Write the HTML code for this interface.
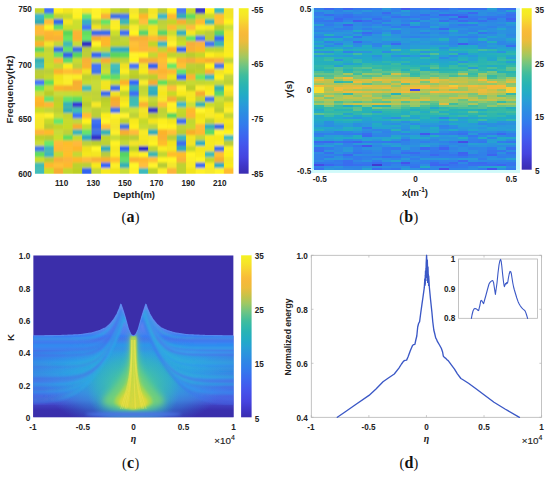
<!DOCTYPE html>
<html><head><meta charset="utf-8"><title>Figure</title>
<style>html,body{margin:0;padding:0;background:#fff;}svg{display:block;}</style>
</head><body>
<svg width="550" height="477" viewBox="0 0 550 477">
<rect width="550" height="477" fill="#ffffff"/>
<defs><linearGradient id="pg" x1="0" y1="0" x2="0" y2="1"><stop offset="0.0000" stop-color="#f4f222"/><stop offset="0.0200" stop-color="#f5ec25"/><stop offset="0.0400" stop-color="#f6e728"/><stop offset="0.0600" stop-color="#f6df2c"/><stop offset="0.0800" stop-color="#f7d630"/><stop offset="0.1000" stop-color="#f8cc34"/><stop offset="0.1200" stop-color="#f8c436"/><stop offset="0.1400" stop-color="#f8bc39"/><stop offset="0.1600" stop-color="#f6b93a"/><stop offset="0.1800" stop-color="#f1ba3b"/><stop offset="0.2000" stop-color="#ecbc3c"/><stop offset="0.2200" stop-color="#debe41"/><stop offset="0.2400" stop-color="#cfc146"/><stop offset="0.2600" stop-color="#bfc34e"/><stop offset="0.2800" stop-color="#aec659"/><stop offset="0.3000" stop-color="#9cc864"/><stop offset="0.3200" stop-color="#89c671"/><stop offset="0.3400" stop-color="#76c57e"/><stop offset="0.3600" stop-color="#64c389"/><stop offset="0.3800" stop-color="#54c092"/><stop offset="0.4000" stop-color="#44bd9b"/><stop offset="0.4200" stop-color="#39bba3"/><stop offset="0.4400" stop-color="#32b8aa"/><stop offset="0.4600" stop-color="#2bb5b1"/><stop offset="0.4800" stop-color="#27b2b7"/><stop offset="0.5000" stop-color="#25afbe"/><stop offset="0.5200" stop-color="#23acc5"/><stop offset="0.5400" stop-color="#23a7cb"/><stop offset="0.5600" stop-color="#26a2d2"/><stop offset="0.5800" stop-color="#289cd8"/><stop offset="0.6000" stop-color="#2a96dc"/><stop offset="0.6200" stop-color="#2b91e0"/><stop offset="0.6400" stop-color="#2d8be3"/><stop offset="0.6600" stop-color="#2f86e6"/><stop offset="0.6800" stop-color="#3081e9"/><stop offset="0.7000" stop-color="#327cec"/><stop offset="0.7200" stop-color="#3576ed"/><stop offset="0.7400" stop-color="#386fee"/><stop offset="0.7600" stop-color="#3b69ef"/><stop offset="0.7800" stop-color="#3d63ef"/><stop offset="0.8000" stop-color="#405dee"/><stop offset="0.8200" stop-color="#4357ed"/><stop offset="0.8400" stop-color="#4452ea"/><stop offset="0.8600" stop-color="#454de7"/><stop offset="0.8800" stop-color="#4549e3"/><stop offset="0.9000" stop-color="#4644e0"/><stop offset="0.9200" stop-color="#433fd7"/><stop offset="0.9400" stop-color="#4139cd"/><stop offset="0.9600" stop-color="#3e34c4"/><stop offset="0.9800" stop-color="#3c30ba"/><stop offset="1.0000" stop-color="#3a2cb0"/></linearGradient>
<clipPath id="clipA"><rect x="34.90" y="8.20" width="198.50" height="165.50"/></clipPath>
<filter id="vblurA" x="-5%" y="-5%" width="110%" height="110%"><feGaussianBlur stdDeviation="0.5 1.3"/></filter>
<clipPath id="clipC"><rect x="33.20" y="255.30" width="200.40" height="162.00"/></clipPath>
<clipPath id="clipLit"><path d="M30.20 335.80 L33.20 335.80 L33.70 335.79 L34.20 335.79 L34.70 335.78 L35.20 335.78 L35.70 335.77 L36.20 335.77 L36.70 335.76 L37.20 335.75 L37.70 335.75 L38.20 335.74 L38.70 335.74 L39.20 335.73 L39.70 335.73 L40.20 335.72 L40.70 335.72 L41.20 335.71 L41.70 335.70 L42.20 335.70 L42.70 335.69 L43.20 335.69 L43.70 335.68 L44.20 335.68 L44.70 335.67 L45.20 335.67 L45.70 335.66 L46.20 335.65 L46.70 335.65 L47.20 335.64 L47.70 335.64 L48.20 335.63 L48.70 335.63 L49.20 335.62 L49.70 335.61 L50.20 335.61 L50.70 335.60 L51.20 335.60 L51.70 335.59 L52.20 335.59 L52.70 335.58 L53.20 335.58 L53.70 335.57 L54.20 335.56 L54.70 335.56 L55.20 335.55 L55.70 335.55 L56.20 335.54 L56.70 335.54 L57.20 335.53 L57.70 335.53 L58.20 335.52 L58.70 335.51 L59.20 335.51 L59.70 335.50 L60.20 335.49 L60.70 335.47 L61.20 335.45 L61.70 335.42 L62.20 335.40 L62.70 335.38 L63.20 335.36 L63.70 335.33 L64.20 335.31 L64.70 335.29 L65.20 335.27 L65.70 335.24 L66.20 335.22 L66.70 335.20 L67.20 335.18 L67.70 335.15 L68.20 335.13 L68.70 335.11 L69.20 335.09 L69.70 335.06 L70.20 335.04 L70.70 335.02 L71.20 335.00 L71.70 334.97 L72.20 334.95 L72.70 334.93 L73.20 334.91 L73.70 334.88 L74.20 334.86 L74.70 334.84 L75.20 334.82 L75.70 334.79 L76.20 334.77 L76.70 334.75 L77.20 334.73 L77.70 334.70 L78.20 334.68 L78.70 334.66 L79.20 334.64 L79.70 334.61 L80.20 334.57 L80.70 334.50 L81.20 334.42 L81.70 334.35 L82.20 334.27 L82.70 334.19 L83.20 334.12 L83.70 334.05 L84.20 333.97 L84.70 333.90 L85.20 333.82 L85.70 333.75 L86.20 333.67 L86.70 333.60 L87.20 333.52 L87.70 333.44 L88.20 333.37 L88.70 333.30 L89.20 333.22 L89.70 333.15 L90.20 333.07 L90.70 333.00 L91.20 332.92 L91.70 332.85 L92.20 332.74 L92.70 332.59 L93.20 332.44 L93.70 332.29 L94.20 332.14 L94.70 331.99 L95.20 331.84 L95.70 331.69 L96.20 331.54 L96.70 331.39 L97.20 331.24 L97.70 331.09 L98.20 330.94 L98.70 330.79 L99.20 330.64 L99.70 330.49 L100.20 330.30 L100.70 330.06 L101.20 329.82 L101.70 329.58 L102.20 329.34 L102.70 329.09 L103.20 328.85 L103.70 328.61 L104.20 328.37 L104.70 328.13 L105.20 327.89 L105.70 327.64 L106.20 327.32 L106.70 326.89 L107.20 326.45 L107.70 326.01 L108.20 325.57 L108.70 325.14 L109.20 324.70 L109.70 324.26 L110.20 323.75 L110.70 323.12 L111.20 322.50 L111.70 321.88 L112.20 321.25 L112.70 320.62 L113.20 320.00 L113.70 319.38 L114.20 318.66 L114.70 317.81 L115.20 316.96 L115.70 316.11 L116.20 315.26 L116.70 314.41 L117.20 313.43 L117.70 312.25 L118.20 311.07 L118.70 309.89 L119.20 308.71 L119.70 307.39 L120.20 305.85 L120.70 304.31 L121.20 304.60 L121.70 306.10 L122.20 307.60 L122.70 309.13 L123.20 310.71 L123.70 312.29 L124.20 313.87 L124.70 315.45 L125.20 317.12 L125.70 318.92 L126.20 320.72 L126.70 322.52 L127.20 324.32 L127.70 326.12 L128.20 327.92 L128.70 329.44 L129.20 330.54 L129.70 331.64 L130.20 332.74 L130.70 333.84 L131.20 334.63 L131.70 334.95 L132.20 335.27 L132.70 335.59 L133.20 335.90 L133.70 335.84 L134.20 335.52 L134.70 335.20 L135.20 334.88 L135.70 334.56 L136.20 333.62 L136.70 332.52 L137.20 331.42 L137.70 330.32 L138.20 329.22 L138.70 327.56 L139.20 325.76 L139.70 323.96 L140.20 322.16 L140.70 320.36 L141.20 318.56 L141.70 316.76 L142.20 315.14 L142.70 313.56 L143.20 311.98 L143.70 310.40 L144.20 308.82 L144.70 307.30 L145.20 305.80 L145.70 304.30 L146.20 304.62 L146.70 306.16 L147.20 307.69 L147.70 308.94 L148.20 310.12 L148.70 311.30 L149.20 312.48 L149.70 313.66 L150.20 314.58 L150.70 315.43 L151.20 316.28 L151.70 317.13 L152.20 317.98 L152.70 318.83 L153.20 319.50 L153.70 320.12 L154.20 320.75 L154.70 321.38 L155.20 322.00 L155.70 322.62 L156.20 323.25 L156.70 323.88 L157.20 324.35 L157.70 324.79 L158.20 325.22 L158.70 325.66 L159.20 326.10 L159.70 326.54 L160.20 326.97 L160.70 327.41 L161.20 327.69 L161.70 327.94 L162.20 328.18 L162.70 328.42 L163.20 328.66 L163.70 328.90 L164.20 329.14 L164.70 329.38 L165.20 329.63 L165.70 329.87 L166.20 330.11 L166.70 330.35 L167.20 330.52 L167.70 330.67 L168.20 330.82 L168.70 330.97 L169.20 331.12 L169.70 331.27 L170.20 331.42 L170.70 331.57 L171.20 331.72 L171.70 331.87 L172.20 332.02 L172.70 332.17 L173.20 332.32 L173.70 332.47 L174.20 332.62 L174.70 332.77 L175.20 332.86 L175.70 332.94 L176.20 333.01 L176.70 333.09 L177.20 333.16 L177.70 333.24 L178.20 333.31 L178.70 333.38 L179.20 333.46 L179.70 333.54 L180.20 333.61 L180.70 333.69 L181.20 333.76 L181.70 333.84 L182.20 333.91 L182.70 333.99 L183.20 334.06 L183.70 334.13 L184.20 334.21 L184.70 334.29 L185.20 334.36 L185.70 334.44 L186.20 334.51 L186.70 334.59 L187.20 334.62 L187.70 334.64 L188.20 334.66 L188.70 334.69 L189.20 334.71 L189.70 334.73 L190.20 334.75 L190.70 334.78 L191.20 334.80 L191.70 334.82 L192.20 334.84 L192.70 334.87 L193.20 334.89 L193.70 334.91 L194.20 334.93 L194.70 334.96 L195.20 334.98 L195.70 335.00 L196.20 335.02 L196.70 335.05 L197.20 335.07 L197.70 335.09 L198.20 335.11 L198.70 335.14 L199.20 335.16 L199.70 335.18 L200.20 335.20 L200.70 335.23 L201.20 335.25 L201.70 335.27 L202.20 335.29 L202.70 335.32 L203.20 335.34 L203.70 335.36 L204.20 335.38 L204.70 335.41 L205.20 335.43 L205.70 335.45 L206.20 335.47 L206.70 335.50 L207.20 335.50 L207.70 335.51 L208.20 335.52 L208.70 335.52 L209.20 335.53 L209.70 335.53 L210.20 335.54 L210.70 335.54 L211.20 335.55 L211.70 335.55 L212.20 335.56 L212.70 335.57 L213.20 335.57 L213.70 335.58 L214.20 335.58 L214.70 335.59 L215.20 335.59 L215.70 335.60 L216.20 335.60 L216.70 335.61 L217.20 335.62 L217.70 335.62 L218.20 335.63 L218.70 335.63 L219.20 335.64 L219.70 335.64 L220.20 335.65 L220.70 335.66 L221.20 335.66 L221.70 335.67 L222.20 335.67 L222.70 335.68 L223.20 335.68 L223.70 335.69 L224.20 335.69 L224.70 335.70 L225.20 335.71 L225.70 335.71 L226.20 335.72 L226.70 335.72 L227.20 335.73 L227.70 335.73 L228.20 335.74 L228.70 335.74 L229.20 335.75 L229.70 335.76 L230.20 335.76 L230.70 335.77 L231.20 335.77 L231.70 335.78 L232.20 335.78 L232.70 335.79 L233.20 335.79 L236.60 335.79 L236.60 420.30 L30.20 420.30 Z"/></clipPath>
<linearGradient id="litg" gradientUnits="userSpaceOnUse" x1="0" y1="300" x2="0" y2="417"><stop offset="0.0000" stop-color="#8a8cec"/><stop offset="0.1538" stop-color="#6f86ee"/><stop offset="0.2906" stop-color="#4a80f0"/><stop offset="0.3077" stop-color="#3a78f8"/><stop offset="0.3333" stop-color="#4a6eea"/><stop offset="0.3590" stop-color="#3f7cf0"/><stop offset="0.3846" stop-color="#2a90f0"/><stop offset="0.4188" stop-color="#3a84f0"/><stop offset="0.4530" stop-color="#2f98ea"/><stop offset="0.5556" stop-color="#2d9fe6"/><stop offset="0.6667" stop-color="#2f9ce4"/><stop offset="0.7350" stop-color="#3a84e8"/><stop offset="0.8034" stop-color="#4670e6"/><stop offset="0.8547" stop-color="#4a5cd8"/><stop offset="0.8974" stop-color="#4040c0"/><stop offset="0.9402" stop-color="#3a30ae"/><stop offset="1.0000" stop-color="#3a2eaa"/></linearGradient>
<linearGradient id="sideg" x1="0" y1="0" x2="1" y2="0"><stop offset="0" stop-color="#4a58e0" stop-opacity="0.4"/><stop offset="0.22" stop-color="#4a58e0" stop-opacity="0"/><stop offset="0.78" stop-color="#4a58e0" stop-opacity="0"/><stop offset="1" stop-color="#4a58e0" stop-opacity="0.4"/></linearGradient>
<radialGradient id="tealg" gradientUnits="userSpaceOnUse" cx="0" cy="0" r="1"><stop offset="0" stop-color="#34b4c8" stop-opacity="0.95"/><stop offset="0.4" stop-color="#30aad2" stop-opacity="0.8"/><stop offset="0.75" stop-color="#2f9ee0" stop-opacity="0.4"/><stop offset="1" stop-color="#2f90e6" stop-opacity="0"/></radialGradient>
<radialGradient id="greeng" gradientUnits="userSpaceOnUse" cx="0" cy="0" r="1"><stop offset="0" stop-color="#62cc88" stop-opacity="1"/><stop offset="0.45" stop-color="#48c4a0" stop-opacity="0.85"/><stop offset="0.8" stop-color="#38b8b4" stop-opacity="0.4"/><stop offset="1" stop-color="#34b0c0" stop-opacity="0"/></radialGradient>
<filter id="blC3" x="-30%" y="-30%" width="160%" height="160%"><feGaussianBlur stdDeviation="3"/></filter>
<filter id="blC2" x="-30%" y="-30%" width="160%" height="160%"><feGaussianBlur stdDeviation="1.6"/></filter>
<filter id="blC05" x="-30%" y="-30%" width="160%" height="160%"><feGaussianBlur stdDeviation="0.35"/></filter>
<filter id="blC1" x="-30%" y="-30%" width="160%" height="160%"><feGaussianBlur stdDeviation="0.8"/></filter>
<linearGradient id="colg" gradientUnits="userSpaceOnUse" x1="0" y1="336" x2="0" y2="400"><stop offset="0" stop-color="#9cd658"/><stop offset="0.35" stop-color="#c4dc42"/><stop offset="1" stop-color="#dcd83a"/></linearGradient></defs>
<g clip-path="url(#clipA)"><g filter="url(#vblurA)"><rect x="30.90" y="2.20" width="206.50" height="177.50" fill="#e6d838"/><rect x="34.85" y="2.15" width="9.55" height="11.62" fill="#c2d62c"/><rect x="34.85" y="13.67" width="9.55" height="5.62" fill="#3ab6c8"/><rect x="34.85" y="19.18" width="9.55" height="5.62" fill="#2fabb6"/><rect x="34.85" y="24.70" width="9.55" height="5.62" fill="#ffbd2d"/><rect x="34.85" y="30.22" width="9.55" height="5.62" fill="#ffb73c"/><rect x="34.85" y="35.73" width="9.55" height="5.62" fill="#b9cd38"/><rect x="34.85" y="41.25" width="9.55" height="5.62" fill="#fbb22b"/><rect x="34.85" y="46.77" width="9.55" height="5.62" fill="#58d667"/><rect x="34.85" y="52.28" width="9.55" height="5.62" fill="#c5d92a"/><rect x="34.85" y="57.80" width="9.55" height="5.62" fill="#35b1b6"/><rect x="34.85" y="63.32" width="9.55" height="5.62" fill="#3fbbc1"/><rect x="34.85" y="68.83" width="9.55" height="5.62" fill="#b9cd3a"/><rect x="34.85" y="74.35" width="9.55" height="5.62" fill="#bbcf2f"/><rect x="34.85" y="79.87" width="9.55" height="5.62" fill="#4678fa"/><rect x="34.85" y="85.38" width="9.55" height="5.62" fill="#68e65b"/><rect x="34.85" y="90.90" width="9.55" height="5.62" fill="#cade3a"/><rect x="34.85" y="96.42" width="9.55" height="5.62" fill="#ffb82b"/><rect x="34.85" y="101.93" width="9.55" height="5.62" fill="#fcb32b"/><rect x="34.85" y="107.45" width="9.55" height="5.62" fill="#c9dd2c"/><rect x="34.85" y="112.97" width="9.55" height="5.62" fill="#f9eb27"/><rect x="34.85" y="118.48" width="9.55" height="5.62" fill="#f4e62b"/><rect x="34.85" y="124.00" width="9.55" height="5.62" fill="#f3e52c"/><rect x="34.85" y="129.52" width="9.55" height="5.62" fill="#feb53b"/><rect x="34.85" y="135.03" width="9.55" height="5.62" fill="#bdd12b"/><rect x="34.85" y="140.55" width="9.55" height="5.62" fill="#cade3a"/><rect x="34.85" y="146.07" width="9.55" height="5.62" fill="#4678ec"/><rect x="34.85" y="151.58" width="9.55" height="5.62" fill="#61df5d"/><rect x="34.85" y="157.10" width="9.55" height="5.62" fill="#c9dd2a"/><rect x="34.85" y="162.62" width="9.55" height="5.62" fill="#40bcb5"/><rect x="34.85" y="168.13" width="9.55" height="11.62" fill="#41bdba"/><rect x="44.30" y="2.15" width="9.55" height="11.62" fill="#4173f7"/><rect x="44.30" y="13.67" width="9.55" height="5.62" fill="#63e164"/><rect x="44.30" y="19.18" width="9.55" height="5.62" fill="#ffba3c"/><rect x="44.30" y="24.70" width="9.55" height="5.62" fill="#fef025"/><rect x="44.30" y="30.22" width="9.55" height="5.62" fill="#feb531"/><rect x="44.30" y="35.73" width="9.55" height="5.62" fill="#fab131"/><rect x="44.30" y="41.25" width="9.55" height="5.62" fill="#f2e42c"/><rect x="44.30" y="46.77" width="9.55" height="5.62" fill="#c1d538"/><rect x="44.30" y="52.28" width="9.55" height="5.62" fill="#c7db32"/><rect x="44.30" y="57.80" width="9.55" height="5.62" fill="#c6da31"/><rect x="44.30" y="63.32" width="9.55" height="5.62" fill="#cbdf2a"/><rect x="44.30" y="68.83" width="9.55" height="5.62" fill="#bbcf38"/><rect x="44.30" y="74.35" width="9.55" height="5.62" fill="#c5d92d"/><rect x="44.30" y="79.87" width="9.55" height="5.62" fill="#60de5e"/><rect x="44.30" y="85.38" width="9.55" height="5.62" fill="#c7db35"/><rect x="44.30" y="90.90" width="9.55" height="5.62" fill="#b9cd2a"/><rect x="44.30" y="96.42" width="9.55" height="5.62" fill="#67e56c"/><rect x="44.30" y="101.93" width="9.55" height="5.62" fill="#ffb634"/><rect x="44.30" y="107.45" width="9.55" height="5.62" fill="#c3d73b"/><rect x="44.30" y="112.97" width="9.55" height="5.62" fill="#fff12c"/><rect x="44.30" y="118.48" width="9.55" height="5.62" fill="#c6da2a"/><rect x="44.30" y="124.00" width="9.55" height="5.62" fill="#bace30"/><rect x="44.30" y="129.52" width="9.55" height="5.62" fill="#ffbb2c"/><rect x="44.30" y="135.03" width="9.55" height="5.62" fill="#b9cd31"/><rect x="44.30" y="140.55" width="9.55" height="5.62" fill="#6ae86c"/><rect x="44.30" y="146.07" width="9.55" height="5.62" fill="#3cb8bd"/><rect x="44.30" y="151.58" width="9.55" height="5.62" fill="#3ab6bf"/><rect x="44.30" y="157.10" width="9.55" height="5.62" fill="#b8cc36"/><rect x="44.30" y="162.62" width="9.55" height="5.62" fill="#ffb72f"/><rect x="44.30" y="168.13" width="9.55" height="11.62" fill="#cbdf2b"/><rect x="53.75" y="2.15" width="9.55" height="11.62" fill="#fff11b"/><rect x="53.75" y="13.67" width="9.55" height="5.62" fill="#bed231"/><rect x="53.75" y="19.18" width="9.55" height="5.62" fill="#3668ed"/><rect x="53.75" y="24.70" width="9.55" height="5.62" fill="#62e066"/><rect x="53.75" y="30.22" width="9.55" height="5.62" fill="#ffbb2c"/><rect x="53.75" y="35.73" width="9.55" height="5.62" fill="#fab138"/><rect x="53.75" y="41.25" width="9.55" height="5.62" fill="#c4d839"/><rect x="53.75" y="46.77" width="9.55" height="5.62" fill="#3a6cea"/><rect x="53.75" y="52.28" width="9.55" height="5.62" fill="#63e16b"/><rect x="53.75" y="57.80" width="9.55" height="5.62" fill="#fdb437"/><rect x="53.75" y="63.32" width="9.55" height="5.62" fill="#c3d734"/><rect x="53.75" y="68.83" width="9.55" height="5.62" fill="#fcb32e"/><rect x="53.75" y="74.35" width="9.55" height="5.62" fill="#f2e41f"/><rect x="53.75" y="79.87" width="9.55" height="5.62" fill="#f4e621"/><rect x="53.75" y="85.38" width="9.55" height="5.62" fill="#fcb32a"/><rect x="53.75" y="90.90" width="9.55" height="5.62" fill="#c7db3a"/><rect x="53.75" y="96.42" width="9.55" height="5.62" fill="#bdd130"/><rect x="53.75" y="101.93" width="9.55" height="5.62" fill="#c1d528"/><rect x="53.75" y="107.45" width="9.55" height="5.62" fill="#bcd035"/><rect x="53.75" y="112.97" width="9.55" height="5.62" fill="#c9dd33"/><rect x="53.75" y="118.48" width="9.55" height="5.62" fill="#69e76c"/><rect x="53.75" y="124.00" width="9.55" height="5.62" fill="#c2d62c"/><rect x="53.75" y="129.52" width="9.55" height="5.62" fill="#c8dc3b"/><rect x="53.75" y="135.03" width="9.55" height="5.62" fill="#cce029"/><rect x="53.75" y="140.55" width="9.55" height="5.62" fill="#ffba3b"/><rect x="53.75" y="146.07" width="9.55" height="5.62" fill="#ffb836"/><rect x="53.75" y="151.58" width="9.55" height="5.62" fill="#c4d834"/><rect x="53.75" y="157.10" width="9.55" height="5.62" fill="#f8af39"/><rect x="53.75" y="162.62" width="9.55" height="5.62" fill="#ffc036"/><rect x="53.75" y="168.13" width="9.55" height="11.62" fill="#f6ad30"/><rect x="63.21" y="2.15" width="9.55" height="11.62" fill="#f2e420"/><rect x="63.21" y="13.67" width="9.55" height="5.62" fill="#c6da2d"/><rect x="63.21" y="19.18" width="9.55" height="5.62" fill="#f3e524"/><rect x="63.21" y="24.70" width="9.55" height="5.62" fill="#cbdf29"/><rect x="63.21" y="30.22" width="9.55" height="5.62" fill="#59d75a"/><rect x="63.21" y="35.73" width="9.55" height="5.62" fill="#68e65e"/><rect x="63.21" y="41.25" width="9.55" height="5.62" fill="#3fbbb7"/><rect x="63.21" y="46.77" width="9.55" height="5.62" fill="#61df6d"/><rect x="63.21" y="52.28" width="9.55" height="5.62" fill="#3264e8"/><rect x="63.21" y="57.80" width="9.55" height="5.62" fill="#5cda6d"/><rect x="63.21" y="63.32" width="9.55" height="5.62" fill="#fcee1e"/><rect x="63.21" y="68.83" width="9.55" height="5.62" fill="#ffc032"/><rect x="63.21" y="74.35" width="9.55" height="5.62" fill="#fbed2d"/><rect x="63.21" y="79.87" width="9.55" height="5.62" fill="#fbed29"/><rect x="63.21" y="85.38" width="9.55" height="5.62" fill="#f8af2d"/><rect x="63.21" y="90.90" width="9.55" height="5.62" fill="#c7db36"/><rect x="63.21" y="96.42" width="9.55" height="5.62" fill="#65e369"/><rect x="63.21" y="101.93" width="9.55" height="5.62" fill="#37b3b6"/><rect x="63.21" y="107.45" width="9.55" height="5.62" fill="#32aeb7"/><rect x="63.21" y="112.97" width="9.55" height="5.62" fill="#c2d630"/><rect x="63.21" y="118.48" width="9.55" height="5.62" fill="#c7db2d"/><rect x="63.21" y="124.00" width="9.55" height="5.62" fill="#c8dc28"/><rect x="63.21" y="129.52" width="9.55" height="5.62" fill="#bed238"/><rect x="63.21" y="135.03" width="9.55" height="5.62" fill="#61df5e"/><rect x="63.21" y="140.55" width="9.55" height="5.62" fill="#ffbd2a"/><rect x="63.21" y="146.07" width="9.55" height="5.62" fill="#ffbc33"/><rect x="63.21" y="151.58" width="9.55" height="5.62" fill="#ffc02c"/><rect x="63.21" y="157.10" width="9.55" height="5.62" fill="#fdb43a"/><rect x="63.21" y="162.62" width="9.55" height="5.62" fill="#ffb72f"/><rect x="63.21" y="168.13" width="9.55" height="11.62" fill="#c3d72f"/><rect x="72.66" y="2.15" width="9.55" height="11.62" fill="#fff32b"/><rect x="72.66" y="13.67" width="9.55" height="5.62" fill="#fff224"/><rect x="72.66" y="19.18" width="9.55" height="5.62" fill="#cce02f"/><rect x="72.66" y="24.70" width="9.55" height="5.62" fill="#cbdf2e"/><rect x="72.66" y="30.22" width="9.55" height="5.62" fill="#fcb336"/><rect x="72.66" y="35.73" width="9.55" height="5.62" fill="#fcb330"/><rect x="72.66" y="41.25" width="9.55" height="5.62" fill="#c8dc37"/><rect x="72.66" y="46.77" width="9.55" height="5.62" fill="#3d6fe6"/><rect x="72.66" y="52.28" width="9.55" height="5.62" fill="#56d462"/><rect x="72.66" y="57.80" width="9.55" height="5.62" fill="#c7db30"/><rect x="72.66" y="63.32" width="9.55" height="5.62" fill="#bed23b"/><rect x="72.66" y="68.83" width="9.55" height="5.62" fill="#ffb738"/><rect x="72.66" y="74.35" width="9.55" height="5.62" fill="#fbed25"/><rect x="72.66" y="79.87" width="9.55" height="5.62" fill="#f7ae31"/><rect x="72.66" y="85.38" width="9.55" height="5.62" fill="#f8af31"/><rect x="72.66" y="90.90" width="9.55" height="5.62" fill="#c7db2e"/><rect x="72.66" y="96.42" width="9.55" height="5.62" fill="#60de60"/><rect x="72.66" y="101.93" width="9.55" height="5.62" fill="#3939d5"/><rect x="72.66" y="107.45" width="9.55" height="5.62" fill="#41bdb4"/><rect x="72.66" y="112.97" width="9.55" height="5.62" fill="#4173fa"/><rect x="72.66" y="118.48" width="9.55" height="5.62" fill="#c3d73c"/><rect x="72.66" y="124.00" width="9.55" height="5.62" fill="#f7ae2d"/><rect x="72.66" y="129.52" width="9.55" height="5.62" fill="#3ab6ba"/><rect x="72.66" y="135.03" width="9.55" height="5.62" fill="#c7db2d"/><rect x="72.66" y="140.55" width="9.55" height="5.62" fill="#ffb93e"/><rect x="72.66" y="146.07" width="9.55" height="5.62" fill="#ffb62c"/><rect x="72.66" y="151.58" width="9.55" height="5.62" fill="#c4d836"/><rect x="72.66" y="157.10" width="9.55" height="5.62" fill="#ffb82c"/><rect x="72.66" y="162.62" width="9.55" height="5.62" fill="#bdd12d"/><rect x="72.66" y="168.13" width="9.55" height="11.62" fill="#bcd028"/><rect x="82.11" y="2.15" width="9.55" height="11.62" fill="#f4e62c"/><rect x="82.11" y="13.67" width="9.55" height="5.62" fill="#64e26e"/><rect x="82.11" y="19.18" width="9.55" height="5.62" fill="#32aec7"/><rect x="82.11" y="24.70" width="9.55" height="5.62" fill="#4577f5"/><rect x="82.11" y="30.22" width="9.55" height="5.62" fill="#61df5e"/><rect x="82.11" y="35.73" width="9.55" height="5.62" fill="#67e56b"/><rect x="82.11" y="41.25" width="9.55" height="5.62" fill="#2e2ec2"/><rect x="82.11" y="46.77" width="9.55" height="5.62" fill="#b8cc3c"/><rect x="82.11" y="52.28" width="9.55" height="5.62" fill="#bbcf38"/><rect x="82.11" y="57.80" width="9.55" height="5.62" fill="#f9b037"/><rect x="82.11" y="63.32" width="9.55" height="5.62" fill="#fbb230"/><rect x="82.11" y="68.83" width="9.55" height="5.62" fill="#f0e222"/><rect x="82.11" y="74.35" width="9.55" height="5.62" fill="#bed231"/><rect x="82.11" y="79.87" width="9.55" height="5.62" fill="#c8dc2f"/><rect x="82.11" y="85.38" width="9.55" height="5.62" fill="#40bcbe"/><rect x="82.11" y="90.90" width="9.55" height="5.62" fill="#c0d439"/><rect x="82.11" y="96.42" width="9.55" height="5.62" fill="#c5d92c"/><rect x="82.11" y="101.93" width="9.55" height="5.62" fill="#b9cd33"/><rect x="82.11" y="107.45" width="9.55" height="5.62" fill="#c6da3a"/><rect x="82.11" y="112.97" width="9.55" height="5.62" fill="#ffbc37"/><rect x="82.11" y="118.48" width="9.55" height="5.62" fill="#fff21e"/><rect x="82.11" y="124.00" width="9.55" height="5.62" fill="#c9dd2c"/><rect x="82.11" y="129.52" width="9.55" height="5.62" fill="#66e46a"/><rect x="82.11" y="135.03" width="9.55" height="5.62" fill="#2eaac2"/><rect x="82.11" y="140.55" width="9.55" height="5.62" fill="#bdd13b"/><rect x="82.11" y="146.07" width="9.55" height="5.62" fill="#f0e21e"/><rect x="82.11" y="151.58" width="9.55" height="5.62" fill="#f5e71e"/><rect x="82.11" y="157.10" width="9.55" height="5.62" fill="#ffbb3d"/><rect x="82.11" y="162.62" width="9.55" height="5.62" fill="#bbcf39"/><rect x="82.11" y="168.13" width="9.55" height="11.62" fill="#3365f0"/><rect x="91.56" y="2.15" width="9.55" height="11.62" fill="#fff22a"/><rect x="91.56" y="13.67" width="9.55" height="5.62" fill="#fff329"/><rect x="91.56" y="19.18" width="9.55" height="5.62" fill="#bbcf39"/><rect x="91.56" y="24.70" width="9.55" height="5.62" fill="#f1e321"/><rect x="91.56" y="30.22" width="9.55" height="5.62" fill="#386aee"/><rect x="91.56" y="35.73" width="9.55" height="5.62" fill="#f6ad2d"/><rect x="91.56" y="41.25" width="9.55" height="5.62" fill="#fff228"/><rect x="91.56" y="46.77" width="9.55" height="5.62" fill="#c9dd28"/><rect x="91.56" y="52.28" width="9.55" height="5.62" fill="#3466f4"/><rect x="91.56" y="57.80" width="9.55" height="5.62" fill="#c2d63b"/><rect x="91.56" y="63.32" width="9.55" height="5.62" fill="#4274f9"/><rect x="91.56" y="68.83" width="9.55" height="5.62" fill="#4274ec"/><rect x="91.56" y="74.35" width="9.55" height="5.62" fill="#c0d436"/><rect x="91.56" y="79.87" width="9.55" height="5.62" fill="#c8dc39"/><rect x="91.56" y="85.38" width="9.55" height="5.62" fill="#c7db38"/><rect x="91.56" y="90.90" width="9.55" height="5.62" fill="#bfd338"/><rect x="91.56" y="96.42" width="9.55" height="5.62" fill="#c0d439"/><rect x="91.56" y="101.93" width="9.55" height="5.62" fill="#f6e828"/><rect x="91.56" y="107.45" width="9.55" height="5.62" fill="#bcd035"/><rect x="91.56" y="112.97" width="9.55" height="5.62" fill="#bbcf34"/><rect x="91.56" y="118.48" width="9.55" height="5.62" fill="#4072f0"/><rect x="91.56" y="124.00" width="9.55" height="5.62" fill="#3466ed"/><rect x="91.56" y="129.52" width="9.55" height="5.62" fill="#3f71e8"/><rect x="91.56" y="135.03" width="9.55" height="5.62" fill="#3030cb"/><rect x="91.56" y="140.55" width="9.55" height="5.62" fill="#bbcf2c"/><rect x="91.56" y="146.07" width="9.55" height="5.62" fill="#fff625"/><rect x="91.56" y="151.58" width="9.55" height="5.62" fill="#f4e622"/><rect x="91.56" y="157.10" width="9.55" height="5.62" fill="#f9b038"/><rect x="91.56" y="162.62" width="9.55" height="5.62" fill="#f7e91d"/><rect x="91.56" y="168.13" width="9.55" height="11.62" fill="#c4d837"/><rect x="101.02" y="2.15" width="9.55" height="11.62" fill="#f5e721"/><rect x="101.02" y="13.67" width="9.55" height="5.62" fill="#fab137"/><rect x="101.02" y="19.18" width="9.55" height="5.62" fill="#66e466"/><rect x="101.02" y="24.70" width="9.55" height="5.62" fill="#c2d635"/><rect x="101.02" y="30.22" width="9.55" height="5.62" fill="#386af1"/><rect x="101.02" y="35.73" width="9.55" height="5.62" fill="#ffb62c"/><rect x="101.02" y="41.25" width="9.55" height="5.62" fill="#ffb72a"/><rect x="101.02" y="46.77" width="9.55" height="5.62" fill="#c2d639"/><rect x="101.02" y="52.28" width="9.55" height="5.62" fill="#3cb8c2"/><rect x="101.02" y="57.80" width="9.55" height="5.62" fill="#f5ac36"/><rect x="101.02" y="63.32" width="9.55" height="5.62" fill="#c2d638"/><rect x="101.02" y="68.83" width="9.55" height="5.62" fill="#cbdf31"/><rect x="101.02" y="74.35" width="9.55" height="5.62" fill="#66e45c"/><rect x="101.02" y="79.87" width="9.55" height="5.62" fill="#f3e521"/><rect x="101.02" y="85.38" width="9.55" height="5.62" fill="#f3e51c"/><rect x="101.02" y="90.90" width="9.55" height="5.62" fill="#3a6cee"/><rect x="101.02" y="96.42" width="9.55" height="5.62" fill="#b9cd2d"/><rect x="101.02" y="101.93" width="9.55" height="5.62" fill="#c0d42c"/><rect x="101.02" y="107.45" width="9.55" height="5.62" fill="#c5d930"/><rect x="101.02" y="112.97" width="9.55" height="5.62" fill="#fcee1e"/><rect x="101.02" y="118.48" width="9.55" height="5.62" fill="#fff32a"/><rect x="101.02" y="124.00" width="9.55" height="5.62" fill="#ffbe39"/><rect x="101.02" y="129.52" width="9.55" height="5.62" fill="#38b4b6"/><rect x="101.02" y="135.03" width="9.55" height="5.62" fill="#c0d429"/><rect x="101.02" y="140.55" width="9.55" height="5.62" fill="#bdd135"/><rect x="101.02" y="146.07" width="9.55" height="5.62" fill="#30acbc"/><rect x="101.02" y="151.58" width="9.55" height="5.62" fill="#b8cc3c"/><rect x="101.02" y="157.10" width="9.55" height="5.62" fill="#f7ae32"/><rect x="101.02" y="162.62" width="9.55" height="5.62" fill="#3466f9"/><rect x="101.02" y="168.13" width="9.55" height="11.62" fill="#f7e91c"/><rect x="110.47" y="2.15" width="9.55" height="11.62" fill="#c0d42b"/><rect x="110.47" y="13.67" width="9.55" height="5.62" fill="#4072e6"/><rect x="110.47" y="19.18" width="9.55" height="5.62" fill="#faec2b"/><rect x="110.47" y="24.70" width="9.55" height="5.62" fill="#fdef22"/><rect x="110.47" y="30.22" width="9.55" height="5.62" fill="#cbdf2c"/><rect x="110.47" y="35.73" width="9.55" height="5.62" fill="#b9cd38"/><rect x="110.47" y="41.25" width="9.55" height="5.62" fill="#bfd32b"/><rect x="110.47" y="46.77" width="9.55" height="5.62" fill="#33afbc"/><rect x="110.47" y="52.28" width="9.55" height="5.62" fill="#57d55f"/><rect x="110.47" y="57.80" width="9.55" height="5.62" fill="#bed231"/><rect x="110.47" y="63.32" width="9.55" height="5.62" fill="#42bebd"/><rect x="110.47" y="68.83" width="9.55" height="5.62" fill="#3ebaba"/><rect x="110.47" y="74.35" width="9.55" height="5.62" fill="#5fdd68"/><rect x="110.47" y="79.87" width="9.55" height="5.62" fill="#c8dc2d"/><rect x="110.47" y="85.38" width="9.55" height="5.62" fill="#3a6cf1"/><rect x="110.47" y="90.90" width="9.55" height="5.62" fill="#f0e222"/><rect x="110.47" y="96.42" width="9.55" height="5.62" fill="#f6ad2a"/><rect x="110.47" y="101.93" width="9.55" height="5.62" fill="#f5ac3a"/><rect x="110.47" y="107.45" width="9.55" height="5.62" fill="#4375ec"/><rect x="110.47" y="112.97" width="9.55" height="5.62" fill="#fff229"/><rect x="110.47" y="118.48" width="9.55" height="5.62" fill="#f7e928"/><rect x="110.47" y="124.00" width="9.55" height="5.62" fill="#f3e52e"/><rect x="110.47" y="129.52" width="9.55" height="5.62" fill="#fdef29"/><rect x="110.47" y="135.03" width="9.55" height="5.62" fill="#c9dd34"/><rect x="110.47" y="140.55" width="9.55" height="5.62" fill="#fff223"/><rect x="110.47" y="146.07" width="9.55" height="5.62" fill="#f6e821"/><rect x="110.47" y="151.58" width="9.55" height="5.62" fill="#faec20"/><rect x="110.47" y="157.10" width="9.55" height="5.62" fill="#ffc02e"/><rect x="110.47" y="162.62" width="9.55" height="5.62" fill="#fcee25"/><rect x="110.47" y="168.13" width="9.55" height="11.62" fill="#f1e31e"/><rect x="119.92" y="2.15" width="9.55" height="11.62" fill="#b8cc2a"/><rect x="119.92" y="13.67" width="9.55" height="5.62" fill="#4678ee"/><rect x="119.92" y="19.18" width="9.55" height="5.62" fill="#3bb7b9"/><rect x="119.92" y="24.70" width="9.55" height="5.62" fill="#b9cd2a"/><rect x="119.92" y="30.22" width="9.55" height="5.62" fill="#3e70f6"/><rect x="119.92" y="35.73" width="9.55" height="5.62" fill="#c1d53b"/><rect x="119.92" y="41.25" width="9.55" height="5.62" fill="#bfd331"/><rect x="119.92" y="46.77" width="9.55" height="5.62" fill="#2fabc2"/><rect x="119.92" y="52.28" width="9.55" height="5.62" fill="#5bd95f"/><rect x="119.92" y="57.80" width="9.55" height="5.62" fill="#c0d436"/><rect x="119.92" y="63.32" width="9.55" height="5.62" fill="#f0e222"/><rect x="119.92" y="68.83" width="9.55" height="5.62" fill="#fbed24"/><rect x="119.92" y="74.35" width="9.55" height="5.62" fill="#c9dd32"/><rect x="119.92" y="79.87" width="9.55" height="5.62" fill="#fcb32b"/><rect x="119.92" y="85.38" width="9.55" height="5.62" fill="#f9eb20"/><rect x="119.92" y="90.90" width="9.55" height="5.62" fill="#c3d72d"/><rect x="119.92" y="96.42" width="9.55" height="5.62" fill="#f0e224"/><rect x="119.92" y="101.93" width="9.55" height="5.62" fill="#fcee1c"/><rect x="119.92" y="107.45" width="9.55" height="5.62" fill="#c7db30"/><rect x="119.92" y="112.97" width="9.55" height="5.62" fill="#fff22e"/><rect x="119.92" y="118.48" width="9.55" height="5.62" fill="#bed22f"/><rect x="119.92" y="124.00" width="9.55" height="5.62" fill="#4274e6"/><rect x="119.92" y="129.52" width="9.55" height="5.62" fill="#f7ae32"/><rect x="119.92" y="135.03" width="9.55" height="5.62" fill="#bace2c"/><rect x="119.92" y="140.55" width="9.55" height="5.62" fill="#c4d83a"/><rect x="119.92" y="146.07" width="9.55" height="5.62" fill="#3365f2"/><rect x="119.92" y="151.58" width="9.55" height="5.62" fill="#56d463"/><rect x="119.92" y="157.10" width="9.55" height="5.62" fill="#5fdd6e"/><rect x="119.92" y="162.62" width="9.55" height="5.62" fill="#35b1b6"/><rect x="119.92" y="168.13" width="9.55" height="11.62" fill="#cade38"/><rect x="129.37" y="2.15" width="9.55" height="11.62" fill="#f4e62d"/><rect x="129.37" y="13.67" width="9.55" height="5.62" fill="#fcee24"/><rect x="129.37" y="19.18" width="9.55" height="5.62" fill="#c7db2c"/><rect x="129.37" y="24.70" width="9.55" height="5.62" fill="#f9eb2d"/><rect x="129.37" y="30.22" width="9.55" height="5.62" fill="#fff61e"/><rect x="129.37" y="35.73" width="9.55" height="5.62" fill="#f6ad3a"/><rect x="129.37" y="41.25" width="9.55" height="5.62" fill="#ffc037"/><rect x="129.37" y="46.77" width="9.55" height="5.62" fill="#ffbc2e"/><rect x="129.37" y="52.28" width="9.55" height="5.62" fill="#fff22a"/><rect x="129.37" y="57.80" width="9.55" height="5.62" fill="#fff41a"/><rect x="129.37" y="63.32" width="9.55" height="5.62" fill="#4476fa"/><rect x="129.37" y="68.83" width="9.55" height="5.62" fill="#bfd32a"/><rect x="129.37" y="74.35" width="9.55" height="5.62" fill="#b8cc29"/><rect x="129.37" y="79.87" width="9.55" height="5.62" fill="#3668fa"/><rect x="129.37" y="85.38" width="9.55" height="5.62" fill="#39b5b7"/><rect x="129.37" y="90.90" width="9.55" height="5.62" fill="#3e70f4"/><rect x="129.37" y="96.42" width="9.55" height="5.62" fill="#3fbbb5"/><rect x="129.37" y="101.93" width="9.55" height="5.62" fill="#42beb4"/><rect x="129.37" y="107.45" width="9.55" height="5.62" fill="#cce039"/><rect x="129.37" y="112.97" width="9.55" height="5.62" fill="#bfd337"/><rect x="129.37" y="118.48" width="9.55" height="5.62" fill="#f8ea1a"/><rect x="129.37" y="124.00" width="9.55" height="5.62" fill="#fef01c"/><rect x="129.37" y="129.52" width="9.55" height="5.62" fill="#ffbc3b"/><rect x="129.37" y="135.03" width="9.55" height="5.62" fill="#bace38"/><rect x="129.37" y="140.55" width="9.55" height="5.62" fill="#f2e429"/><rect x="129.37" y="146.07" width="9.55" height="5.62" fill="#c0d42a"/><rect x="129.37" y="151.58" width="9.55" height="5.62" fill="#f8ea21"/><rect x="129.37" y="157.10" width="9.55" height="5.62" fill="#fbb231"/><rect x="129.37" y="162.62" width="9.55" height="5.62" fill="#fff628"/><rect x="129.37" y="168.13" width="9.55" height="11.62" fill="#fff126"/><rect x="138.83" y="2.15" width="9.55" height="11.62" fill="#bace37"/><rect x="138.83" y="13.67" width="9.55" height="5.62" fill="#feb52b"/><rect x="138.83" y="19.18" width="9.55" height="5.62" fill="#ffbf3e"/><rect x="138.83" y="24.70" width="9.55" height="5.62" fill="#cce02e"/><rect x="138.83" y="30.22" width="9.55" height="5.62" fill="#58d66d"/><rect x="138.83" y="35.73" width="9.55" height="5.62" fill="#f9b034"/><rect x="138.83" y="41.25" width="9.55" height="5.62" fill="#fdb43e"/><rect x="138.83" y="46.77" width="9.55" height="5.62" fill="#feb53d"/><rect x="138.83" y="52.28" width="9.55" height="5.62" fill="#fff41e"/><rect x="138.83" y="57.80" width="9.55" height="5.62" fill="#f5ac39"/><rect x="138.83" y="63.32" width="9.55" height="5.62" fill="#f1e329"/><rect x="138.83" y="68.83" width="9.55" height="5.62" fill="#f8ea1d"/><rect x="138.83" y="74.35" width="9.55" height="5.62" fill="#bed237"/><rect x="138.83" y="79.87" width="9.55" height="5.62" fill="#f9eb2a"/><rect x="138.83" y="85.38" width="9.55" height="5.62" fill="#c1d536"/><rect x="138.83" y="90.90" width="9.55" height="5.62" fill="#c6da36"/><rect x="138.83" y="96.42" width="9.55" height="5.62" fill="#f3e52b"/><rect x="138.83" y="101.93" width="9.55" height="5.62" fill="#fbb233"/><rect x="138.83" y="107.45" width="9.55" height="5.62" fill="#f2e429"/><rect x="138.83" y="112.97" width="9.55" height="5.62" fill="#f0e223"/><rect x="138.83" y="118.48" width="9.55" height="5.62" fill="#c6da2a"/><rect x="138.83" y="124.00" width="9.55" height="5.62" fill="#c8dc36"/><rect x="138.83" y="129.52" width="9.55" height="5.62" fill="#f8ea26"/><rect x="138.83" y="135.03" width="9.55" height="5.62" fill="#f6e820"/><rect x="138.83" y="140.55" width="9.55" height="5.62" fill="#f2e42c"/><rect x="138.83" y="146.07" width="9.55" height="5.62" fill="#2c2cc6"/><rect x="138.83" y="151.58" width="9.55" height="5.62" fill="#fff222"/><rect x="138.83" y="157.10" width="9.55" height="5.62" fill="#ffb72e"/><rect x="138.83" y="162.62" width="9.55" height="5.62" fill="#ffbf3e"/><rect x="138.83" y="168.13" width="9.55" height="11.62" fill="#3ebabc"/><rect x="148.28" y="2.15" width="9.55" height="11.62" fill="#f3e525"/><rect x="148.28" y="13.67" width="9.55" height="5.62" fill="#f7e929"/><rect x="148.28" y="19.18" width="9.55" height="5.62" fill="#65e366"/><rect x="148.28" y="24.70" width="9.55" height="5.62" fill="#f0e21f"/><rect x="148.28" y="30.22" width="9.55" height="5.62" fill="#f0e229"/><rect x="148.28" y="35.73" width="9.55" height="5.62" fill="#ffba36"/><rect x="148.28" y="41.25" width="9.55" height="5.62" fill="#c1d52c"/><rect x="148.28" y="46.77" width="9.55" height="5.62" fill="#ffb935"/><rect x="148.28" y="52.28" width="9.55" height="5.62" fill="#c4d832"/><rect x="148.28" y="57.80" width="9.55" height="5.62" fill="#f8af34"/><rect x="148.28" y="63.32" width="9.55" height="5.62" fill="#3264f0"/><rect x="148.28" y="68.83" width="9.55" height="5.62" fill="#ffb636"/><rect x="148.28" y="74.35" width="9.55" height="5.62" fill="#bbcf2e"/><rect x="148.28" y="79.87" width="9.55" height="5.62" fill="#f5ac33"/><rect x="148.28" y="85.38" width="9.55" height="5.62" fill="#36b2bf"/><rect x="148.28" y="90.90" width="9.55" height="5.62" fill="#30acc0"/><rect x="148.28" y="96.42" width="9.55" height="5.62" fill="#c4d83a"/><rect x="148.28" y="101.93" width="9.55" height="5.62" fill="#bace33"/><rect x="148.28" y="107.45" width="9.55" height="5.62" fill="#3737ca"/><rect x="148.28" y="112.97" width="9.55" height="5.62" fill="#b9cd30"/><rect x="148.28" y="118.48" width="9.55" height="5.62" fill="#f3e51b"/><rect x="148.28" y="124.00" width="9.55" height="5.62" fill="#c1d53c"/><rect x="148.28" y="129.52" width="9.55" height="5.62" fill="#32aebb"/><rect x="148.28" y="135.03" width="9.55" height="5.62" fill="#f8ea27"/><rect x="148.28" y="140.55" width="9.55" height="5.62" fill="#fff224"/><rect x="148.28" y="146.07" width="9.55" height="5.62" fill="#bed233"/><rect x="148.28" y="151.58" width="9.55" height="5.62" fill="#3bb7b4"/><rect x="148.28" y="157.10" width="9.55" height="5.62" fill="#ffc036"/><rect x="148.28" y="162.62" width="9.55" height="5.62" fill="#fff32b"/><rect x="148.28" y="168.13" width="9.55" height="11.62" fill="#bed22a"/><rect x="157.73" y="2.15" width="9.55" height="11.62" fill="#b9cd35"/><rect x="157.73" y="13.67" width="9.55" height="5.62" fill="#3cb8c7"/><rect x="157.73" y="19.18" width="9.55" height="5.62" fill="#bcd03c"/><rect x="157.73" y="24.70" width="9.55" height="5.62" fill="#c1d537"/><rect x="157.73" y="30.22" width="9.55" height="5.62" fill="#57d56b"/><rect x="157.73" y="35.73" width="9.55" height="5.62" fill="#f9b02f"/><rect x="157.73" y="41.25" width="9.55" height="5.62" fill="#3db9c1"/><rect x="157.73" y="46.77" width="9.55" height="5.62" fill="#c2d631"/><rect x="157.73" y="52.28" width="9.55" height="5.62" fill="#feb532"/><rect x="157.73" y="57.80" width="9.55" height="5.62" fill="#ffc032"/><rect x="157.73" y="63.32" width="9.55" height="5.62" fill="#ffb83e"/><rect x="157.73" y="68.83" width="9.55" height="5.62" fill="#fcb333"/><rect x="157.73" y="74.35" width="9.55" height="5.62" fill="#ffbb3b"/><rect x="157.73" y="79.87" width="9.55" height="5.62" fill="#62e05d"/><rect x="157.73" y="85.38" width="9.55" height="5.62" fill="#f5e72e"/><rect x="157.73" y="90.90" width="9.55" height="5.62" fill="#f5e71c"/><rect x="157.73" y="96.42" width="9.55" height="5.62" fill="#f6e82a"/><rect x="157.73" y="101.93" width="9.55" height="5.62" fill="#ffbb3b"/><rect x="157.73" y="107.45" width="9.55" height="5.62" fill="#bfd336"/><rect x="157.73" y="112.97" width="9.55" height="5.62" fill="#c2d636"/><rect x="157.73" y="118.48" width="9.55" height="5.62" fill="#fdef1e"/><rect x="157.73" y="124.00" width="9.55" height="5.62" fill="#fff320"/><rect x="157.73" y="129.52" width="9.55" height="5.62" fill="#fcb32c"/><rect x="157.73" y="135.03" width="9.55" height="5.62" fill="#fab134"/><rect x="157.73" y="140.55" width="9.55" height="5.62" fill="#ffbd2c"/><rect x="157.73" y="146.07" width="9.55" height="5.62" fill="#faec21"/><rect x="157.73" y="151.58" width="9.55" height="5.62" fill="#c3d730"/><rect x="157.73" y="157.10" width="9.55" height="5.62" fill="#fff420"/><rect x="157.73" y="162.62" width="9.55" height="5.62" fill="#b8cc35"/><rect x="157.73" y="168.13" width="9.55" height="11.62" fill="#fcee27"/><rect x="167.18" y="2.15" width="9.55" height="11.62" fill="#fff220"/><rect x="167.18" y="13.67" width="9.55" height="5.62" fill="#ffb832"/><rect x="167.18" y="19.18" width="9.55" height="5.62" fill="#c2d629"/><rect x="167.18" y="24.70" width="9.55" height="5.62" fill="#ffbb32"/><rect x="167.18" y="30.22" width="9.55" height="5.62" fill="#cade33"/><rect x="167.18" y="35.73" width="9.55" height="5.62" fill="#f4e62a"/><rect x="167.18" y="41.25" width="9.55" height="5.62" fill="#fff22e"/><rect x="167.18" y="46.77" width="9.55" height="5.62" fill="#fbb22c"/><rect x="167.18" y="52.28" width="9.55" height="5.62" fill="#c0d42f"/><rect x="167.18" y="57.80" width="9.55" height="5.62" fill="#fcee26"/><rect x="167.18" y="63.32" width="9.55" height="5.62" fill="#6ae868"/><rect x="167.18" y="68.83" width="9.55" height="5.62" fill="#ffb933"/><rect x="167.18" y="74.35" width="9.55" height="5.62" fill="#f0e21e"/><rect x="167.18" y="79.87" width="9.55" height="5.62" fill="#b9cd35"/><rect x="167.18" y="85.38" width="9.55" height="5.62" fill="#ffbb3c"/><rect x="167.18" y="90.90" width="9.55" height="5.62" fill="#c7db28"/><rect x="167.18" y="96.42" width="9.55" height="5.62" fill="#f7ae36"/><rect x="167.18" y="101.93" width="9.55" height="5.62" fill="#fff228"/><rect x="167.18" y="107.45" width="9.55" height="5.62" fill="#fef021"/><rect x="167.18" y="112.97" width="9.55" height="5.62" fill="#59d761"/><rect x="167.18" y="118.48" width="9.55" height="5.62" fill="#f4e61e"/><rect x="167.18" y="124.00" width="9.55" height="5.62" fill="#fff21d"/><rect x="167.18" y="129.52" width="9.55" height="5.62" fill="#ffc038"/><rect x="167.18" y="135.03" width="9.55" height="5.62" fill="#bace39"/><rect x="167.18" y="140.55" width="9.55" height="5.62" fill="#f1e31a"/><rect x="167.18" y="146.07" width="9.55" height="5.62" fill="#f4e621"/><rect x="167.18" y="151.58" width="9.55" height="5.62" fill="#ffbe2b"/><rect x="167.18" y="157.10" width="9.55" height="5.62" fill="#fff623"/><rect x="167.18" y="162.62" width="9.55" height="5.62" fill="#f4e62e"/><rect x="167.18" y="168.13" width="9.55" height="11.62" fill="#fdb43a"/><rect x="176.64" y="2.15" width="9.55" height="11.62" fill="#4678f3"/><rect x="176.64" y="13.67" width="9.55" height="5.62" fill="#31adb7"/><rect x="176.64" y="19.18" width="9.55" height="5.62" fill="#f7ae33"/><rect x="176.64" y="24.70" width="9.55" height="5.62" fill="#c8dc3a"/><rect x="176.64" y="30.22" width="9.55" height="5.62" fill="#34b0c0"/><rect x="176.64" y="35.73" width="9.55" height="5.62" fill="#c0d42f"/><rect x="176.64" y="41.25" width="9.55" height="5.62" fill="#cbdf28"/><rect x="176.64" y="46.77" width="9.55" height="5.62" fill="#3264f7"/><rect x="176.64" y="52.28" width="9.55" height="5.62" fill="#c1d536"/><rect x="176.64" y="57.80" width="9.55" height="5.62" fill="#fdb434"/><rect x="176.64" y="63.32" width="9.55" height="5.62" fill="#ffc031"/><rect x="176.64" y="68.83" width="9.55" height="5.62" fill="#65e36a"/><rect x="176.64" y="74.35" width="9.55" height="5.62" fill="#396bf7"/><rect x="176.64" y="79.87" width="9.55" height="5.62" fill="#bfd328"/><rect x="176.64" y="85.38" width="9.55" height="5.62" fill="#fdef2e"/><rect x="176.64" y="90.90" width="9.55" height="5.62" fill="#f9eb1b"/><rect x="176.64" y="96.42" width="9.55" height="5.62" fill="#b8cc2e"/><rect x="176.64" y="101.93" width="9.55" height="5.62" fill="#3db9c8"/><rect x="176.64" y="107.45" width="9.55" height="5.62" fill="#c5d92a"/><rect x="176.64" y="112.97" width="9.55" height="5.62" fill="#c0d42f"/><rect x="176.64" y="118.48" width="9.55" height="5.62" fill="#3f71f1"/><rect x="176.64" y="124.00" width="9.55" height="5.62" fill="#bfd337"/><rect x="176.64" y="129.52" width="9.55" height="5.62" fill="#b9cd32"/><rect x="176.64" y="135.03" width="9.55" height="5.62" fill="#3bb7bf"/><rect x="176.64" y="140.55" width="9.55" height="5.62" fill="#3e70ec"/><rect x="176.64" y="146.07" width="9.55" height="5.62" fill="#2eaabd"/><rect x="176.64" y="151.58" width="9.55" height="5.62" fill="#ffbc2c"/><rect x="176.64" y="157.10" width="9.55" height="5.62" fill="#fbb239"/><rect x="176.64" y="162.62" width="9.55" height="5.62" fill="#bed231"/><rect x="176.64" y="168.13" width="9.55" height="11.62" fill="#bed22f"/><rect x="186.09" y="2.15" width="9.55" height="11.62" fill="#c6da2f"/><rect x="186.09" y="13.67" width="9.55" height="5.62" fill="#5edc63"/><rect x="186.09" y="19.18" width="9.55" height="5.62" fill="#bbcf3b"/><rect x="186.09" y="24.70" width="9.55" height="5.62" fill="#ffbb3d"/><rect x="186.09" y="30.22" width="9.55" height="5.62" fill="#f5e721"/><rect x="186.09" y="35.73" width="9.55" height="5.62" fill="#65e367"/><rect x="186.09" y="41.25" width="9.55" height="5.62" fill="#f6ad3d"/><rect x="186.09" y="46.77" width="9.55" height="5.62" fill="#f9b036"/><rect x="186.09" y="52.28" width="9.55" height="5.62" fill="#b9cd2e"/><rect x="186.09" y="57.80" width="9.55" height="5.62" fill="#f5ac3d"/><rect x="186.09" y="63.32" width="9.55" height="5.62" fill="#bcd035"/><rect x="186.09" y="68.83" width="9.55" height="5.62" fill="#b9cd29"/><rect x="186.09" y="74.35" width="9.55" height="5.62" fill="#fab136"/><rect x="186.09" y="79.87" width="9.55" height="5.62" fill="#c6da32"/><rect x="186.09" y="85.38" width="9.55" height="5.62" fill="#bbcf2a"/><rect x="186.09" y="90.90" width="9.55" height="5.62" fill="#f5e724"/><rect x="186.09" y="96.42" width="9.55" height="5.62" fill="#f6e81f"/><rect x="186.09" y="101.93" width="9.55" height="5.62" fill="#cce038"/><rect x="186.09" y="107.45" width="9.55" height="5.62" fill="#ffba2b"/><rect x="186.09" y="112.97" width="9.55" height="5.62" fill="#feb536"/><rect x="186.09" y="118.48" width="9.55" height="5.62" fill="#c3d732"/><rect x="186.09" y="124.00" width="9.55" height="5.62" fill="#c6da2d"/><rect x="186.09" y="129.52" width="9.55" height="5.62" fill="#f8af2a"/><rect x="186.09" y="135.03" width="9.55" height="5.62" fill="#f2e422"/><rect x="186.09" y="140.55" width="9.55" height="5.62" fill="#f2e425"/><rect x="186.09" y="146.07" width="9.55" height="5.62" fill="#c5d92b"/><rect x="186.09" y="151.58" width="9.55" height="5.62" fill="#fff320"/><rect x="186.09" y="157.10" width="9.55" height="5.62" fill="#fcee25"/><rect x="186.09" y="162.62" width="9.55" height="5.62" fill="#f9eb27"/><rect x="186.09" y="168.13" width="9.55" height="11.62" fill="#f2e41b"/><rect x="195.54" y="2.15" width="9.55" height="11.62" fill="#3939c8"/><rect x="195.54" y="13.67" width="9.55" height="5.62" fill="#c3d739"/><rect x="195.54" y="19.18" width="9.55" height="5.62" fill="#ffba30"/><rect x="195.54" y="24.70" width="9.55" height="5.62" fill="#faec25"/><rect x="195.54" y="30.22" width="9.55" height="5.62" fill="#c7db28"/><rect x="195.54" y="35.73" width="9.55" height="5.62" fill="#4678f3"/><rect x="195.54" y="41.25" width="9.55" height="5.62" fill="#fcb33e"/><rect x="195.54" y="46.77" width="9.55" height="5.62" fill="#ffb82b"/><rect x="195.54" y="52.28" width="9.55" height="5.62" fill="#c4d829"/><rect x="195.54" y="57.80" width="9.55" height="5.62" fill="#ffba2c"/><rect x="195.54" y="63.32" width="9.55" height="5.62" fill="#b9cd30"/><rect x="195.54" y="68.83" width="9.55" height="5.62" fill="#bed22a"/><rect x="195.54" y="74.35" width="9.55" height="5.62" fill="#69e764"/><rect x="195.54" y="79.87" width="9.55" height="5.62" fill="#c3d730"/><rect x="195.54" y="85.38" width="9.55" height="5.62" fill="#faec2d"/><rect x="195.54" y="90.90" width="9.55" height="5.62" fill="#f6ad32"/><rect x="195.54" y="96.42" width="9.55" height="5.62" fill="#c2d630"/><rect x="195.54" y="101.93" width="9.55" height="5.62" fill="#37b3b4"/><rect x="195.54" y="107.45" width="9.55" height="5.62" fill="#fff52e"/><rect x="195.54" y="112.97" width="9.55" height="5.62" fill="#f2e41a"/><rect x="195.54" y="118.48" width="9.55" height="5.62" fill="#f7e91d"/><rect x="195.54" y="124.00" width="9.55" height="5.62" fill="#ffbb38"/><rect x="195.54" y="129.52" width="9.55" height="5.62" fill="#ffb832"/><rect x="195.54" y="135.03" width="9.55" height="5.62" fill="#c5d937"/><rect x="195.54" y="140.55" width="9.55" height="5.62" fill="#32aec3"/><rect x="195.54" y="146.07" width="9.55" height="5.62" fill="#f5e71a"/><rect x="195.54" y="151.58" width="9.55" height="5.62" fill="#f9eb1e"/><rect x="195.54" y="157.10" width="9.55" height="5.62" fill="#fff521"/><rect x="195.54" y="162.62" width="9.55" height="5.62" fill="#3c6ef0"/><rect x="195.54" y="168.13" width="9.55" height="11.62" fill="#fef025"/><rect x="204.99" y="2.15" width="9.55" height="11.62" fill="#fff51c"/><rect x="204.99" y="13.67" width="9.55" height="5.62" fill="#c8dc2e"/><rect x="204.99" y="19.18" width="9.55" height="5.62" fill="#3ab6b9"/><rect x="204.99" y="24.70" width="9.55" height="5.62" fill="#f7e927"/><rect x="204.99" y="30.22" width="9.55" height="5.62" fill="#bace3c"/><rect x="204.99" y="35.73" width="9.55" height="5.62" fill="#b9cd37"/><rect x="204.99" y="41.25" width="9.55" height="5.62" fill="#4375f7"/><rect x="204.99" y="46.77" width="9.55" height="5.62" fill="#c2d62d"/><rect x="204.99" y="52.28" width="9.55" height="5.62" fill="#fdef1d"/><rect x="204.99" y="57.80" width="9.55" height="5.62" fill="#f7ae32"/><rect x="204.99" y="63.32" width="9.55" height="5.62" fill="#fff51c"/><rect x="204.99" y="68.83" width="9.55" height="5.62" fill="#fbb22d"/><rect x="204.99" y="74.35" width="9.55" height="5.62" fill="#3bb7c3"/><rect x="204.99" y="79.87" width="9.55" height="5.62" fill="#c6da2d"/><rect x="204.99" y="85.38" width="9.55" height="5.62" fill="#f7e91e"/><rect x="204.99" y="90.90" width="9.55" height="5.62" fill="#fdef28"/><rect x="204.99" y="96.42" width="9.55" height="5.62" fill="#4577ed"/><rect x="204.99" y="101.93" width="9.55" height="5.62" fill="#c9dd2b"/><rect x="204.99" y="107.45" width="9.55" height="5.62" fill="#f9eb23"/><rect x="204.99" y="112.97" width="9.55" height="5.62" fill="#f8ea2c"/><rect x="204.99" y="118.48" width="9.55" height="5.62" fill="#c0d433"/><rect x="204.99" y="124.00" width="9.55" height="5.62" fill="#36b2bc"/><rect x="204.99" y="129.52" width="9.55" height="5.62" fill="#5cda68"/><rect x="204.99" y="135.03" width="9.55" height="5.62" fill="#f7e91f"/><rect x="204.99" y="140.55" width="9.55" height="5.62" fill="#f7e921"/><rect x="204.99" y="146.07" width="9.55" height="5.62" fill="#f4e623"/><rect x="204.99" y="151.58" width="9.55" height="5.62" fill="#40bcba"/><rect x="204.99" y="157.10" width="9.55" height="5.62" fill="#c2d62a"/><rect x="204.99" y="162.62" width="9.55" height="5.62" fill="#fcee22"/><rect x="204.99" y="168.13" width="9.55" height="11.62" fill="#f7e92a"/><rect x="214.45" y="2.15" width="9.55" height="11.62" fill="#3ebabb"/><rect x="214.45" y="13.67" width="9.55" height="5.62" fill="#ffc02d"/><rect x="214.45" y="19.18" width="9.55" height="5.62" fill="#ffc038"/><rect x="214.45" y="24.70" width="9.55" height="5.62" fill="#b9cd2b"/><rect x="214.45" y="30.22" width="9.55" height="5.62" fill="#56d469"/><rect x="214.45" y="35.73" width="9.55" height="5.62" fill="#396bf4"/><rect x="214.45" y="41.25" width="9.55" height="5.62" fill="#39b5b5"/><rect x="214.45" y="46.77" width="9.55" height="5.62" fill="#c1d52f"/><rect x="214.45" y="52.28" width="9.55" height="5.62" fill="#f3e51b"/><rect x="214.45" y="57.80" width="9.55" height="5.62" fill="#fbb23d"/><rect x="214.45" y="63.32" width="9.55" height="5.62" fill="#4476ec"/><rect x="214.45" y="68.83" width="9.55" height="5.62" fill="#f2e425"/><rect x="214.45" y="74.35" width="9.55" height="5.62" fill="#fff21f"/><rect x="214.45" y="79.87" width="9.55" height="5.62" fill="#c6da3b"/><rect x="214.45" y="85.38" width="9.55" height="5.62" fill="#36b2b4"/><rect x="214.45" y="90.90" width="9.55" height="5.62" fill="#59d76e"/><rect x="214.45" y="96.42" width="9.55" height="5.62" fill="#cbdf3b"/><rect x="214.45" y="101.93" width="9.55" height="5.62" fill="#c3d72e"/><rect x="214.45" y="107.45" width="9.55" height="5.62" fill="#b9cd33"/><rect x="214.45" y="112.97" width="9.55" height="5.62" fill="#faec1e"/><rect x="214.45" y="118.48" width="9.55" height="5.62" fill="#f1e320"/><rect x="214.45" y="124.00" width="9.55" height="5.62" fill="#3a6ce7"/><rect x="214.45" y="129.52" width="9.55" height="5.62" fill="#fff52e"/><rect x="214.45" y="135.03" width="9.55" height="5.62" fill="#f6e81a"/><rect x="214.45" y="140.55" width="9.55" height="5.62" fill="#faec27"/><rect x="214.45" y="146.07" width="9.55" height="5.62" fill="#3d6feb"/><rect x="214.45" y="151.58" width="9.55" height="5.62" fill="#ffbf33"/><rect x="214.45" y="157.10" width="9.55" height="5.62" fill="#f7ae30"/><rect x="214.45" y="162.62" width="9.55" height="5.62" fill="#2fabc3"/><rect x="214.45" y="168.13" width="9.55" height="11.62" fill="#fff329"/><rect x="223.90" y="2.15" width="9.55" height="11.62" fill="#f2e427"/><rect x="223.90" y="13.67" width="9.55" height="5.62" fill="#f3e526"/><rect x="223.90" y="19.18" width="9.55" height="5.62" fill="#fff31e"/><rect x="223.90" y="24.70" width="9.55" height="5.62" fill="#cce039"/><rect x="223.90" y="30.22" width="9.55" height="5.62" fill="#f2e42e"/><rect x="223.90" y="35.73" width="9.55" height="5.62" fill="#f5e726"/><rect x="223.90" y="41.25" width="9.55" height="5.62" fill="#f8ea27"/><rect x="223.90" y="46.77" width="9.55" height="5.62" fill="#f9eb23"/><rect x="223.90" y="52.28" width="9.55" height="5.62" fill="#fdef1b"/><rect x="223.90" y="57.80" width="9.55" height="5.62" fill="#c1d53a"/><rect x="223.90" y="63.32" width="9.55" height="5.62" fill="#fbed27"/><rect x="223.90" y="68.83" width="9.55" height="5.62" fill="#fdef1a"/><rect x="223.90" y="74.35" width="9.55" height="5.62" fill="#c3d73c"/><rect x="223.90" y="79.87" width="9.55" height="5.62" fill="#bed234"/><rect x="223.90" y="85.38" width="9.55" height="5.62" fill="#fcee20"/><rect x="223.90" y="90.90" width="9.55" height="5.62" fill="#f0e227"/><rect x="223.90" y="96.42" width="9.55" height="5.62" fill="#bdd135"/><rect x="223.90" y="101.93" width="9.55" height="5.62" fill="#f3e51c"/><rect x="223.90" y="107.45" width="9.55" height="5.62" fill="#fcee2c"/><rect x="223.90" y="112.97" width="9.55" height="5.62" fill="#c3d736"/><rect x="223.90" y="118.48" width="9.55" height="5.62" fill="#f5e71e"/><rect x="223.90" y="124.00" width="9.55" height="5.62" fill="#f0e21b"/><rect x="223.90" y="129.52" width="9.55" height="5.62" fill="#fff31e"/><rect x="223.90" y="135.03" width="9.55" height="5.62" fill="#42bec0"/><rect x="223.90" y="140.55" width="9.55" height="5.62" fill="#bace3a"/><rect x="223.90" y="146.07" width="9.55" height="5.62" fill="#fff525"/><rect x="223.90" y="151.58" width="9.55" height="5.62" fill="#fff21f"/><rect x="223.90" y="157.10" width="9.55" height="5.62" fill="#f4e625"/><rect x="223.90" y="162.62" width="9.55" height="5.62" fill="#f9eb1f"/><rect x="223.90" y="168.13" width="9.55" height="11.62" fill="#ffbc2f"/></g></g>
<rect x="238.80" y="8.20" width="9.80" height="165.50" fill="url(#pg)"/>
<text transform="translate(251.40 12.57) scale(0.930 1)" font-family="Liberation Sans, sans-serif" font-size="8.8" font-weight="bold" text-anchor="start" fill="#222">-55</text>
<text transform="translate(251.40 67.37) scale(0.930 1)" font-family="Liberation Sans, sans-serif" font-size="8.8" font-weight="bold" text-anchor="start" fill="#222">-65</text>
<text transform="translate(251.40 122.07) scale(0.930 1)" font-family="Liberation Sans, sans-serif" font-size="8.8" font-weight="bold" text-anchor="start" fill="#222">-75</text>
<text transform="translate(251.40 177.17) scale(0.930 1)" font-family="Liberation Sans, sans-serif" font-size="8.8" font-weight="bold" text-anchor="start" fill="#222">-85</text>
<text transform="translate(31.80 12.27) scale(0.930 1)" font-family="Liberation Sans, sans-serif" font-size="8.8" font-weight="bold" text-anchor="end" fill="#222">750</text>
<text transform="translate(31.80 67.57) scale(0.930 1)" font-family="Liberation Sans, sans-serif" font-size="8.8" font-weight="bold" text-anchor="end" fill="#222">700</text>
<text transform="translate(31.80 122.37) scale(0.930 1)" font-family="Liberation Sans, sans-serif" font-size="8.8" font-weight="bold" text-anchor="end" fill="#222">650</text>
<text transform="translate(31.80 177.07) scale(0.930 1)" font-family="Liberation Sans, sans-serif" font-size="8.8" font-weight="bold" text-anchor="end" fill="#222">600</text>
<text transform="translate(61.60 186.07) scale(0.930 1)" font-family="Liberation Sans, sans-serif" font-size="8.8" font-weight="bold" text-anchor="middle" fill="#222">110</text>
<text transform="translate(93.20 186.07) scale(0.930 1)" font-family="Liberation Sans, sans-serif" font-size="8.8" font-weight="bold" text-anchor="middle" fill="#222">130</text>
<text transform="translate(124.90 186.07) scale(0.930 1)" font-family="Liberation Sans, sans-serif" font-size="8.8" font-weight="bold" text-anchor="middle" fill="#222">150</text>
<text transform="translate(156.60 186.07) scale(0.930 1)" font-family="Liberation Sans, sans-serif" font-size="8.8" font-weight="bold" text-anchor="middle" fill="#222">170</text>
<text transform="translate(188.30 186.07) scale(0.930 1)" font-family="Liberation Sans, sans-serif" font-size="8.8" font-weight="bold" text-anchor="middle" fill="#222">190</text>
<text transform="translate(219.80 186.07) scale(0.930 1)" font-family="Liberation Sans, sans-serif" font-size="8.8" font-weight="bold" text-anchor="middle" fill="#222">210</text>
<text x="134.20" y="198.42" font-family="Liberation Sans, sans-serif" font-size="9.5" font-weight="bold" text-anchor="middle" fill="#222">Depth(m)</text>
<text transform="translate(12.60 89.50) rotate(-90)" font-family="Liberation Sans, sans-serif" font-size="9.8" font-weight="bold" text-anchor="middle" fill="#222">Frequency(Hz)</text>
<text x="130.60" y="222.30" font-family="Liberation Serif, serif" font-size="14.3" letter-spacing="0.25" text-anchor="middle" fill="#111">(<tspan font-weight="bold" font-size="16">a</tspan>)</text>
<rect x="312.30" y="8.20" width="2.50" height="164.70" fill="#9cf2fa"/>
<rect x="515.50" y="8.20" width="4.40" height="164.70" fill="#c6f8fa"/>
<rect x="312.30" y="169.20" width="207.60" height="3.70" fill="#d0fafa"/>
<g shape-rendering="crispEdges"><rect x="314.40" y="8.20" width="9.65" height="2.07" fill="#327dec"/><rect x="324.00" y="8.20" width="9.65" height="2.07" fill="#3b68f0"/><rect x="333.60" y="8.20" width="9.65" height="2.07" fill="#327bec"/><rect x="343.20" y="8.20" width="9.65" height="2.07" fill="#3c65f0"/><rect x="352.80" y="8.20" width="9.65" height="2.07" fill="#3576ed"/><rect x="362.40" y="8.20" width="9.65" height="2.07" fill="#3576ed"/><rect x="372.00" y="8.20" width="9.65" height="2.07" fill="#327dec"/><rect x="381.60" y="8.20" width="9.65" height="2.07" fill="#2a97dc"/><rect x="391.20" y="8.20" width="9.65" height="2.07" fill="#3180ea"/><rect x="400.80" y="8.20" width="9.65" height="2.07" fill="#4259ed"/><rect x="410.40" y="8.20" width="9.65" height="2.07" fill="#3673ee"/><rect x="420.00" y="8.20" width="9.65" height="2.07" fill="#317fea"/><rect x="429.60" y="8.20" width="9.65" height="2.07" fill="#3e62ef"/><rect x="439.20" y="8.20" width="9.65" height="2.07" fill="#3a6aef"/><rect x="448.80" y="8.20" width="9.65" height="2.07" fill="#337bec"/><rect x="458.40" y="8.20" width="9.65" height="2.07" fill="#386eef"/><rect x="468.00" y="8.20" width="9.65" height="2.07" fill="#396cef"/><rect x="477.60" y="8.20" width="9.65" height="2.07" fill="#3870ee"/><rect x="487.20" y="8.20" width="9.65" height="2.07" fill="#279fd5"/><rect x="496.80" y="8.20" width="9.65" height="2.07" fill="#3575ed"/><rect x="506.40" y="8.20" width="9.65" height="2.07" fill="#396def"/><rect x="314.40" y="10.22" width="9.65" height="2.07" fill="#2a93de"/><rect x="324.00" y="10.22" width="9.65" height="2.07" fill="#2b91e0"/><rect x="333.60" y="10.22" width="9.65" height="2.07" fill="#3082e9"/><rect x="343.20" y="10.22" width="9.65" height="2.07" fill="#2b93df"/><rect x="352.80" y="10.22" width="9.65" height="2.07" fill="#2d8be4"/><rect x="362.40" y="10.22" width="9.65" height="2.07" fill="#2a97dc"/><rect x="372.00" y="10.22" width="9.65" height="2.07" fill="#2d8ae4"/><rect x="381.60" y="10.22" width="9.65" height="2.07" fill="#2c8de3"/><rect x="391.20" y="10.22" width="9.65" height="2.07" fill="#3083e8"/><rect x="400.80" y="10.22" width="9.65" height="2.07" fill="#279ed6"/><rect x="410.40" y="10.22" width="9.65" height="2.07" fill="#2e87e6"/><rect x="420.00" y="10.22" width="9.65" height="2.07" fill="#2c8ee2"/><rect x="429.60" y="10.22" width="9.65" height="2.07" fill="#2c8de2"/><rect x="439.20" y="10.22" width="9.65" height="2.07" fill="#3180ea"/><rect x="448.80" y="10.22" width="9.65" height="2.07" fill="#2e87e6"/><rect x="458.40" y="10.22" width="9.65" height="2.07" fill="#2a96dc"/><rect x="468.00" y="10.22" width="9.65" height="2.07" fill="#2997db"/><rect x="477.60" y="10.22" width="9.65" height="2.07" fill="#2c8de3"/><rect x="487.20" y="10.22" width="9.65" height="2.07" fill="#2a94de"/><rect x="496.80" y="10.22" width="9.65" height="2.07" fill="#2f84e8"/><rect x="506.40" y="10.22" width="9.65" height="2.07" fill="#25a2d1"/><rect x="314.40" y="12.24" width="9.65" height="2.07" fill="#327bec"/><rect x="324.00" y="12.24" width="9.65" height="2.07" fill="#2c8fe1"/><rect x="333.60" y="12.24" width="9.65" height="2.07" fill="#2e87e6"/><rect x="343.20" y="12.24" width="9.65" height="2.07" fill="#3083e8"/><rect x="352.80" y="12.24" width="9.65" height="2.07" fill="#2c90e1"/><rect x="362.40" y="12.24" width="9.65" height="2.07" fill="#3081e9"/><rect x="372.00" y="12.24" width="9.65" height="2.07" fill="#2f84e8"/><rect x="381.60" y="12.24" width="9.65" height="2.07" fill="#3a6aef"/><rect x="391.20" y="12.24" width="9.65" height="2.07" fill="#2c90e1"/><rect x="400.80" y="12.24" width="9.65" height="2.07" fill="#2d8ce3"/><rect x="410.40" y="12.24" width="9.65" height="2.07" fill="#3082e8"/><rect x="420.00" y="12.24" width="9.65" height="2.07" fill="#2d8be4"/><rect x="429.60" y="12.24" width="9.65" height="2.07" fill="#3180ea"/><rect x="439.20" y="12.24" width="9.65" height="2.07" fill="#2c8ee2"/><rect x="448.80" y="12.24" width="9.65" height="2.07" fill="#2f85e7"/><rect x="458.40" y="12.24" width="9.65" height="2.07" fill="#317feb"/><rect x="468.00" y="12.24" width="9.65" height="2.07" fill="#3b69f0"/><rect x="477.60" y="12.24" width="9.65" height="2.07" fill="#2c8fe1"/><rect x="487.20" y="12.24" width="9.65" height="2.07" fill="#2f86e7"/><rect x="496.80" y="12.24" width="9.65" height="2.07" fill="#2c8ee2"/><rect x="506.40" y="12.24" width="9.65" height="2.07" fill="#337aec"/><rect x="314.40" y="14.26" width="9.65" height="2.07" fill="#317eeb"/><rect x="324.00" y="14.26" width="9.65" height="2.07" fill="#396cef"/><rect x="333.60" y="14.26" width="9.65" height="2.07" fill="#337aec"/><rect x="343.20" y="14.26" width="9.65" height="2.07" fill="#3672ee"/><rect x="352.80" y="14.26" width="9.65" height="2.07" fill="#317fea"/><rect x="362.40" y="14.26" width="9.65" height="2.07" fill="#317fea"/><rect x="372.00" y="14.26" width="9.65" height="2.07" fill="#2f84e8"/><rect x="381.60" y="14.26" width="9.65" height="2.07" fill="#327deb"/><rect x="391.20" y="14.26" width="9.65" height="2.07" fill="#3180ea"/><rect x="400.80" y="14.26" width="9.65" height="2.07" fill="#2b92df"/><rect x="410.40" y="14.26" width="9.65" height="2.07" fill="#3180ea"/><rect x="420.00" y="14.26" width="9.65" height="2.07" fill="#396def"/><rect x="429.60" y="14.26" width="9.65" height="2.07" fill="#2f85e7"/><rect x="439.20" y="14.26" width="9.65" height="2.07" fill="#3e61ef"/><rect x="448.80" y="14.26" width="9.65" height="2.07" fill="#3d64ef"/><rect x="458.40" y="14.26" width="9.65" height="2.07" fill="#386fee"/><rect x="468.00" y="14.26" width="9.65" height="2.07" fill="#2f84e7"/><rect x="477.60" y="14.26" width="9.65" height="2.07" fill="#2c8ee2"/><rect x="487.20" y="14.26" width="9.65" height="2.07" fill="#2e89e5"/><rect x="496.80" y="14.26" width="9.65" height="2.07" fill="#3081e9"/><rect x="506.40" y="14.26" width="9.65" height="2.07" fill="#386fee"/><rect x="314.40" y="16.27" width="9.65" height="2.07" fill="#2d8be4"/><rect x="324.00" y="16.27" width="9.65" height="2.07" fill="#2f86e7"/><rect x="333.60" y="16.27" width="9.65" height="2.07" fill="#3674ed"/><rect x="343.20" y="16.27" width="9.65" height="2.07" fill="#396eef"/><rect x="352.80" y="16.27" width="9.65" height="2.07" fill="#3576ed"/><rect x="362.40" y="16.27" width="9.65" height="2.07" fill="#337aec"/><rect x="372.00" y="16.27" width="9.65" height="2.07" fill="#337bec"/><rect x="381.60" y="16.27" width="9.65" height="2.07" fill="#2d8ae4"/><rect x="391.20" y="16.27" width="9.65" height="2.07" fill="#3870ee"/><rect x="400.80" y="16.27" width="9.65" height="2.07" fill="#3772ee"/><rect x="410.40" y="16.27" width="9.65" height="2.07" fill="#3477ed"/><rect x="420.00" y="16.27" width="9.65" height="2.07" fill="#317eeb"/><rect x="429.60" y="16.27" width="9.65" height="2.07" fill="#327bec"/><rect x="439.20" y="16.27" width="9.65" height="2.07" fill="#3180ea"/><rect x="448.80" y="16.27" width="9.65" height="2.07" fill="#2c8ee2"/><rect x="458.40" y="16.27" width="9.65" height="2.07" fill="#4453eb"/><rect x="468.00" y="16.27" width="9.65" height="2.07" fill="#3379ec"/><rect x="477.60" y="16.27" width="9.65" height="2.07" fill="#337aec"/><rect x="487.20" y="16.27" width="9.65" height="2.07" fill="#3576ed"/><rect x="496.80" y="16.27" width="9.65" height="2.07" fill="#3477ed"/><rect x="506.40" y="16.27" width="9.65" height="2.07" fill="#3672ee"/><rect x="314.40" y="18.29" width="9.65" height="2.07" fill="#327cec"/><rect x="324.00" y="18.29" width="9.65" height="2.07" fill="#2d8be4"/><rect x="333.60" y="18.29" width="9.65" height="2.07" fill="#3b68f0"/><rect x="343.20" y="18.29" width="9.65" height="2.07" fill="#337aec"/><rect x="352.80" y="18.29" width="9.65" height="2.07" fill="#317eeb"/><rect x="362.40" y="18.29" width="9.65" height="2.07" fill="#2c8de2"/><rect x="372.00" y="18.29" width="9.65" height="2.07" fill="#386eef"/><rect x="381.60" y="18.29" width="9.65" height="2.07" fill="#3081e9"/><rect x="391.20" y="18.29" width="9.65" height="2.07" fill="#2e89e5"/><rect x="400.80" y="18.29" width="9.65" height="2.07" fill="#2f85e7"/><rect x="410.40" y="18.29" width="9.65" height="2.07" fill="#2c8de2"/><rect x="420.00" y="18.29" width="9.65" height="2.07" fill="#337aec"/><rect x="429.60" y="18.29" width="9.65" height="2.07" fill="#2a96dc"/><rect x="439.20" y="18.29" width="9.65" height="2.07" fill="#2f85e7"/><rect x="448.80" y="18.29" width="9.65" height="2.07" fill="#396cef"/><rect x="458.40" y="18.29" width="9.65" height="2.07" fill="#317feb"/><rect x="468.00" y="18.29" width="9.65" height="2.07" fill="#3673ee"/><rect x="477.60" y="18.29" width="9.65" height="2.07" fill="#2e88e5"/><rect x="487.20" y="18.29" width="9.65" height="2.07" fill="#3a6bef"/><rect x="496.80" y="18.29" width="9.65" height="2.07" fill="#2f86e6"/><rect x="506.40" y="18.29" width="9.65" height="2.07" fill="#3e62ef"/><rect x="314.40" y="20.31" width="9.65" height="2.07" fill="#3477ed"/><rect x="324.00" y="20.31" width="9.65" height="2.07" fill="#3674ed"/><rect x="333.60" y="20.31" width="9.65" height="2.07" fill="#396eef"/><rect x="343.20" y="20.31" width="9.65" height="2.07" fill="#2f84e7"/><rect x="352.80" y="20.31" width="9.65" height="2.07" fill="#415bee"/><rect x="362.40" y="20.31" width="9.65" height="2.07" fill="#396def"/><rect x="372.00" y="20.31" width="9.65" height="2.07" fill="#3083e8"/><rect x="381.60" y="20.31" width="9.65" height="2.07" fill="#3576ed"/><rect x="391.20" y="20.31" width="9.65" height="2.07" fill="#2c8ee2"/><rect x="400.80" y="20.31" width="9.65" height="2.07" fill="#3081e9"/><rect x="410.40" y="20.31" width="9.65" height="2.07" fill="#3674ed"/><rect x="420.00" y="20.31" width="9.65" height="2.07" fill="#2a97dc"/><rect x="429.60" y="20.31" width="9.65" height="2.07" fill="#2c8ee2"/><rect x="439.20" y="20.31" width="9.65" height="2.07" fill="#3870ee"/><rect x="448.80" y="20.31" width="9.65" height="2.07" fill="#2f85e7"/><rect x="458.40" y="20.31" width="9.65" height="2.07" fill="#3b69ef"/><rect x="468.00" y="20.31" width="9.65" height="2.07" fill="#3576ed"/><rect x="477.60" y="20.31" width="9.65" height="2.07" fill="#386fee"/><rect x="487.20" y="20.31" width="9.65" height="2.07" fill="#2f84e8"/><rect x="496.80" y="20.31" width="9.65" height="2.07" fill="#2e87e6"/><rect x="506.40" y="20.31" width="9.65" height="2.07" fill="#3770ee"/><rect x="314.40" y="22.33" width="9.65" height="2.07" fill="#3083e8"/><rect x="324.00" y="22.33" width="9.65" height="2.07" fill="#3082e9"/><rect x="333.60" y="22.33" width="9.65" height="2.07" fill="#2b91e0"/><rect x="343.20" y="22.33" width="9.65" height="2.07" fill="#289cd8"/><rect x="352.80" y="22.33" width="9.65" height="2.07" fill="#2c8de3"/><rect x="362.40" y="22.33" width="9.65" height="2.07" fill="#3083e8"/><rect x="372.00" y="22.33" width="9.65" height="2.07" fill="#337aec"/><rect x="381.60" y="22.33" width="9.65" height="2.07" fill="#2997dc"/><rect x="391.20" y="22.33" width="9.65" height="2.07" fill="#2b91e0"/><rect x="400.80" y="22.33" width="9.65" height="2.07" fill="#2d8be4"/><rect x="410.40" y="22.33" width="9.65" height="2.07" fill="#23a7cb"/><rect x="420.00" y="22.33" width="9.65" height="2.07" fill="#3083e8"/><rect x="429.60" y="22.33" width="9.65" height="2.07" fill="#2a93de"/><rect x="439.20" y="22.33" width="9.65" height="2.07" fill="#25a2d1"/><rect x="448.80" y="22.33" width="9.65" height="2.07" fill="#2b91e0"/><rect x="458.40" y="22.33" width="9.65" height="2.07" fill="#2998db"/><rect x="468.00" y="22.33" width="9.65" height="2.07" fill="#25a3cf"/><rect x="477.60" y="22.33" width="9.65" height="2.07" fill="#2d8ce3"/><rect x="487.20" y="22.33" width="9.65" height="2.07" fill="#2d8be4"/><rect x="496.80" y="22.33" width="9.65" height="2.07" fill="#2b91e0"/><rect x="506.40" y="22.33" width="9.65" height="2.07" fill="#26a0d3"/><rect x="314.40" y="24.35" width="9.65" height="2.07" fill="#26a0d3"/><rect x="324.00" y="24.35" width="9.65" height="2.07" fill="#327cec"/><rect x="333.60" y="24.35" width="9.65" height="2.07" fill="#2e88e5"/><rect x="343.20" y="24.35" width="9.65" height="2.07" fill="#3e62ef"/><rect x="352.80" y="24.35" width="9.65" height="2.07" fill="#2d8ae4"/><rect x="362.40" y="24.35" width="9.65" height="2.07" fill="#317fea"/><rect x="372.00" y="24.35" width="9.65" height="2.07" fill="#2e89e5"/><rect x="381.60" y="24.35" width="9.65" height="2.07" fill="#3379ed"/><rect x="391.20" y="24.35" width="9.65" height="2.07" fill="#2d8be4"/><rect x="400.80" y="24.35" width="9.65" height="2.07" fill="#3771ee"/><rect x="410.40" y="24.35" width="9.65" height="2.07" fill="#2999da"/><rect x="420.00" y="24.35" width="9.65" height="2.07" fill="#2f85e7"/><rect x="429.60" y="24.35" width="9.65" height="2.07" fill="#2d8be4"/><rect x="439.20" y="24.35" width="9.65" height="2.07" fill="#2a95dd"/><rect x="448.80" y="24.35" width="9.65" height="2.07" fill="#3083e8"/><rect x="458.40" y="24.35" width="9.65" height="2.07" fill="#3477ed"/><rect x="468.00" y="24.35" width="9.65" height="2.07" fill="#3379ed"/><rect x="477.60" y="24.35" width="9.65" height="2.07" fill="#2b92df"/><rect x="487.20" y="24.35" width="9.65" height="2.07" fill="#2d8be4"/><rect x="496.80" y="24.35" width="9.65" height="2.07" fill="#2f86e7"/><rect x="506.40" y="24.35" width="9.65" height="2.07" fill="#2a94de"/><rect x="314.40" y="26.37" width="9.65" height="2.07" fill="#3082e9"/><rect x="324.00" y="26.37" width="9.65" height="2.07" fill="#2e87e6"/><rect x="333.60" y="26.37" width="9.65" height="2.07" fill="#2c8fe2"/><rect x="343.20" y="26.37" width="9.65" height="2.07" fill="#317fea"/><rect x="352.80" y="26.37" width="9.65" height="2.07" fill="#2c8fe1"/><rect x="362.40" y="26.37" width="9.65" height="2.07" fill="#2d8ce3"/><rect x="372.00" y="26.37" width="9.65" height="2.07" fill="#2a97dc"/><rect x="381.60" y="26.37" width="9.65" height="2.07" fill="#2b90e0"/><rect x="391.20" y="26.37" width="9.65" height="2.07" fill="#327bec"/><rect x="400.80" y="26.37" width="9.65" height="2.07" fill="#2f86e6"/><rect x="410.40" y="26.37" width="9.65" height="2.07" fill="#3772ee"/><rect x="420.00" y="26.37" width="9.65" height="2.07" fill="#317eeb"/><rect x="429.60" y="26.37" width="9.65" height="2.07" fill="#279fd4"/><rect x="439.20" y="26.37" width="9.65" height="2.07" fill="#2d8ce3"/><rect x="448.80" y="26.37" width="9.65" height="2.07" fill="#2f84e8"/><rect x="458.40" y="26.37" width="9.65" height="2.07" fill="#2e87e6"/><rect x="468.00" y="26.37" width="9.65" height="2.07" fill="#2d8ce3"/><rect x="477.60" y="26.37" width="9.65" height="2.07" fill="#2e89e5"/><rect x="487.20" y="26.37" width="9.65" height="2.07" fill="#3082e9"/><rect x="496.80" y="26.37" width="9.65" height="2.07" fill="#2c8fe2"/><rect x="506.40" y="26.37" width="9.65" height="2.07" fill="#2e88e5"/><rect x="314.40" y="28.39" width="9.65" height="2.07" fill="#2d8be4"/><rect x="324.00" y="28.39" width="9.65" height="2.07" fill="#2d8ce3"/><rect x="333.60" y="28.39" width="9.65" height="2.07" fill="#317fea"/><rect x="343.20" y="28.39" width="9.65" height="2.07" fill="#327cec"/><rect x="352.80" y="28.39" width="9.65" height="2.07" fill="#2c8ee2"/><rect x="362.40" y="28.39" width="9.65" height="2.07" fill="#317eeb"/><rect x="372.00" y="28.39" width="9.65" height="2.07" fill="#2d8ae4"/><rect x="381.60" y="28.39" width="9.65" height="2.07" fill="#2b92df"/><rect x="391.20" y="28.39" width="9.65" height="2.07" fill="#26a1d2"/><rect x="400.80" y="28.39" width="9.65" height="2.07" fill="#2c8fe1"/><rect x="410.40" y="28.39" width="9.65" height="2.07" fill="#2c8ee2"/><rect x="420.00" y="28.39" width="9.65" height="2.07" fill="#2c8de3"/><rect x="429.60" y="28.39" width="9.65" height="2.07" fill="#3082e9"/><rect x="439.20" y="28.39" width="9.65" height="2.07" fill="#3c66f0"/><rect x="448.80" y="28.39" width="9.65" height="2.07" fill="#2b92df"/><rect x="458.40" y="28.39" width="9.65" height="2.07" fill="#2c90e1"/><rect x="468.00" y="28.39" width="9.65" height="2.07" fill="#2f86e6"/><rect x="477.60" y="28.39" width="9.65" height="2.07" fill="#2f86e7"/><rect x="487.20" y="28.39" width="9.65" height="2.07" fill="#2b90e1"/><rect x="496.80" y="28.39" width="9.65" height="2.07" fill="#24a4cf"/><rect x="506.40" y="28.39" width="9.65" height="2.07" fill="#2c8ee2"/><rect x="314.40" y="30.41" width="9.65" height="2.07" fill="#2f84e7"/><rect x="324.00" y="30.41" width="9.65" height="2.07" fill="#2f86e7"/><rect x="333.60" y="30.41" width="9.65" height="2.07" fill="#2e89e5"/><rect x="343.20" y="30.41" width="9.65" height="2.07" fill="#2c8fe1"/><rect x="352.80" y="30.41" width="9.65" height="2.07" fill="#22aac8"/><rect x="362.40" y="30.41" width="9.65" height="2.07" fill="#2a95dd"/><rect x="372.00" y="30.41" width="9.65" height="2.07" fill="#2f86e6"/><rect x="381.60" y="30.41" width="9.65" height="2.07" fill="#2d8ae4"/><rect x="391.20" y="30.41" width="9.65" height="2.07" fill="#317fea"/><rect x="400.80" y="30.41" width="9.65" height="2.07" fill="#2c90e1"/><rect x="410.40" y="30.41" width="9.65" height="2.07" fill="#2d8ce3"/><rect x="420.00" y="30.41" width="9.65" height="2.07" fill="#289bd8"/><rect x="429.60" y="30.41" width="9.65" height="2.07" fill="#2b91e0"/><rect x="439.20" y="30.41" width="9.65" height="2.07" fill="#2a93de"/><rect x="448.80" y="30.41" width="9.65" height="2.07" fill="#23abc5"/><rect x="458.40" y="30.41" width="9.65" height="2.07" fill="#2e89e5"/><rect x="468.00" y="30.41" width="9.65" height="2.07" fill="#2f84e7"/><rect x="477.60" y="30.41" width="9.65" height="2.07" fill="#26a1d2"/><rect x="487.20" y="30.41" width="9.65" height="2.07" fill="#2b90e0"/><rect x="496.80" y="30.41" width="9.65" height="2.07" fill="#2b93df"/><rect x="506.40" y="30.41" width="9.65" height="2.07" fill="#2b90e1"/><rect x="314.40" y="32.42" width="9.65" height="2.07" fill="#2998db"/><rect x="324.00" y="32.42" width="9.65" height="2.07" fill="#2b90e1"/><rect x="333.60" y="32.42" width="9.65" height="2.07" fill="#2a97dc"/><rect x="343.20" y="32.42" width="9.65" height="2.07" fill="#2998db"/><rect x="352.80" y="32.42" width="9.65" height="2.07" fill="#2f84e7"/><rect x="362.40" y="32.42" width="9.65" height="2.07" fill="#3b69f0"/><rect x="372.00" y="32.42" width="9.65" height="2.07" fill="#317eeb"/><rect x="381.60" y="32.42" width="9.65" height="2.07" fill="#299ad9"/><rect x="391.20" y="32.42" width="9.65" height="2.07" fill="#317eeb"/><rect x="400.80" y="32.42" width="9.65" height="2.07" fill="#2b92df"/><rect x="410.40" y="32.42" width="9.65" height="2.07" fill="#2e89e5"/><rect x="420.00" y="32.42" width="9.65" height="2.07" fill="#327deb"/><rect x="429.60" y="32.42" width="9.65" height="2.07" fill="#2c8de3"/><rect x="439.20" y="32.42" width="9.65" height="2.07" fill="#3081e9"/><rect x="448.80" y="32.42" width="9.65" height="2.07" fill="#2b93df"/><rect x="458.40" y="32.42" width="9.65" height="2.07" fill="#2e89e5"/><rect x="468.00" y="32.42" width="9.65" height="2.07" fill="#289dd7"/><rect x="477.60" y="32.42" width="9.65" height="2.07" fill="#3674ed"/><rect x="487.20" y="32.42" width="9.65" height="2.07" fill="#3083e8"/><rect x="496.80" y="32.42" width="9.65" height="2.07" fill="#2b93df"/><rect x="506.40" y="32.42" width="9.65" height="2.07" fill="#2c8ee2"/><rect x="314.40" y="34.44" width="9.65" height="2.07" fill="#2d8ce3"/><rect x="324.00" y="34.44" width="9.65" height="2.07" fill="#26b0bc"/><rect x="333.60" y="34.44" width="9.65" height="2.07" fill="#2a96dc"/><rect x="343.20" y="34.44" width="9.65" height="2.07" fill="#2d8ce3"/><rect x="352.80" y="34.44" width="9.65" height="2.07" fill="#279ed6"/><rect x="362.40" y="34.44" width="9.65" height="2.07" fill="#317eeb"/><rect x="372.00" y="34.44" width="9.65" height="2.07" fill="#2a94de"/><rect x="381.60" y="34.44" width="9.65" height="2.07" fill="#23acc4"/><rect x="391.20" y="34.44" width="9.65" height="2.07" fill="#2a95dd"/><rect x="400.80" y="34.44" width="9.65" height="2.07" fill="#2c8fe2"/><rect x="410.40" y="34.44" width="9.65" height="2.07" fill="#2c8fe2"/><rect x="420.00" y="34.44" width="9.65" height="2.07" fill="#2b92df"/><rect x="429.60" y="34.44" width="9.65" height="2.07" fill="#2a97dc"/><rect x="439.20" y="34.44" width="9.65" height="2.07" fill="#2c8fe1"/><rect x="448.80" y="34.44" width="9.65" height="2.07" fill="#289ad9"/><rect x="458.40" y="34.44" width="9.65" height="2.07" fill="#289ad9"/><rect x="468.00" y="34.44" width="9.65" height="2.07" fill="#2d8ae4"/><rect x="477.60" y="34.44" width="9.65" height="2.07" fill="#2997dc"/><rect x="487.20" y="34.44" width="9.65" height="2.07" fill="#2c8fe1"/><rect x="496.80" y="34.44" width="9.65" height="2.07" fill="#289bd8"/><rect x="506.40" y="34.44" width="9.65" height="2.07" fill="#2e88e5"/><rect x="314.40" y="36.46" width="9.65" height="2.07" fill="#3180ea"/><rect x="324.00" y="36.46" width="9.65" height="2.07" fill="#3081e9"/><rect x="333.60" y="36.46" width="9.65" height="2.07" fill="#3180ea"/><rect x="343.20" y="36.46" width="9.65" height="2.07" fill="#23a7cb"/><rect x="352.80" y="36.46" width="9.65" height="2.07" fill="#3674ed"/><rect x="362.40" y="36.46" width="9.65" height="2.07" fill="#2a96dc"/><rect x="372.00" y="36.46" width="9.65" height="2.07" fill="#2b91e0"/><rect x="381.60" y="36.46" width="9.65" height="2.07" fill="#2999da"/><rect x="391.20" y="36.46" width="9.65" height="2.07" fill="#2a96dc"/><rect x="400.80" y="36.46" width="9.65" height="2.07" fill="#2e87e6"/><rect x="410.40" y="36.46" width="9.65" height="2.07" fill="#3081e9"/><rect x="420.00" y="36.46" width="9.65" height="2.07" fill="#2f86e7"/><rect x="429.60" y="36.46" width="9.65" height="2.07" fill="#2c8ee2"/><rect x="439.20" y="36.46" width="9.65" height="2.07" fill="#2c90e1"/><rect x="448.80" y="36.46" width="9.65" height="2.07" fill="#2d8ae4"/><rect x="458.40" y="36.46" width="9.65" height="2.07" fill="#3180ea"/><rect x="468.00" y="36.46" width="9.65" height="2.07" fill="#3180ea"/><rect x="477.60" y="36.46" width="9.65" height="2.07" fill="#2d8ce3"/><rect x="487.20" y="36.46" width="9.65" height="2.07" fill="#25a3d0"/><rect x="496.80" y="36.46" width="9.65" height="2.07" fill="#2998db"/><rect x="506.40" y="36.46" width="9.65" height="2.07" fill="#2c8de3"/><rect x="314.40" y="38.48" width="9.65" height="2.07" fill="#2a94de"/><rect x="324.00" y="38.48" width="9.65" height="2.07" fill="#23acc4"/><rect x="333.60" y="38.48" width="9.65" height="2.07" fill="#23a7cb"/><rect x="343.20" y="38.48" width="9.65" height="2.07" fill="#2c8de2"/><rect x="352.80" y="38.48" width="9.65" height="2.07" fill="#2a94de"/><rect x="362.40" y="38.48" width="9.65" height="2.07" fill="#289ad9"/><rect x="372.00" y="38.48" width="9.65" height="2.07" fill="#2a95dd"/><rect x="381.60" y="38.48" width="9.65" height="2.07" fill="#25a2d1"/><rect x="391.20" y="38.48" width="9.65" height="2.07" fill="#279ed5"/><rect x="400.80" y="38.48" width="9.65" height="2.07" fill="#2998db"/><rect x="410.40" y="38.48" width="9.65" height="2.07" fill="#26a0d4"/><rect x="420.00" y="38.48" width="9.65" height="2.07" fill="#2a96dd"/><rect x="429.60" y="38.48" width="9.65" height="2.07" fill="#279ed6"/><rect x="439.20" y="38.48" width="9.65" height="2.07" fill="#25afbf"/><rect x="448.80" y="38.48" width="9.65" height="2.07" fill="#2d8ce3"/><rect x="458.40" y="38.48" width="9.65" height="2.07" fill="#289dd7"/><rect x="468.00" y="38.48" width="9.65" height="2.07" fill="#2b90e1"/><rect x="477.60" y="38.48" width="9.65" height="2.07" fill="#24aec0"/><rect x="487.20" y="38.48" width="9.65" height="2.07" fill="#2c90e1"/><rect x="496.80" y="38.48" width="9.65" height="2.07" fill="#2b92df"/><rect x="506.40" y="38.48" width="9.65" height="2.07" fill="#25a2d1"/><rect x="314.40" y="40.50" width="9.65" height="2.07" fill="#23a7cc"/><rect x="324.00" y="40.50" width="9.65" height="2.07" fill="#2f84e8"/><rect x="333.60" y="40.50" width="9.65" height="2.07" fill="#2b93df"/><rect x="343.20" y="40.50" width="9.65" height="2.07" fill="#299ada"/><rect x="352.80" y="40.50" width="9.65" height="2.07" fill="#3b69ef"/><rect x="362.40" y="40.50" width="9.65" height="2.07" fill="#2d8ae4"/><rect x="372.00" y="40.50" width="9.65" height="2.07" fill="#2997dc"/><rect x="381.60" y="40.50" width="9.65" height="2.07" fill="#2d8ce3"/><rect x="391.20" y="40.50" width="9.65" height="2.07" fill="#2e88e6"/><rect x="400.80" y="40.50" width="9.65" height="2.07" fill="#299ada"/><rect x="410.40" y="40.50" width="9.65" height="2.07" fill="#2a94de"/><rect x="420.00" y="40.50" width="9.65" height="2.07" fill="#289cd8"/><rect x="429.60" y="40.50" width="9.65" height="2.07" fill="#2a95dd"/><rect x="439.20" y="40.50" width="9.65" height="2.07" fill="#2998db"/><rect x="448.80" y="40.50" width="9.65" height="2.07" fill="#2e88e5"/><rect x="458.40" y="40.50" width="9.65" height="2.07" fill="#299ada"/><rect x="468.00" y="40.50" width="9.65" height="2.07" fill="#2d8ae4"/><rect x="477.60" y="40.50" width="9.65" height="2.07" fill="#2e89e5"/><rect x="487.20" y="40.50" width="9.65" height="2.07" fill="#25afbe"/><rect x="496.80" y="40.50" width="9.65" height="2.07" fill="#2e87e6"/><rect x="506.40" y="40.50" width="9.65" height="2.07" fill="#2a94de"/><rect x="314.40" y="42.52" width="9.65" height="2.07" fill="#2998db"/><rect x="324.00" y="42.52" width="9.65" height="2.07" fill="#2999da"/><rect x="333.60" y="42.52" width="9.65" height="2.07" fill="#327deb"/><rect x="343.20" y="42.52" width="9.65" height="2.07" fill="#289dd7"/><rect x="352.80" y="42.52" width="9.65" height="2.07" fill="#2e89e5"/><rect x="362.40" y="42.52" width="9.65" height="2.07" fill="#2b90e0"/><rect x="372.00" y="42.52" width="9.65" height="2.07" fill="#3082e9"/><rect x="381.60" y="42.52" width="9.65" height="2.07" fill="#2d8be4"/><rect x="391.20" y="42.52" width="9.65" height="2.07" fill="#3b68f0"/><rect x="400.80" y="42.52" width="9.65" height="2.07" fill="#2b90e1"/><rect x="410.40" y="42.52" width="9.65" height="2.07" fill="#2998db"/><rect x="420.00" y="42.52" width="9.65" height="2.07" fill="#2a96dc"/><rect x="429.60" y="42.52" width="9.65" height="2.07" fill="#2b90e0"/><rect x="439.20" y="42.52" width="9.65" height="2.07" fill="#2c8ee2"/><rect x="448.80" y="42.52" width="9.65" height="2.07" fill="#2f86e7"/><rect x="458.40" y="42.52" width="9.65" height="2.07" fill="#3f5fee"/><rect x="468.00" y="42.52" width="9.65" height="2.07" fill="#3081e9"/><rect x="477.60" y="42.52" width="9.65" height="2.07" fill="#2b90e1"/><rect x="487.20" y="42.52" width="9.65" height="2.07" fill="#2a94de"/><rect x="496.80" y="42.52" width="9.65" height="2.07" fill="#2f86e6"/><rect x="506.40" y="42.52" width="9.65" height="2.07" fill="#2e88e5"/><rect x="314.40" y="44.54" width="9.65" height="2.07" fill="#25aec0"/><rect x="324.00" y="44.54" width="9.65" height="2.07" fill="#2d8be4"/><rect x="333.60" y="44.54" width="9.65" height="2.07" fill="#2999da"/><rect x="343.20" y="44.54" width="9.65" height="2.07" fill="#25b0bd"/><rect x="352.80" y="44.54" width="9.65" height="2.07" fill="#2c8fe2"/><rect x="362.40" y="44.54" width="9.65" height="2.07" fill="#23acc5"/><rect x="372.00" y="44.54" width="9.65" height="2.07" fill="#2f86e6"/><rect x="381.60" y="44.54" width="9.65" height="2.07" fill="#25b0bd"/><rect x="391.20" y="44.54" width="9.65" height="2.07" fill="#2999da"/><rect x="400.80" y="44.54" width="9.65" height="2.07" fill="#2a96dc"/><rect x="410.40" y="44.54" width="9.65" height="2.07" fill="#279fd5"/><rect x="420.00" y="44.54" width="9.65" height="2.07" fill="#26a0d4"/><rect x="429.60" y="44.54" width="9.65" height="2.07" fill="#26a1d2"/><rect x="439.20" y="44.54" width="9.65" height="2.07" fill="#24a5ce"/><rect x="448.80" y="44.54" width="9.65" height="2.07" fill="#2c8ee2"/><rect x="458.40" y="44.54" width="9.65" height="2.07" fill="#24a5cd"/><rect x="468.00" y="44.54" width="9.65" height="2.07" fill="#23a8ca"/><rect x="477.60" y="44.54" width="9.65" height="2.07" fill="#2c8fe1"/><rect x="487.20" y="44.54" width="9.65" height="2.07" fill="#279ed6"/><rect x="496.80" y="44.54" width="9.65" height="2.07" fill="#2999da"/><rect x="506.40" y="44.54" width="9.65" height="2.07" fill="#386fee"/><rect x="314.40" y="46.56" width="9.65" height="2.07" fill="#2c8ee2"/><rect x="324.00" y="46.56" width="9.65" height="2.07" fill="#22abc7"/><rect x="333.60" y="46.56" width="9.65" height="2.07" fill="#23a8cb"/><rect x="343.20" y="46.56" width="9.65" height="2.07" fill="#2a96dc"/><rect x="352.80" y="46.56" width="9.65" height="2.07" fill="#24a5ce"/><rect x="362.40" y="46.56" width="9.65" height="2.07" fill="#22a9c9"/><rect x="372.00" y="46.56" width="9.65" height="2.07" fill="#289bd9"/><rect x="381.60" y="46.56" width="9.65" height="2.07" fill="#23a7cb"/><rect x="391.20" y="46.56" width="9.65" height="2.07" fill="#26a0d3"/><rect x="400.80" y="46.56" width="9.65" height="2.07" fill="#2a95dd"/><rect x="410.40" y="46.56" width="9.65" height="2.07" fill="#279fd4"/><rect x="420.00" y="46.56" width="9.65" height="2.07" fill="#279fd4"/><rect x="429.60" y="46.56" width="9.65" height="2.07" fill="#23abc5"/><rect x="439.20" y="46.56" width="9.65" height="2.07" fill="#2b91e0"/><rect x="448.80" y="46.56" width="9.65" height="2.07" fill="#23a7cc"/><rect x="458.40" y="46.56" width="9.65" height="2.07" fill="#23abc5"/><rect x="468.00" y="46.56" width="9.65" height="2.07" fill="#22aac8"/><rect x="477.60" y="46.56" width="9.65" height="2.07" fill="#2a95dd"/><rect x="487.20" y="46.56" width="9.65" height="2.07" fill="#2a94de"/><rect x="496.80" y="46.56" width="9.65" height="2.07" fill="#26a1d2"/><rect x="506.40" y="46.56" width="9.65" height="2.07" fill="#289bd9"/><rect x="314.40" y="48.58" width="9.65" height="2.07" fill="#27b2b7"/><rect x="324.00" y="48.58" width="9.65" height="2.07" fill="#28b4b5"/><rect x="333.60" y="48.58" width="9.65" height="2.07" fill="#35b9a7"/><rect x="343.20" y="48.58" width="9.65" height="2.07" fill="#23abc5"/><rect x="352.80" y="48.58" width="9.65" height="2.07" fill="#25b0bd"/><rect x="362.40" y="48.58" width="9.65" height="2.07" fill="#25aebf"/><rect x="372.00" y="48.58" width="9.65" height="2.07" fill="#23acc3"/><rect x="381.60" y="48.58" width="9.65" height="2.07" fill="#23a8ca"/><rect x="391.20" y="48.58" width="9.65" height="2.07" fill="#45bd9b"/><rect x="400.80" y="48.58" width="9.65" height="2.07" fill="#22abc7"/><rect x="410.40" y="48.58" width="9.65" height="2.07" fill="#39bba3"/><rect x="420.00" y="48.58" width="9.65" height="2.07" fill="#34b9a8"/><rect x="429.60" y="48.58" width="9.65" height="2.07" fill="#2eb6ae"/><rect x="439.20" y="48.58" width="9.65" height="2.07" fill="#25a3cf"/><rect x="448.80" y="48.58" width="9.65" height="2.07" fill="#31b8ab"/><rect x="458.40" y="48.58" width="9.65" height="2.07" fill="#27b2b9"/><rect x="468.00" y="48.58" width="9.65" height="2.07" fill="#2ab5b2"/><rect x="477.60" y="48.58" width="9.65" height="2.07" fill="#42bd9d"/><rect x="487.20" y="48.58" width="9.65" height="2.07" fill="#30b7ac"/><rect x="496.80" y="48.58" width="9.65" height="2.07" fill="#22aac8"/><rect x="506.40" y="48.58" width="9.65" height="2.07" fill="#24a6cd"/><rect x="314.40" y="50.59" width="9.65" height="2.07" fill="#2a94de"/><rect x="324.00" y="50.59" width="9.65" height="2.07" fill="#2b91e0"/><rect x="333.60" y="50.59" width="9.65" height="2.07" fill="#22aac8"/><rect x="343.20" y="50.59" width="9.65" height="2.07" fill="#3082e9"/><rect x="352.80" y="50.59" width="9.65" height="2.07" fill="#2b92df"/><rect x="362.40" y="50.59" width="9.65" height="2.07" fill="#2a96dc"/><rect x="372.00" y="50.59" width="9.65" height="2.07" fill="#23acc3"/><rect x="381.60" y="50.59" width="9.65" height="2.07" fill="#2d8be4"/><rect x="391.20" y="50.59" width="9.65" height="2.07" fill="#279fd5"/><rect x="400.80" y="50.59" width="9.65" height="2.07" fill="#22aac7"/><rect x="410.40" y="50.59" width="9.65" height="2.07" fill="#24aec0"/><rect x="420.00" y="50.59" width="9.65" height="2.07" fill="#2997db"/><rect x="429.60" y="50.59" width="9.65" height="2.07" fill="#22aac7"/><rect x="439.20" y="50.59" width="9.65" height="2.07" fill="#23acc3"/><rect x="448.80" y="50.59" width="9.65" height="2.07" fill="#279fd5"/><rect x="458.40" y="50.59" width="9.65" height="2.07" fill="#22a9c9"/><rect x="468.00" y="50.59" width="9.65" height="2.07" fill="#28b4b4"/><rect x="477.60" y="50.59" width="9.65" height="2.07" fill="#23a7cb"/><rect x="487.20" y="50.59" width="9.65" height="2.07" fill="#25a4cf"/><rect x="496.80" y="50.59" width="9.65" height="2.07" fill="#2b93df"/><rect x="506.40" y="50.59" width="9.65" height="2.07" fill="#27b2b8"/><rect x="314.40" y="52.61" width="9.65" height="2.07" fill="#3abba2"/><rect x="324.00" y="52.61" width="9.65" height="2.07" fill="#2eb6ae"/><rect x="333.60" y="52.61" width="9.65" height="2.07" fill="#23abc6"/><rect x="343.20" y="52.61" width="9.65" height="2.07" fill="#25aebf"/><rect x="352.80" y="52.61" width="9.65" height="2.07" fill="#41bd9d"/><rect x="362.40" y="52.61" width="9.65" height="2.07" fill="#24adc2"/><rect x="372.00" y="52.61" width="9.65" height="2.07" fill="#24aec1"/><rect x="381.60" y="52.61" width="9.65" height="2.07" fill="#28b4b4"/><rect x="391.20" y="52.61" width="9.65" height="2.07" fill="#24adc3"/><rect x="400.80" y="52.61" width="9.65" height="2.07" fill="#28b3b5"/><rect x="410.40" y="52.61" width="9.65" height="2.07" fill="#22abc7"/><rect x="420.00" y="52.61" width="9.65" height="2.07" fill="#31b8ab"/><rect x="429.60" y="52.61" width="9.65" height="2.07" fill="#52c093"/><rect x="439.20" y="52.61" width="9.65" height="2.07" fill="#23acc4"/><rect x="448.80" y="52.61" width="9.65" height="2.07" fill="#33b8a9"/><rect x="458.40" y="52.61" width="9.65" height="2.07" fill="#2d8ce3"/><rect x="468.00" y="52.61" width="9.65" height="2.07" fill="#23a8ca"/><rect x="477.60" y="52.61" width="9.65" height="2.07" fill="#23acc4"/><rect x="487.20" y="52.61" width="9.65" height="2.07" fill="#26b1bb"/><rect x="496.80" y="52.61" width="9.65" height="2.07" fill="#28b4b5"/><rect x="506.40" y="52.61" width="9.65" height="2.07" fill="#2fb7ad"/><rect x="314.40" y="54.63" width="9.65" height="2.07" fill="#289dd7"/><rect x="324.00" y="54.63" width="9.65" height="2.07" fill="#26a1d2"/><rect x="333.60" y="54.63" width="9.65" height="2.07" fill="#279fd5"/><rect x="343.20" y="54.63" width="9.65" height="2.07" fill="#2999da"/><rect x="352.80" y="54.63" width="9.65" height="2.07" fill="#23a7cc"/><rect x="362.40" y="54.63" width="9.65" height="2.07" fill="#24a5cd"/><rect x="372.00" y="54.63" width="9.65" height="2.07" fill="#2b91e0"/><rect x="381.60" y="54.63" width="9.65" height="2.07" fill="#24aec0"/><rect x="391.20" y="54.63" width="9.65" height="2.07" fill="#2b91e0"/><rect x="400.80" y="54.63" width="9.65" height="2.07" fill="#2c8de2"/><rect x="410.40" y="54.63" width="9.65" height="2.07" fill="#299ad9"/><rect x="420.00" y="54.63" width="9.65" height="2.07" fill="#2c8de2"/><rect x="429.60" y="54.63" width="9.65" height="2.07" fill="#24adc2"/><rect x="439.20" y="54.63" width="9.65" height="2.07" fill="#26a1d3"/><rect x="448.80" y="54.63" width="9.65" height="2.07" fill="#2d8ce3"/><rect x="458.40" y="54.63" width="9.65" height="2.07" fill="#24a5ce"/><rect x="468.00" y="54.63" width="9.65" height="2.07" fill="#289ad9"/><rect x="477.60" y="54.63" width="9.65" height="2.07" fill="#23acc4"/><rect x="487.20" y="54.63" width="9.65" height="2.07" fill="#23acc4"/><rect x="496.80" y="54.63" width="9.65" height="2.07" fill="#26b1ba"/><rect x="506.40" y="54.63" width="9.65" height="2.07" fill="#22aac8"/><rect x="314.40" y="56.65" width="9.65" height="2.07" fill="#26b1ba"/><rect x="324.00" y="56.65" width="9.65" height="2.07" fill="#31b8ab"/><rect x="333.60" y="56.65" width="9.65" height="2.07" fill="#26b1ba"/><rect x="343.20" y="56.65" width="9.65" height="2.07" fill="#25b0bd"/><rect x="352.80" y="56.65" width="9.65" height="2.07" fill="#25a2d1"/><rect x="362.40" y="56.65" width="9.65" height="2.07" fill="#22aac7"/><rect x="372.00" y="56.65" width="9.65" height="2.07" fill="#289cd8"/><rect x="381.60" y="56.65" width="9.65" height="2.07" fill="#23acc5"/><rect x="391.20" y="56.65" width="9.65" height="2.07" fill="#24a5cd"/><rect x="400.80" y="56.65" width="9.65" height="2.07" fill="#26b0bc"/><rect x="410.40" y="56.65" width="9.65" height="2.07" fill="#22abc7"/><rect x="420.00" y="56.65" width="9.65" height="2.07" fill="#31b7ab"/><rect x="429.60" y="56.65" width="9.65" height="2.07" fill="#26b0bb"/><rect x="439.20" y="56.65" width="9.65" height="2.07" fill="#2d8be4"/><rect x="448.80" y="56.65" width="9.65" height="2.07" fill="#26a1d2"/><rect x="458.40" y="56.65" width="9.65" height="2.07" fill="#25afbd"/><rect x="468.00" y="56.65" width="9.65" height="2.07" fill="#24a5ce"/><rect x="477.60" y="56.65" width="9.65" height="2.07" fill="#27b2b7"/><rect x="487.20" y="56.65" width="9.65" height="2.07" fill="#22a9c9"/><rect x="496.80" y="56.65" width="9.65" height="2.07" fill="#30b7ac"/><rect x="506.40" y="56.65" width="9.65" height="2.07" fill="#279fd4"/><rect x="314.40" y="58.67" width="9.65" height="2.07" fill="#27b2b8"/><rect x="324.00" y="58.67" width="9.65" height="2.07" fill="#39bba3"/><rect x="333.60" y="58.67" width="9.65" height="2.07" fill="#2b92df"/><rect x="343.20" y="58.67" width="9.65" height="2.07" fill="#26b1ba"/><rect x="352.80" y="58.67" width="9.65" height="2.07" fill="#32b8aa"/><rect x="362.40" y="58.67" width="9.65" height="2.07" fill="#22abc6"/><rect x="372.00" y="58.67" width="9.65" height="2.07" fill="#25a3d0"/><rect x="381.60" y="58.67" width="9.65" height="2.07" fill="#23abc6"/><rect x="391.20" y="58.67" width="9.65" height="2.07" fill="#23a7cc"/><rect x="400.80" y="58.67" width="9.65" height="2.07" fill="#23a8ca"/><rect x="410.40" y="58.67" width="9.65" height="2.07" fill="#24adc3"/><rect x="420.00" y="58.67" width="9.65" height="2.07" fill="#22abc7"/><rect x="429.60" y="58.67" width="9.65" height="2.07" fill="#24a5cd"/><rect x="439.20" y="58.67" width="9.65" height="2.07" fill="#25a2d1"/><rect x="448.80" y="58.67" width="9.65" height="2.07" fill="#289bd9"/><rect x="458.40" y="58.67" width="9.65" height="2.07" fill="#27b3b7"/><rect x="468.00" y="58.67" width="9.65" height="2.07" fill="#25a2d1"/><rect x="477.60" y="58.67" width="9.65" height="2.07" fill="#2ab5b2"/><rect x="487.20" y="58.67" width="9.65" height="2.07" fill="#24a5ce"/><rect x="496.80" y="58.67" width="9.65" height="2.07" fill="#39bba3"/><rect x="506.40" y="58.67" width="9.65" height="2.07" fill="#2db6af"/><rect x="314.40" y="60.69" width="9.65" height="2.07" fill="#25afbd"/><rect x="324.00" y="60.69" width="9.65" height="2.07" fill="#25afbf"/><rect x="333.60" y="60.69" width="9.65" height="2.07" fill="#2ab5b2"/><rect x="343.20" y="60.69" width="9.65" height="2.07" fill="#24adc1"/><rect x="352.80" y="60.69" width="9.65" height="2.07" fill="#37baa5"/><rect x="362.40" y="60.69" width="9.65" height="2.07" fill="#23acc5"/><rect x="372.00" y="60.69" width="9.65" height="2.07" fill="#25afbf"/><rect x="381.60" y="60.69" width="9.65" height="2.07" fill="#2fb7ad"/><rect x="391.20" y="60.69" width="9.65" height="2.07" fill="#27b2b9"/><rect x="400.80" y="60.69" width="9.65" height="2.07" fill="#2fb7ad"/><rect x="410.40" y="60.69" width="9.65" height="2.07" fill="#23acc3"/><rect x="420.00" y="60.69" width="9.65" height="2.07" fill="#23acc4"/><rect x="429.60" y="60.69" width="9.65" height="2.07" fill="#22abc7"/><rect x="439.20" y="60.69" width="9.65" height="2.07" fill="#24a6cd"/><rect x="448.80" y="60.69" width="9.65" height="2.07" fill="#25afbe"/><rect x="458.40" y="60.69" width="9.65" height="2.07" fill="#2997db"/><rect x="468.00" y="60.69" width="9.65" height="2.07" fill="#24aec1"/><rect x="477.60" y="60.69" width="9.65" height="2.07" fill="#29b5b3"/><rect x="487.20" y="60.69" width="9.65" height="2.07" fill="#30b7ac"/><rect x="496.80" y="60.69" width="9.65" height="2.07" fill="#27b2b9"/><rect x="506.40" y="60.69" width="9.65" height="2.07" fill="#279fd4"/><rect x="314.40" y="62.71" width="9.65" height="2.07" fill="#26b1ba"/><rect x="324.00" y="62.71" width="9.65" height="2.07" fill="#25afbe"/><rect x="333.60" y="62.71" width="9.65" height="2.07" fill="#26b1bb"/><rect x="343.20" y="62.71" width="9.65" height="2.07" fill="#26a0d4"/><rect x="352.80" y="62.71" width="9.65" height="2.07" fill="#22aac7"/><rect x="362.40" y="62.71" width="9.65" height="2.07" fill="#32b8aa"/><rect x="372.00" y="62.71" width="9.65" height="2.07" fill="#27b2b9"/><rect x="381.60" y="62.71" width="9.65" height="2.07" fill="#25b0bd"/><rect x="391.20" y="62.71" width="9.65" height="2.07" fill="#3abba2"/><rect x="400.80" y="62.71" width="9.65" height="2.07" fill="#23a8ca"/><rect x="410.40" y="62.71" width="9.65" height="2.07" fill="#24adc2"/><rect x="420.00" y="62.71" width="9.65" height="2.07" fill="#24a5ce"/><rect x="429.60" y="62.71" width="9.65" height="2.07" fill="#2bb5b1"/><rect x="439.20" y="62.71" width="9.65" height="2.07" fill="#22abc7"/><rect x="448.80" y="62.71" width="9.65" height="2.07" fill="#22abc6"/><rect x="458.40" y="62.71" width="9.65" height="2.07" fill="#37baa5"/><rect x="468.00" y="62.71" width="9.65" height="2.07" fill="#2fb7ad"/><rect x="477.60" y="62.71" width="9.65" height="2.07" fill="#2db6af"/><rect x="487.20" y="62.71" width="9.65" height="2.07" fill="#34b9a8"/><rect x="496.80" y="62.71" width="9.65" height="2.07" fill="#2fb7ad"/><rect x="506.40" y="62.71" width="9.65" height="2.07" fill="#28b3b5"/><rect x="314.40" y="64.72" width="9.65" height="2.07" fill="#2fb7ad"/><rect x="324.00" y="64.72" width="9.65" height="2.07" fill="#33b8a9"/><rect x="333.60" y="64.72" width="9.65" height="2.07" fill="#279fd5"/><rect x="343.20" y="64.72" width="9.65" height="2.07" fill="#30b7ac"/><rect x="352.80" y="64.72" width="9.65" height="2.07" fill="#2cb5b0"/><rect x="362.40" y="64.72" width="9.65" height="2.07" fill="#39bba3"/><rect x="372.00" y="64.72" width="9.65" height="2.07" fill="#3bbba1"/><rect x="381.60" y="64.72" width="9.65" height="2.07" fill="#33b8a9"/><rect x="391.20" y="64.72" width="9.65" height="2.07" fill="#31b8ab"/><rect x="400.80" y="64.72" width="9.65" height="2.07" fill="#2fb7ad"/><rect x="410.40" y="64.72" width="9.65" height="2.07" fill="#27b3b6"/><rect x="420.00" y="64.72" width="9.65" height="2.07" fill="#31b7ab"/><rect x="429.60" y="64.72" width="9.65" height="2.07" fill="#44bd9b"/><rect x="439.20" y="64.72" width="9.65" height="2.07" fill="#24aec1"/><rect x="448.80" y="64.72" width="9.65" height="2.07" fill="#37baa5"/><rect x="458.40" y="64.72" width="9.65" height="2.07" fill="#25b0bd"/><rect x="468.00" y="64.72" width="9.65" height="2.07" fill="#3bbca1"/><rect x="477.60" y="64.72" width="9.65" height="2.07" fill="#27b3b6"/><rect x="487.20" y="64.72" width="9.65" height="2.07" fill="#22abc7"/><rect x="496.80" y="64.72" width="9.65" height="2.07" fill="#26b1ba"/><rect x="506.40" y="64.72" width="9.65" height="2.07" fill="#33b8a9"/><rect x="314.40" y="66.74" width="9.65" height="2.07" fill="#2bb5b1"/><rect x="324.00" y="66.74" width="9.65" height="2.07" fill="#3cbca0"/><rect x="333.60" y="66.74" width="9.65" height="2.07" fill="#51c094"/><rect x="343.20" y="66.74" width="9.65" height="2.07" fill="#38baa4"/><rect x="352.80" y="66.74" width="9.65" height="2.07" fill="#4fbf95"/><rect x="362.40" y="66.74" width="9.65" height="2.07" fill="#5dc18d"/><rect x="372.00" y="66.74" width="9.65" height="2.07" fill="#34b9a8"/><rect x="381.60" y="66.74" width="9.65" height="2.07" fill="#31b7ab"/><rect x="391.20" y="66.74" width="9.65" height="2.07" fill="#38bba4"/><rect x="400.80" y="66.74" width="9.65" height="2.07" fill="#34b9a8"/><rect x="410.40" y="66.74" width="9.65" height="2.07" fill="#37baa5"/><rect x="420.00" y="66.74" width="9.65" height="2.07" fill="#24aec0"/><rect x="429.60" y="66.74" width="9.65" height="2.07" fill="#5ac18f"/><rect x="439.20" y="66.74" width="9.65" height="2.07" fill="#2fb7ad"/><rect x="448.80" y="66.74" width="9.65" height="2.07" fill="#3bbca1"/><rect x="458.40" y="66.74" width="9.65" height="2.07" fill="#37baa5"/><rect x="468.00" y="66.74" width="9.65" height="2.07" fill="#289cd8"/><rect x="477.60" y="66.74" width="9.65" height="2.07" fill="#2fb7ad"/><rect x="487.20" y="66.74" width="9.65" height="2.07" fill="#48be99"/><rect x="496.80" y="66.74" width="9.65" height="2.07" fill="#2ab5b2"/><rect x="506.40" y="66.74" width="9.65" height="2.07" fill="#5ec28c"/><rect x="314.40" y="68.76" width="9.65" height="2.07" fill="#26b0bb"/><rect x="324.00" y="68.76" width="9.65" height="2.07" fill="#27b3b7"/><rect x="333.60" y="68.76" width="9.65" height="2.07" fill="#4fbf95"/><rect x="343.20" y="68.76" width="9.65" height="2.07" fill="#27b3b7"/><rect x="352.80" y="68.76" width="9.65" height="2.07" fill="#3ebc9f"/><rect x="362.40" y="68.76" width="9.65" height="2.07" fill="#33b9a9"/><rect x="372.00" y="68.76" width="9.65" height="2.07" fill="#61c28b"/><rect x="381.60" y="68.76" width="9.65" height="2.07" fill="#38baa4"/><rect x="391.20" y="68.76" width="9.65" height="2.07" fill="#45bd9b"/><rect x="400.80" y="68.76" width="9.65" height="2.07" fill="#25b0bc"/><rect x="410.40" y="68.76" width="9.65" height="2.07" fill="#57c090"/><rect x="420.00" y="68.76" width="9.65" height="2.07" fill="#22aac7"/><rect x="429.60" y="68.76" width="9.65" height="2.07" fill="#26b1ba"/><rect x="439.20" y="68.76" width="9.65" height="2.07" fill="#28b4b4"/><rect x="448.80" y="68.76" width="9.65" height="2.07" fill="#28b4b4"/><rect x="458.40" y="68.76" width="9.65" height="2.07" fill="#2fb7ad"/><rect x="468.00" y="68.76" width="9.65" height="2.07" fill="#5bc18e"/><rect x="477.60" y="68.76" width="9.65" height="2.07" fill="#2db6af"/><rect x="487.20" y="68.76" width="9.65" height="2.07" fill="#26b1ba"/><rect x="496.80" y="68.76" width="9.65" height="2.07" fill="#37baa5"/><rect x="506.40" y="68.76" width="9.65" height="2.07" fill="#5ac18e"/><rect x="314.40" y="70.78" width="9.65" height="2.07" fill="#4bbf97"/><rect x="324.00" y="70.78" width="9.65" height="2.07" fill="#37baa5"/><rect x="333.60" y="70.78" width="9.65" height="2.07" fill="#66c387"/><rect x="343.20" y="70.78" width="9.65" height="2.07" fill="#32b8aa"/><rect x="352.80" y="70.78" width="9.65" height="2.07" fill="#5ac18f"/><rect x="362.40" y="70.78" width="9.65" height="2.07" fill="#45bd9b"/><rect x="372.00" y="70.78" width="9.65" height="2.07" fill="#53c093"/><rect x="381.60" y="70.78" width="9.65" height="2.07" fill="#5ec28c"/><rect x="391.20" y="70.78" width="9.65" height="2.07" fill="#68c386"/><rect x="400.80" y="70.78" width="9.65" height="2.07" fill="#41bd9d"/><rect x="410.40" y="70.78" width="9.65" height="2.07" fill="#3dbca0"/><rect x="420.00" y="70.78" width="9.65" height="2.07" fill="#63c389"/><rect x="429.60" y="70.78" width="9.65" height="2.07" fill="#51bf94"/><rect x="439.20" y="70.78" width="9.65" height="2.07" fill="#32b8aa"/><rect x="448.80" y="70.78" width="9.65" height="2.07" fill="#37baa5"/><rect x="458.40" y="70.78" width="9.65" height="2.07" fill="#62c28a"/><rect x="468.00" y="70.78" width="9.65" height="2.07" fill="#48be99"/><rect x="477.60" y="70.78" width="9.65" height="2.07" fill="#40bd9e"/><rect x="487.20" y="70.78" width="9.65" height="2.07" fill="#77c57c"/><rect x="496.80" y="70.78" width="9.65" height="2.07" fill="#27b3b7"/><rect x="506.40" y="70.78" width="9.65" height="2.07" fill="#28b4b4"/><rect x="314.40" y="72.80" width="9.65" height="2.07" fill="#68c386"/><rect x="324.00" y="72.80" width="9.65" height="2.07" fill="#64c389"/><rect x="333.60" y="72.80" width="9.65" height="2.07" fill="#65c388"/><rect x="343.20" y="72.80" width="9.65" height="2.07" fill="#a7c75d"/><rect x="352.80" y="72.80" width="9.65" height="2.07" fill="#40bd9e"/><rect x="362.40" y="72.80" width="9.65" height="2.07" fill="#95c769"/><rect x="372.00" y="72.80" width="9.65" height="2.07" fill="#85c673"/><rect x="381.60" y="72.80" width="9.65" height="2.07" fill="#42bd9d"/><rect x="391.20" y="72.80" width="9.65" height="2.07" fill="#cfc146"/><rect x="400.80" y="72.80" width="9.65" height="2.07" fill="#88c671"/><rect x="410.40" y="72.80" width="9.65" height="2.07" fill="#33b8a9"/><rect x="420.00" y="72.80" width="9.65" height="2.07" fill="#5cc18d"/><rect x="429.60" y="72.80" width="9.65" height="2.07" fill="#75c57e"/><rect x="439.20" y="72.80" width="9.65" height="2.07" fill="#64c389"/><rect x="448.80" y="72.80" width="9.65" height="2.07" fill="#5ac18e"/><rect x="458.40" y="72.80" width="9.65" height="2.07" fill="#b2c556"/><rect x="468.00" y="72.80" width="9.65" height="2.07" fill="#37baa5"/><rect x="477.60" y="72.80" width="9.65" height="2.07" fill="#9ac865"/><rect x="487.20" y="72.80" width="9.65" height="2.07" fill="#6ac485"/><rect x="496.80" y="72.80" width="9.65" height="2.07" fill="#5bc18e"/><rect x="506.40" y="72.80" width="9.65" height="2.07" fill="#36b9a6"/><rect x="314.40" y="74.82" width="9.65" height="2.07" fill="#48be99"/><rect x="324.00" y="74.82" width="9.65" height="2.07" fill="#51bf94"/><rect x="333.60" y="74.82" width="9.65" height="2.07" fill="#7ac57b"/><rect x="343.20" y="74.82" width="9.65" height="2.07" fill="#65c388"/><rect x="352.80" y="74.82" width="9.65" height="2.07" fill="#80c677"/><rect x="362.40" y="74.82" width="9.65" height="2.07" fill="#52c093"/><rect x="372.00" y="74.82" width="9.65" height="2.07" fill="#62c28a"/><rect x="381.60" y="74.82" width="9.65" height="2.07" fill="#94c769"/><rect x="391.20" y="74.82" width="9.65" height="2.07" fill="#87c672"/><rect x="400.80" y="74.82" width="9.65" height="2.07" fill="#69c386"/><rect x="410.40" y="74.82" width="9.65" height="2.07" fill="#3dbc9f"/><rect x="420.00" y="74.82" width="9.65" height="2.07" fill="#6bc485"/><rect x="429.60" y="74.82" width="9.65" height="2.07" fill="#5bc18e"/><rect x="439.20" y="74.82" width="9.65" height="2.07" fill="#6dc483"/><rect x="448.80" y="74.82" width="9.65" height="2.07" fill="#43bd9c"/><rect x="458.40" y="74.82" width="9.65" height="2.07" fill="#5dc18d"/><rect x="468.00" y="74.82" width="9.65" height="2.07" fill="#46be9a"/><rect x="477.60" y="74.82" width="9.65" height="2.07" fill="#8bc76f"/><rect x="487.20" y="74.82" width="9.65" height="2.07" fill="#36baa6"/><rect x="496.80" y="74.82" width="9.65" height="2.07" fill="#57c090"/><rect x="506.40" y="74.82" width="9.65" height="2.07" fill="#3abba2"/><rect x="314.40" y="76.84" width="9.65" height="2.07" fill="#c2c34c"/><rect x="324.00" y="76.84" width="9.65" height="2.07" fill="#62c28a"/><rect x="333.60" y="76.84" width="9.65" height="2.07" fill="#c0c34d"/><rect x="343.20" y="76.84" width="9.65" height="2.07" fill="#f0bb3b"/><rect x="352.80" y="76.84" width="9.65" height="2.07" fill="#83c675"/><rect x="362.40" y="76.84" width="9.65" height="2.07" fill="#78c57c"/><rect x="372.00" y="76.84" width="9.65" height="2.07" fill="#c2c34c"/><rect x="381.60" y="76.84" width="9.65" height="2.07" fill="#b4c555"/><rect x="391.20" y="76.84" width="9.65" height="2.07" fill="#a8c65c"/><rect x="400.80" y="76.84" width="9.65" height="2.07" fill="#c6c249"/><rect x="410.40" y="76.84" width="9.65" height="2.07" fill="#b1c557"/><rect x="420.00" y="76.84" width="9.65" height="2.07" fill="#77c57c"/><rect x="429.60" y="76.84" width="9.65" height="2.07" fill="#bfc34e"/><rect x="439.20" y="76.84" width="9.65" height="2.07" fill="#83c675"/><rect x="448.80" y="76.84" width="9.65" height="2.07" fill="#acc65a"/><rect x="458.40" y="76.84" width="9.65" height="2.07" fill="#b9c452"/><rect x="468.00" y="76.84" width="9.65" height="2.07" fill="#8ec76d"/><rect x="477.60" y="76.84" width="9.65" height="2.07" fill="#b3c556"/><rect x="487.20" y="76.84" width="9.65" height="2.07" fill="#41bd9d"/><rect x="496.80" y="76.84" width="9.65" height="2.07" fill="#66c388"/><rect x="506.40" y="76.84" width="9.65" height="2.07" fill="#95c769"/><rect x="314.40" y="78.86" width="9.65" height="2.07" fill="#eebb3c"/><rect x="324.00" y="78.86" width="9.65" height="2.07" fill="#c7c249"/><rect x="333.60" y="78.86" width="9.65" height="2.07" fill="#8ec76d"/><rect x="343.20" y="78.86" width="9.65" height="2.07" fill="#c7c249"/><rect x="352.80" y="78.86" width="9.65" height="2.07" fill="#cdc146"/><rect x="362.40" y="78.86" width="9.65" height="2.07" fill="#d6c043"/><rect x="372.00" y="78.86" width="9.65" height="2.07" fill="#ebbc3c"/><rect x="381.60" y="78.86" width="9.65" height="2.07" fill="#dabf42"/><rect x="391.20" y="78.86" width="9.65" height="2.07" fill="#d5c044"/><rect x="400.80" y="78.86" width="9.65" height="2.07" fill="#debe41"/><rect x="410.40" y="78.86" width="9.65" height="2.07" fill="#d9bf42"/><rect x="420.00" y="78.86" width="9.65" height="2.07" fill="#dfbe40"/><rect x="429.60" y="78.86" width="9.65" height="2.07" fill="#f1ba3b"/><rect x="439.20" y="78.86" width="9.65" height="2.07" fill="#dabf42"/><rect x="448.80" y="78.86" width="9.65" height="2.07" fill="#bcc450"/><rect x="458.40" y="78.86" width="9.65" height="2.07" fill="#c0c34d"/><rect x="468.00" y="78.86" width="9.65" height="2.07" fill="#b6c454"/><rect x="477.60" y="78.86" width="9.65" height="2.07" fill="#f3ba3b"/><rect x="487.20" y="78.86" width="9.65" height="2.07" fill="#94c769"/><rect x="496.80" y="78.86" width="9.65" height="2.07" fill="#8ac770"/><rect x="506.40" y="78.86" width="9.65" height="2.07" fill="#c4c34a"/><rect x="314.40" y="80.88" width="9.65" height="2.07" fill="#c7c249"/><rect x="324.00" y="80.88" width="9.65" height="2.07" fill="#c0c34d"/><rect x="333.60" y="80.88" width="9.65" height="2.07" fill="#2db6af"/><rect x="343.20" y="80.88" width="9.65" height="2.07" fill="#3cbca0"/><rect x="352.80" y="80.88" width="9.65" height="2.07" fill="#efbb3b"/><rect x="362.40" y="80.88" width="9.65" height="2.07" fill="#cfc146"/><rect x="372.00" y="80.88" width="9.65" height="2.07" fill="#93c76a"/><rect x="381.60" y="80.88" width="9.65" height="2.07" fill="#cec146"/><rect x="391.20" y="80.88" width="9.65" height="2.07" fill="#90c76c"/><rect x="400.80" y="80.88" width="9.65" height="2.07" fill="#ecbc3c"/><rect x="410.40" y="80.88" width="9.65" height="2.07" fill="#e1be40"/><rect x="420.00" y="80.88" width="9.65" height="2.07" fill="#76c57d"/><rect x="429.60" y="80.88" width="9.65" height="2.07" fill="#eebb3c"/><rect x="439.20" y="80.88" width="9.65" height="2.07" fill="#c3c34b"/><rect x="448.80" y="80.88" width="9.65" height="2.07" fill="#d6c043"/><rect x="458.40" y="80.88" width="9.65" height="2.07" fill="#c9c248"/><rect x="468.00" y="80.88" width="9.65" height="2.07" fill="#a8c65c"/><rect x="477.60" y="80.88" width="9.65" height="2.07" fill="#b5c554"/><rect x="487.20" y="80.88" width="9.65" height="2.07" fill="#edbc3c"/><rect x="496.80" y="80.88" width="9.65" height="2.07" fill="#aac65b"/><rect x="506.40" y="80.88" width="9.65" height="2.07" fill="#e0be40"/><rect x="314.40" y="82.89" width="9.65" height="2.07" fill="#94c769"/><rect x="324.00" y="82.89" width="9.65" height="2.07" fill="#acc65a"/><rect x="333.60" y="82.89" width="9.65" height="2.07" fill="#a9c65c"/><rect x="343.20" y="82.89" width="9.65" height="2.07" fill="#bfc34e"/><rect x="352.80" y="82.89" width="9.65" height="2.07" fill="#a2c760"/><rect x="362.40" y="82.89" width="9.65" height="2.07" fill="#5ec28c"/><rect x="372.00" y="82.89" width="9.65" height="2.07" fill="#90c76c"/><rect x="381.60" y="82.89" width="9.65" height="2.07" fill="#8cc76f"/><rect x="391.20" y="82.89" width="9.65" height="2.07" fill="#c8c248"/><rect x="400.80" y="82.89" width="9.65" height="2.07" fill="#60c28b"/><rect x="410.40" y="82.89" width="9.65" height="2.07" fill="#bdc44f"/><rect x="420.00" y="82.89" width="9.65" height="2.07" fill="#9cc864"/><rect x="429.60" y="82.89" width="9.65" height="2.07" fill="#8fc76d"/><rect x="439.20" y="82.89" width="9.65" height="2.07" fill="#b6c453"/><rect x="448.80" y="82.89" width="9.65" height="2.07" fill="#98c866"/><rect x="458.40" y="82.89" width="9.65" height="2.07" fill="#afc558"/><rect x="468.00" y="82.89" width="9.65" height="2.07" fill="#9fc862"/><rect x="477.60" y="82.89" width="9.65" height="2.07" fill="#94c769"/><rect x="487.20" y="82.89" width="9.65" height="2.07" fill="#91c76b"/><rect x="496.80" y="82.89" width="9.65" height="2.07" fill="#b7c453"/><rect x="506.40" y="82.89" width="9.65" height="2.07" fill="#81c676"/><rect x="314.40" y="84.91" width="9.65" height="2.07" fill="#f1ba3b"/><rect x="324.00" y="84.91" width="9.65" height="2.07" fill="#d3c044"/><rect x="333.60" y="84.91" width="9.65" height="2.07" fill="#cbc147"/><rect x="343.20" y="84.91" width="9.65" height="2.07" fill="#d9bf42"/><rect x="352.80" y="84.91" width="9.65" height="2.07" fill="#debe41"/><rect x="362.40" y="84.91" width="9.65" height="2.07" fill="#eabc3d"/><rect x="372.00" y="84.91" width="9.65" height="2.07" fill="#d9bf42"/><rect x="381.60" y="84.91" width="9.65" height="2.07" fill="#d9bf42"/><rect x="391.20" y="84.91" width="9.65" height="2.07" fill="#94c76a"/><rect x="400.80" y="84.91" width="9.65" height="2.07" fill="#cfc146"/><rect x="410.40" y="84.91" width="9.65" height="2.07" fill="#e0be40"/><rect x="420.00" y="84.91" width="9.65" height="2.07" fill="#f7b83a"/><rect x="429.60" y="84.91" width="9.65" height="2.07" fill="#c5c24a"/><rect x="439.20" y="84.91" width="9.65" height="2.07" fill="#debe41"/><rect x="448.80" y="84.91" width="9.65" height="2.07" fill="#f8c835"/><rect x="458.40" y="84.91" width="9.65" height="2.07" fill="#d9bf42"/><rect x="468.00" y="84.91" width="9.65" height="2.07" fill="#f2ba3b"/><rect x="477.60" y="84.91" width="9.65" height="2.07" fill="#e1be40"/><rect x="487.20" y="84.91" width="9.65" height="2.07" fill="#f4b93b"/><rect x="496.80" y="84.91" width="9.65" height="2.07" fill="#f6b93a"/><rect x="506.40" y="84.91" width="9.65" height="2.07" fill="#8ec76e"/><rect x="314.40" y="86.93" width="9.65" height="2.07" fill="#f7da2e"/><rect x="324.00" y="86.93" width="9.65" height="2.07" fill="#b9c451"/><rect x="333.60" y="86.93" width="9.65" height="2.07" fill="#f0bb3b"/><rect x="343.20" y="86.93" width="9.65" height="2.07" fill="#e4bd3f"/><rect x="352.80" y="86.93" width="9.65" height="2.07" fill="#f1ba3b"/><rect x="362.40" y="86.93" width="9.65" height="2.07" fill="#d9bf42"/><rect x="372.00" y="86.93" width="9.65" height="2.07" fill="#debe41"/><rect x="381.60" y="86.93" width="9.65" height="2.07" fill="#e9bc3d"/><rect x="391.20" y="86.93" width="9.65" height="2.07" fill="#c8c248"/><rect x="400.80" y="86.93" width="9.65" height="2.07" fill="#e4bd3f"/><rect x="410.40" y="86.93" width="9.65" height="2.07" fill="#f7b83a"/><rect x="420.00" y="86.93" width="9.65" height="2.07" fill="#f2ba3b"/><rect x="429.60" y="86.93" width="9.65" height="2.07" fill="#dbbf42"/><rect x="439.20" y="86.93" width="9.65" height="2.07" fill="#edbc3c"/><rect x="448.80" y="86.93" width="9.65" height="2.07" fill="#efbb3c"/><rect x="458.40" y="86.93" width="9.65" height="2.07" fill="#a2c760"/><rect x="468.00" y="86.93" width="9.65" height="2.07" fill="#dabf42"/><rect x="477.60" y="86.93" width="9.65" height="2.07" fill="#d3c044"/><rect x="487.20" y="86.93" width="9.65" height="2.07" fill="#f5b93a"/><rect x="496.80" y="86.93" width="9.65" height="2.07" fill="#edbc3c"/><rect x="506.40" y="86.93" width="9.65" height="2.07" fill="#f8cc34"/><rect x="314.40" y="88.95" width="9.65" height="2.07" fill="#f7da2e"/><rect x="324.00" y="88.95" width="9.65" height="2.07" fill="#acc65a"/><rect x="333.60" y="88.95" width="9.65" height="2.07" fill="#f3ba3b"/><rect x="343.20" y="88.95" width="9.65" height="2.07" fill="#c7c249"/><rect x="352.80" y="88.95" width="9.65" height="2.07" fill="#aac65b"/><rect x="362.40" y="88.95" width="9.65" height="2.07" fill="#9bc865"/><rect x="372.00" y="88.95" width="9.65" height="2.07" fill="#a5c75e"/><rect x="381.60" y="88.95" width="9.65" height="2.07" fill="#98c866"/><rect x="391.20" y="88.95" width="9.65" height="2.07" fill="#d2c045"/><rect x="400.80" y="88.95" width="9.65" height="2.07" fill="#d8bf43"/><rect x="410.40" y="88.95" width="9.65" height="2.07" fill="#4549e3"/><rect x="420.00" y="88.95" width="9.65" height="2.07" fill="#a5c75e"/><rect x="429.60" y="88.95" width="9.65" height="2.07" fill="#96c868"/><rect x="439.20" y="88.95" width="9.65" height="2.07" fill="#c9c248"/><rect x="448.80" y="88.95" width="9.65" height="2.07" fill="#94c769"/><rect x="458.40" y="88.95" width="9.65" height="2.07" fill="#97c867"/><rect x="468.00" y="88.95" width="9.65" height="2.07" fill="#ccc147"/><rect x="477.60" y="88.95" width="9.65" height="2.07" fill="#edbc3c"/><rect x="487.20" y="88.95" width="9.65" height="2.07" fill="#cbc247"/><rect x="496.80" y="88.95" width="9.65" height="2.07" fill="#97c867"/><rect x="506.40" y="88.95" width="9.65" height="2.07" fill="#f8cc34"/><rect x="314.40" y="90.97" width="9.65" height="2.07" fill="#f7da2e"/><rect x="324.00" y="90.97" width="9.65" height="2.07" fill="#c6c24a"/><rect x="333.60" y="90.97" width="9.65" height="2.07" fill="#c4c34a"/><rect x="343.20" y="90.97" width="9.65" height="2.07" fill="#eebb3c"/><rect x="352.80" y="90.97" width="9.65" height="2.07" fill="#ecbc3c"/><rect x="362.40" y="90.97" width="9.65" height="2.07" fill="#dbbf42"/><rect x="372.00" y="90.97" width="9.65" height="2.07" fill="#dbbf42"/><rect x="381.60" y="90.97" width="9.65" height="2.07" fill="#cec146"/><rect x="391.20" y="90.97" width="9.65" height="2.07" fill="#d8bf43"/><rect x="400.80" y="90.97" width="9.65" height="2.07" fill="#f3ba3b"/><rect x="410.40" y="90.97" width="9.65" height="2.07" fill="#ccc147"/><rect x="420.00" y="90.97" width="9.65" height="2.07" fill="#b9c452"/><rect x="429.60" y="90.97" width="9.65" height="2.07" fill="#f7b83a"/><rect x="439.20" y="90.97" width="9.65" height="2.07" fill="#ebbc3c"/><rect x="448.80" y="90.97" width="9.65" height="2.07" fill="#efbb3b"/><rect x="458.40" y="90.97" width="9.65" height="2.07" fill="#dfbe40"/><rect x="468.00" y="90.97" width="9.65" height="2.07" fill="#d6c043"/><rect x="477.60" y="90.97" width="9.65" height="2.07" fill="#eabc3d"/><rect x="487.20" y="90.97" width="9.65" height="2.07" fill="#dbbf42"/><rect x="496.80" y="90.97" width="9.65" height="2.07" fill="#c9c248"/><rect x="506.40" y="90.97" width="9.65" height="2.07" fill="#f8cc34"/><rect x="314.40" y="92.99" width="9.65" height="2.07" fill="#93c76a"/><rect x="324.00" y="92.99" width="9.65" height="2.07" fill="#92c76a"/><rect x="333.60" y="92.99" width="9.65" height="2.07" fill="#7ec578"/><rect x="343.20" y="92.99" width="9.65" height="2.07" fill="#39bba3"/><rect x="352.80" y="92.99" width="9.65" height="2.07" fill="#a1c761"/><rect x="362.40" y="92.99" width="9.65" height="2.07" fill="#abc65a"/><rect x="372.00" y="92.99" width="9.65" height="2.07" fill="#8bc76f"/><rect x="381.60" y="92.99" width="9.65" height="2.07" fill="#7fc677"/><rect x="391.20" y="92.99" width="9.65" height="2.07" fill="#27b3b6"/><rect x="400.80" y="92.99" width="9.65" height="2.07" fill="#97c867"/><rect x="410.40" y="92.99" width="9.65" height="2.07" fill="#93c76a"/><rect x="420.00" y="92.99" width="9.65" height="2.07" fill="#83c674"/><rect x="429.60" y="92.99" width="9.65" height="2.07" fill="#a5c75e"/><rect x="439.20" y="92.99" width="9.65" height="2.07" fill="#99c866"/><rect x="448.80" y="92.99" width="9.65" height="2.07" fill="#8fc76d"/><rect x="458.40" y="92.99" width="9.65" height="2.07" fill="#9cc864"/><rect x="468.00" y="92.99" width="9.65" height="2.07" fill="#77c57d"/><rect x="477.60" y="92.99" width="9.65" height="2.07" fill="#d3c044"/><rect x="487.20" y="92.99" width="9.65" height="2.07" fill="#bbc450"/><rect x="496.80" y="92.99" width="9.65" height="2.07" fill="#9ec863"/><rect x="506.40" y="92.99" width="9.65" height="2.07" fill="#35b9a7"/><rect x="314.40" y="95.01" width="9.65" height="2.07" fill="#7bc57a"/><rect x="324.00" y="95.01" width="9.65" height="2.07" fill="#cdc146"/><rect x="333.60" y="95.01" width="9.65" height="2.07" fill="#9ac866"/><rect x="343.20" y="95.01" width="9.65" height="2.07" fill="#bcc44f"/><rect x="352.80" y="95.01" width="9.65" height="2.07" fill="#92c76b"/><rect x="362.40" y="95.01" width="9.65" height="2.07" fill="#cbc147"/><rect x="372.00" y="95.01" width="9.65" height="2.07" fill="#8ac670"/><rect x="381.60" y="95.01" width="9.65" height="2.07" fill="#65c388"/><rect x="391.20" y="95.01" width="9.65" height="2.07" fill="#a1c761"/><rect x="400.80" y="95.01" width="9.65" height="2.07" fill="#83c675"/><rect x="410.40" y="95.01" width="9.65" height="2.07" fill="#96c768"/><rect x="420.00" y="95.01" width="9.65" height="2.07" fill="#9dc863"/><rect x="429.60" y="95.01" width="9.65" height="2.07" fill="#96c868"/><rect x="439.20" y="95.01" width="9.65" height="2.07" fill="#83c675"/><rect x="448.80" y="95.01" width="9.65" height="2.07" fill="#8cc76f"/><rect x="458.40" y="95.01" width="9.65" height="2.07" fill="#b2c556"/><rect x="468.00" y="95.01" width="9.65" height="2.07" fill="#86c673"/><rect x="477.60" y="95.01" width="9.65" height="2.07" fill="#72c480"/><rect x="487.20" y="95.01" width="9.65" height="2.07" fill="#a2c760"/><rect x="496.80" y="95.01" width="9.65" height="2.07" fill="#5dc28d"/><rect x="506.40" y="95.01" width="9.65" height="2.07" fill="#79c57b"/><rect x="314.40" y="97.02" width="9.65" height="2.07" fill="#bfc34d"/><rect x="324.00" y="97.02" width="9.65" height="2.07" fill="#79c57c"/><rect x="333.60" y="97.02" width="9.65" height="2.07" fill="#a6c75e"/><rect x="343.20" y="97.02" width="9.65" height="2.07" fill="#c6c249"/><rect x="352.80" y="97.02" width="9.65" height="2.07" fill="#bfc34e"/><rect x="362.40" y="97.02" width="9.65" height="2.07" fill="#abc65a"/><rect x="372.00" y="97.02" width="9.65" height="2.07" fill="#bbc450"/><rect x="381.60" y="97.02" width="9.65" height="2.07" fill="#87c672"/><rect x="391.20" y="97.02" width="9.65" height="2.07" fill="#92c76b"/><rect x="400.80" y="97.02" width="9.65" height="2.07" fill="#b2c556"/><rect x="410.40" y="97.02" width="9.65" height="2.07" fill="#8ec76d"/><rect x="420.00" y="97.02" width="9.65" height="2.07" fill="#bbc450"/><rect x="429.60" y="97.02" width="9.65" height="2.07" fill="#a1c761"/><rect x="439.20" y="97.02" width="9.65" height="2.07" fill="#a1c761"/><rect x="448.80" y="97.02" width="9.65" height="2.07" fill="#cdc146"/><rect x="458.40" y="97.02" width="9.65" height="2.07" fill="#d0c145"/><rect x="468.00" y="97.02" width="9.65" height="2.07" fill="#b7c453"/><rect x="477.60" y="97.02" width="9.65" height="2.07" fill="#80c677"/><rect x="487.20" y="97.02" width="9.65" height="2.07" fill="#b3c555"/><rect x="496.80" y="97.02" width="9.65" height="2.07" fill="#bcc44f"/><rect x="506.40" y="97.02" width="9.65" height="2.07" fill="#94c76a"/><rect x="314.40" y="99.04" width="9.65" height="2.07" fill="#aac65b"/><rect x="324.00" y="99.04" width="9.65" height="2.07" fill="#bac451"/><rect x="333.60" y="99.04" width="9.65" height="2.07" fill="#b0c557"/><rect x="343.20" y="99.04" width="9.65" height="2.07" fill="#a0c862"/><rect x="352.80" y="99.04" width="9.65" height="2.07" fill="#afc558"/><rect x="362.40" y="99.04" width="9.65" height="2.07" fill="#bbc451"/><rect x="372.00" y="99.04" width="9.65" height="2.07" fill="#85c674"/><rect x="381.60" y="99.04" width="9.65" height="2.07" fill="#bac451"/><rect x="391.20" y="99.04" width="9.65" height="2.07" fill="#c7c248"/><rect x="400.80" y="99.04" width="9.65" height="2.07" fill="#d4c044"/><rect x="410.40" y="99.04" width="9.65" height="2.07" fill="#d3c044"/><rect x="420.00" y="99.04" width="9.65" height="2.07" fill="#d7c043"/><rect x="429.60" y="99.04" width="9.65" height="2.07" fill="#a4c75f"/><rect x="439.20" y="99.04" width="9.65" height="2.07" fill="#b2c556"/><rect x="448.80" y="99.04" width="9.65" height="2.07" fill="#a1c761"/><rect x="458.40" y="99.04" width="9.65" height="2.07" fill="#6ac485"/><rect x="468.00" y="99.04" width="9.65" height="2.07" fill="#cac247"/><rect x="477.60" y="99.04" width="9.65" height="2.07" fill="#b6c554"/><rect x="487.20" y="99.04" width="9.65" height="2.07" fill="#cbc147"/><rect x="496.80" y="99.04" width="9.65" height="2.07" fill="#a1c761"/><rect x="506.40" y="99.04" width="9.65" height="2.07" fill="#b8c452"/><rect x="314.40" y="101.06" width="9.65" height="2.07" fill="#71c481"/><rect x="324.00" y="101.06" width="9.65" height="2.07" fill="#98c867"/><rect x="333.60" y="101.06" width="9.65" height="2.07" fill="#4ebf95"/><rect x="343.20" y="101.06" width="9.65" height="2.07" fill="#71c481"/><rect x="352.80" y="101.06" width="9.65" height="2.07" fill="#55c091"/><rect x="362.40" y="101.06" width="9.65" height="2.07" fill="#78c57c"/><rect x="372.00" y="101.06" width="9.65" height="2.07" fill="#60c28b"/><rect x="381.60" y="101.06" width="9.65" height="2.07" fill="#57c190"/><rect x="391.20" y="101.06" width="9.65" height="2.07" fill="#9bc865"/><rect x="400.80" y="101.06" width="9.65" height="2.07" fill="#58c190"/><rect x="410.40" y="101.06" width="9.65" height="2.07" fill="#96c768"/><rect x="420.00" y="101.06" width="9.65" height="2.07" fill="#5ec28c"/><rect x="429.60" y="101.06" width="9.65" height="2.07" fill="#6ac485"/><rect x="439.20" y="101.06" width="9.65" height="2.07" fill="#a8c65d"/><rect x="448.80" y="101.06" width="9.65" height="2.07" fill="#a0c862"/><rect x="458.40" y="101.06" width="9.65" height="2.07" fill="#7fc677"/><rect x="468.00" y="101.06" width="9.65" height="2.07" fill="#6cc484"/><rect x="477.60" y="101.06" width="9.65" height="2.07" fill="#8dc76e"/><rect x="487.20" y="101.06" width="9.65" height="2.07" fill="#72c580"/><rect x="496.80" y="101.06" width="9.65" height="2.07" fill="#36baa6"/><rect x="506.40" y="101.06" width="9.65" height="2.07" fill="#6bc485"/><rect x="314.40" y="103.08" width="9.65" height="2.07" fill="#a1c761"/><rect x="324.00" y="103.08" width="9.65" height="2.07" fill="#b1c557"/><rect x="333.60" y="103.08" width="9.65" height="2.07" fill="#78c57c"/><rect x="343.20" y="103.08" width="9.65" height="2.07" fill="#b9c452"/><rect x="352.80" y="103.08" width="9.65" height="2.07" fill="#cfc146"/><rect x="362.40" y="103.08" width="9.65" height="2.07" fill="#bac451"/><rect x="372.00" y="103.08" width="9.65" height="2.07" fill="#dabf42"/><rect x="381.60" y="103.08" width="9.65" height="2.07" fill="#ccc147"/><rect x="391.20" y="103.08" width="9.65" height="2.07" fill="#bbc450"/><rect x="400.80" y="103.08" width="9.65" height="2.07" fill="#94c76a"/><rect x="410.40" y="103.08" width="9.65" height="2.07" fill="#9fc862"/><rect x="420.00" y="103.08" width="9.65" height="2.07" fill="#8cc76f"/><rect x="429.60" y="103.08" width="9.65" height="2.07" fill="#52c093"/><rect x="439.20" y="103.08" width="9.65" height="2.07" fill="#e2be3f"/><rect x="448.80" y="103.08" width="9.65" height="2.07" fill="#40bd9e"/><rect x="458.40" y="103.08" width="9.65" height="2.07" fill="#72c580"/><rect x="468.00" y="103.08" width="9.65" height="2.07" fill="#aac65b"/><rect x="477.60" y="103.08" width="9.65" height="2.07" fill="#63c289"/><rect x="487.20" y="103.08" width="9.65" height="2.07" fill="#6bc485"/><rect x="496.80" y="103.08" width="9.65" height="2.07" fill="#b0c557"/><rect x="506.40" y="103.08" width="9.65" height="2.07" fill="#a4c75f"/><rect x="314.40" y="105.10" width="9.65" height="2.07" fill="#2fb7ad"/><rect x="324.00" y="105.10" width="9.65" height="2.07" fill="#7ac57b"/><rect x="333.60" y="105.10" width="9.65" height="2.07" fill="#38baa4"/><rect x="343.20" y="105.10" width="9.65" height="2.07" fill="#22a9c9"/><rect x="352.80" y="105.10" width="9.65" height="2.07" fill="#31b8ab"/><rect x="362.40" y="105.10" width="9.65" height="2.07" fill="#7ac57b"/><rect x="372.00" y="105.10" width="9.65" height="2.07" fill="#27b3b6"/><rect x="381.60" y="105.10" width="9.65" height="2.07" fill="#29b4b3"/><rect x="391.20" y="105.10" width="9.65" height="2.07" fill="#7cc579"/><rect x="400.80" y="105.10" width="9.65" height="2.07" fill="#5bc18e"/><rect x="410.40" y="105.10" width="9.65" height="2.07" fill="#91c76b"/><rect x="420.00" y="105.10" width="9.65" height="2.07" fill="#4ebf96"/><rect x="429.60" y="105.10" width="9.65" height="2.07" fill="#3ebc9f"/><rect x="439.20" y="105.10" width="9.65" height="2.07" fill="#67c387"/><rect x="448.80" y="105.10" width="9.65" height="2.07" fill="#71c481"/><rect x="458.40" y="105.10" width="9.65" height="2.07" fill="#65c388"/><rect x="468.00" y="105.10" width="9.65" height="2.07" fill="#41bd9d"/><rect x="477.60" y="105.10" width="9.65" height="2.07" fill="#5cc18d"/><rect x="487.20" y="105.10" width="9.65" height="2.07" fill="#8dc76e"/><rect x="496.80" y="105.10" width="9.65" height="2.07" fill="#68c386"/><rect x="506.40" y="105.10" width="9.65" height="2.07" fill="#77c57d"/><rect x="314.40" y="107.12" width="9.65" height="2.07" fill="#28b3b6"/><rect x="324.00" y="107.12" width="9.65" height="2.07" fill="#36b9a6"/><rect x="333.60" y="107.12" width="9.65" height="2.07" fill="#3abba2"/><rect x="343.20" y="107.12" width="9.65" height="2.07" fill="#41bd9d"/><rect x="352.80" y="107.12" width="9.65" height="2.07" fill="#5cc18d"/><rect x="362.40" y="107.12" width="9.65" height="2.07" fill="#28b4b4"/><rect x="372.00" y="107.12" width="9.65" height="2.07" fill="#75c57e"/><rect x="381.60" y="107.12" width="9.65" height="2.07" fill="#61c28a"/><rect x="391.20" y="107.12" width="9.65" height="2.07" fill="#66c387"/><rect x="400.80" y="107.12" width="9.65" height="2.07" fill="#42bd9c"/><rect x="410.40" y="107.12" width="9.65" height="2.07" fill="#2eb6ae"/><rect x="420.00" y="107.12" width="9.65" height="2.07" fill="#3abba2"/><rect x="429.60" y="107.12" width="9.65" height="2.07" fill="#23a7cb"/><rect x="439.20" y="107.12" width="9.65" height="2.07" fill="#2db6af"/><rect x="448.80" y="107.12" width="9.65" height="2.07" fill="#3bbca1"/><rect x="458.40" y="107.12" width="9.65" height="2.07" fill="#48be99"/><rect x="468.00" y="107.12" width="9.65" height="2.07" fill="#4cbf97"/><rect x="477.60" y="107.12" width="9.65" height="2.07" fill="#56c091"/><rect x="487.20" y="107.12" width="9.65" height="2.07" fill="#36b9a6"/><rect x="496.80" y="107.12" width="9.65" height="2.07" fill="#34b9a8"/><rect x="506.40" y="107.12" width="9.65" height="2.07" fill="#24adc2"/><rect x="314.40" y="109.14" width="9.65" height="2.07" fill="#23a7cc"/><rect x="324.00" y="109.14" width="9.65" height="2.07" fill="#39bba3"/><rect x="333.60" y="109.14" width="9.65" height="2.07" fill="#27b3b7"/><rect x="343.20" y="109.14" width="9.65" height="2.07" fill="#27b3b7"/><rect x="352.80" y="109.14" width="9.65" height="2.07" fill="#5fc28b"/><rect x="362.40" y="109.14" width="9.65" height="2.07" fill="#28b4b5"/><rect x="372.00" y="109.14" width="9.65" height="2.07" fill="#2eb6ae"/><rect x="381.60" y="109.14" width="9.65" height="2.07" fill="#36baa6"/><rect x="391.20" y="109.14" width="9.65" height="2.07" fill="#36baa6"/><rect x="400.80" y="109.14" width="9.65" height="2.07" fill="#2bb5b1"/><rect x="410.40" y="109.14" width="9.65" height="2.07" fill="#23acc3"/><rect x="420.00" y="109.14" width="9.65" height="2.07" fill="#2bb5b1"/><rect x="429.60" y="109.14" width="9.65" height="2.07" fill="#30b7ac"/><rect x="439.20" y="109.14" width="9.65" height="2.07" fill="#39bba3"/><rect x="448.80" y="109.14" width="9.65" height="2.07" fill="#26b1ba"/><rect x="458.40" y="109.14" width="9.65" height="2.07" fill="#25b0bd"/><rect x="468.00" y="109.14" width="9.65" height="2.07" fill="#27b3b7"/><rect x="477.60" y="109.14" width="9.65" height="2.07" fill="#23acc4"/><rect x="487.20" y="109.14" width="9.65" height="2.07" fill="#2fb7ad"/><rect x="496.80" y="109.14" width="9.65" height="2.07" fill="#36baa6"/><rect x="506.40" y="109.14" width="9.65" height="2.07" fill="#2fb7ad"/><rect x="314.40" y="111.16" width="9.65" height="2.07" fill="#25afbf"/><rect x="324.00" y="111.16" width="9.65" height="2.07" fill="#30b7ac"/><rect x="333.60" y="111.16" width="9.65" height="2.07" fill="#33b8a9"/><rect x="343.20" y="111.16" width="9.65" height="2.07" fill="#35b9a7"/><rect x="352.80" y="111.16" width="9.65" height="2.07" fill="#2db6af"/><rect x="362.40" y="111.16" width="9.65" height="2.07" fill="#26b1ba"/><rect x="372.00" y="111.16" width="9.65" height="2.07" fill="#289dd7"/><rect x="381.60" y="111.16" width="9.65" height="2.07" fill="#2ab5b2"/><rect x="391.20" y="111.16" width="9.65" height="2.07" fill="#2fb7ad"/><rect x="400.80" y="111.16" width="9.65" height="2.07" fill="#26b0bb"/><rect x="410.40" y="111.16" width="9.65" height="2.07" fill="#37baa5"/><rect x="420.00" y="111.16" width="9.65" height="2.07" fill="#24adc3"/><rect x="429.60" y="111.16" width="9.65" height="2.07" fill="#4bbe97"/><rect x="439.20" y="111.16" width="9.65" height="2.07" fill="#25aec0"/><rect x="448.80" y="111.16" width="9.65" height="2.07" fill="#28b4b4"/><rect x="458.40" y="111.16" width="9.65" height="2.07" fill="#2fb7ad"/><rect x="468.00" y="111.16" width="9.65" height="2.07" fill="#63c289"/><rect x="477.60" y="111.16" width="9.65" height="2.07" fill="#34b9a8"/><rect x="487.20" y="111.16" width="9.65" height="2.07" fill="#3abba2"/><rect x="496.80" y="111.16" width="9.65" height="2.07" fill="#36baa6"/><rect x="506.40" y="111.16" width="9.65" height="2.07" fill="#44bd9c"/><rect x="314.40" y="113.17" width="9.65" height="2.07" fill="#61c28a"/><rect x="324.00" y="113.17" width="9.65" height="2.07" fill="#47be99"/><rect x="333.60" y="113.17" width="9.65" height="2.07" fill="#3bbca1"/><rect x="343.20" y="113.17" width="9.65" height="2.07" fill="#24a6cc"/><rect x="352.80" y="113.17" width="9.65" height="2.07" fill="#30b7ac"/><rect x="362.40" y="113.17" width="9.65" height="2.07" fill="#45bd9b"/><rect x="372.00" y="113.17" width="9.65" height="2.07" fill="#2fb7ad"/><rect x="381.60" y="113.17" width="9.65" height="2.07" fill="#27b2b7"/><rect x="391.20" y="113.17" width="9.65" height="2.07" fill="#27b2b8"/><rect x="400.80" y="113.17" width="9.65" height="2.07" fill="#24aec1"/><rect x="410.40" y="113.17" width="9.65" height="2.07" fill="#31b8ab"/><rect x="420.00" y="113.17" width="9.65" height="2.07" fill="#2ab5b2"/><rect x="429.60" y="113.17" width="9.65" height="2.07" fill="#31b8ab"/><rect x="439.20" y="113.17" width="9.65" height="2.07" fill="#3bbca1"/><rect x="448.80" y="113.17" width="9.65" height="2.07" fill="#24adc3"/><rect x="458.40" y="113.17" width="9.65" height="2.07" fill="#26b0bc"/><rect x="468.00" y="113.17" width="9.65" height="2.07" fill="#2fb7ad"/><rect x="477.60" y="113.17" width="9.65" height="2.07" fill="#25b0bd"/><rect x="487.20" y="113.17" width="9.65" height="2.07" fill="#30b7ac"/><rect x="496.80" y="113.17" width="9.65" height="2.07" fill="#26b1ba"/><rect x="506.40" y="113.17" width="9.65" height="2.07" fill="#2fb7ad"/><rect x="314.40" y="115.19" width="9.65" height="2.07" fill="#24a6cd"/><rect x="324.00" y="115.19" width="9.65" height="2.07" fill="#37baa5"/><rect x="333.60" y="115.19" width="9.65" height="2.07" fill="#24adc2"/><rect x="343.20" y="115.19" width="9.65" height="2.07" fill="#2eb6ae"/><rect x="352.80" y="115.19" width="9.65" height="2.07" fill="#24a5ce"/><rect x="362.40" y="115.19" width="9.65" height="2.07" fill="#26b1bb"/><rect x="372.00" y="115.19" width="9.65" height="2.07" fill="#22aac8"/><rect x="381.60" y="115.19" width="9.65" height="2.07" fill="#23acc4"/><rect x="391.20" y="115.19" width="9.65" height="2.07" fill="#27b2b8"/><rect x="400.80" y="115.19" width="9.65" height="2.07" fill="#47be9a"/><rect x="410.40" y="115.19" width="9.65" height="2.07" fill="#22aac8"/><rect x="420.00" y="115.19" width="9.65" height="2.07" fill="#26b1ba"/><rect x="429.60" y="115.19" width="9.65" height="2.07" fill="#25b0bd"/><rect x="439.20" y="115.19" width="9.65" height="2.07" fill="#26b1ba"/><rect x="448.80" y="115.19" width="9.65" height="2.07" fill="#2db6af"/><rect x="458.40" y="115.19" width="9.65" height="2.07" fill="#38bba4"/><rect x="468.00" y="115.19" width="9.65" height="2.07" fill="#27b2b9"/><rect x="477.60" y="115.19" width="9.65" height="2.07" fill="#44bd9c"/><rect x="487.20" y="115.19" width="9.65" height="2.07" fill="#2fb7ad"/><rect x="496.80" y="115.19" width="9.65" height="2.07" fill="#32b8aa"/><rect x="506.40" y="115.19" width="9.65" height="2.07" fill="#23acc4"/><rect x="314.40" y="117.21" width="9.65" height="2.07" fill="#23a7cb"/><rect x="324.00" y="117.21" width="9.65" height="2.07" fill="#23acc4"/><rect x="333.60" y="117.21" width="9.65" height="2.07" fill="#23a8cb"/><rect x="343.20" y="117.21" width="9.65" height="2.07" fill="#289bd9"/><rect x="352.80" y="117.21" width="9.65" height="2.07" fill="#2a96dc"/><rect x="362.40" y="117.21" width="9.65" height="2.07" fill="#25a3d0"/><rect x="372.00" y="117.21" width="9.65" height="2.07" fill="#24adc2"/><rect x="381.60" y="117.21" width="9.65" height="2.07" fill="#289cd8"/><rect x="391.20" y="117.21" width="9.65" height="2.07" fill="#2c8de3"/><rect x="400.80" y="117.21" width="9.65" height="2.07" fill="#24adc2"/><rect x="410.40" y="117.21" width="9.65" height="2.07" fill="#26a1d2"/><rect x="420.00" y="117.21" width="9.65" height="2.07" fill="#28b4b5"/><rect x="429.60" y="117.21" width="9.65" height="2.07" fill="#26a2d1"/><rect x="439.20" y="117.21" width="9.65" height="2.07" fill="#2f84e8"/><rect x="448.80" y="117.21" width="9.65" height="2.07" fill="#24a5ce"/><rect x="458.40" y="117.21" width="9.65" height="2.07" fill="#299ada"/><rect x="468.00" y="117.21" width="9.65" height="2.07" fill="#25a4cf"/><rect x="477.60" y="117.21" width="9.65" height="2.07" fill="#22abc6"/><rect x="487.20" y="117.21" width="9.65" height="2.07" fill="#26b1bb"/><rect x="496.80" y="117.21" width="9.65" height="2.07" fill="#22aac8"/><rect x="506.40" y="117.21" width="9.65" height="2.07" fill="#23a8ca"/><rect x="314.40" y="119.23" width="9.65" height="2.07" fill="#23acc3"/><rect x="324.00" y="119.23" width="9.65" height="2.07" fill="#23abc5"/><rect x="333.60" y="119.23" width="9.65" height="2.07" fill="#27b2b7"/><rect x="343.20" y="119.23" width="9.65" height="2.07" fill="#2ab5b2"/><rect x="352.80" y="119.23" width="9.65" height="2.07" fill="#29b5b3"/><rect x="362.40" y="119.23" width="9.65" height="2.07" fill="#25a3cf"/><rect x="372.00" y="119.23" width="9.65" height="2.07" fill="#23acc4"/><rect x="381.60" y="119.23" width="9.65" height="2.07" fill="#25afbd"/><rect x="391.20" y="119.23" width="9.65" height="2.07" fill="#31b7ab"/><rect x="400.80" y="119.23" width="9.65" height="2.07" fill="#28b4b4"/><rect x="410.40" y="119.23" width="9.65" height="2.07" fill="#35b9a7"/><rect x="420.00" y="119.23" width="9.65" height="2.07" fill="#22aac8"/><rect x="429.60" y="119.23" width="9.65" height="2.07" fill="#24aec0"/><rect x="439.20" y="119.23" width="9.65" height="2.07" fill="#22abc7"/><rect x="448.80" y="119.23" width="9.65" height="2.07" fill="#35b9a7"/><rect x="458.40" y="119.23" width="9.65" height="2.07" fill="#23a7cb"/><rect x="468.00" y="119.23" width="9.65" height="2.07" fill="#27b2b9"/><rect x="477.60" y="119.23" width="9.65" height="2.07" fill="#3bbca1"/><rect x="487.20" y="119.23" width="9.65" height="2.07" fill="#23abc5"/><rect x="496.80" y="119.23" width="9.65" height="2.07" fill="#25aec0"/><rect x="506.40" y="119.23" width="9.65" height="2.07" fill="#34b9a8"/><rect x="314.40" y="121.25" width="9.65" height="2.07" fill="#24a5ce"/><rect x="324.00" y="121.25" width="9.65" height="2.07" fill="#2b90e0"/><rect x="333.60" y="121.25" width="9.65" height="2.07" fill="#23a8ca"/><rect x="343.20" y="121.25" width="9.65" height="2.07" fill="#24adc1"/><rect x="352.80" y="121.25" width="9.65" height="2.07" fill="#25a3d0"/><rect x="362.40" y="121.25" width="9.65" height="2.07" fill="#289cd8"/><rect x="372.00" y="121.25" width="9.65" height="2.07" fill="#279ed5"/><rect x="381.60" y="121.25" width="9.65" height="2.07" fill="#2999da"/><rect x="391.20" y="121.25" width="9.65" height="2.07" fill="#279fd4"/><rect x="400.80" y="121.25" width="9.65" height="2.07" fill="#2c8ee2"/><rect x="410.40" y="121.25" width="9.65" height="2.07" fill="#279fd4"/><rect x="420.00" y="121.25" width="9.65" height="2.07" fill="#24a5cd"/><rect x="429.60" y="121.25" width="9.65" height="2.07" fill="#24a5ce"/><rect x="439.20" y="121.25" width="9.65" height="2.07" fill="#2b92df"/><rect x="448.80" y="121.25" width="9.65" height="2.07" fill="#279dd6"/><rect x="458.40" y="121.25" width="9.65" height="2.07" fill="#289dd7"/><rect x="468.00" y="121.25" width="9.65" height="2.07" fill="#25afbd"/><rect x="477.60" y="121.25" width="9.65" height="2.07" fill="#2a96dd"/><rect x="487.20" y="121.25" width="9.65" height="2.07" fill="#23a7cb"/><rect x="496.80" y="121.25" width="9.65" height="2.07" fill="#2a95dd"/><rect x="506.40" y="121.25" width="9.65" height="2.07" fill="#2a96dd"/><rect x="314.40" y="123.27" width="9.65" height="2.07" fill="#279fd5"/><rect x="324.00" y="123.27" width="9.65" height="2.07" fill="#2b90e1"/><rect x="333.60" y="123.27" width="9.65" height="2.07" fill="#279ed5"/><rect x="343.20" y="123.27" width="9.65" height="2.07" fill="#279ed6"/><rect x="352.80" y="123.27" width="9.65" height="2.07" fill="#2c8fe1"/><rect x="362.40" y="123.27" width="9.65" height="2.07" fill="#2a96dd"/><rect x="372.00" y="123.27" width="9.65" height="2.07" fill="#23acc4"/><rect x="381.60" y="123.27" width="9.65" height="2.07" fill="#2a95dd"/><rect x="391.20" y="123.27" width="9.65" height="2.07" fill="#2b90e1"/><rect x="400.80" y="123.27" width="9.65" height="2.07" fill="#289dd7"/><rect x="410.40" y="123.27" width="9.65" height="2.07" fill="#2c8de3"/><rect x="420.00" y="123.27" width="9.65" height="2.07" fill="#289bd9"/><rect x="429.60" y="123.27" width="9.65" height="2.07" fill="#2999da"/><rect x="439.20" y="123.27" width="9.65" height="2.07" fill="#299ad9"/><rect x="448.80" y="123.27" width="9.65" height="2.07" fill="#22abc7"/><rect x="458.40" y="123.27" width="9.65" height="2.07" fill="#25a3d0"/><rect x="468.00" y="123.27" width="9.65" height="2.07" fill="#289bd9"/><rect x="477.60" y="123.27" width="9.65" height="2.07" fill="#2e89e5"/><rect x="487.20" y="123.27" width="9.65" height="2.07" fill="#2b90e0"/><rect x="496.80" y="123.27" width="9.65" height="2.07" fill="#2d8ce3"/><rect x="506.40" y="123.27" width="9.65" height="2.07" fill="#2b91e0"/><rect x="314.40" y="125.29" width="9.65" height="2.07" fill="#2a96dc"/><rect x="324.00" y="125.29" width="9.65" height="2.07" fill="#2c8de3"/><rect x="333.60" y="125.29" width="9.65" height="2.07" fill="#2a95dd"/><rect x="343.20" y="125.29" width="9.65" height="2.07" fill="#289cd8"/><rect x="352.80" y="125.29" width="9.65" height="2.07" fill="#2b90e0"/><rect x="362.40" y="125.29" width="9.65" height="2.07" fill="#2998db"/><rect x="372.00" y="125.29" width="9.65" height="2.07" fill="#22a9c9"/><rect x="381.60" y="125.29" width="9.65" height="2.07" fill="#25a3d1"/><rect x="391.20" y="125.29" width="9.65" height="2.07" fill="#23a9ca"/><rect x="400.80" y="125.29" width="9.65" height="2.07" fill="#2a95dd"/><rect x="410.40" y="125.29" width="9.65" height="2.07" fill="#24adc2"/><rect x="420.00" y="125.29" width="9.65" height="2.07" fill="#2b90e1"/><rect x="429.60" y="125.29" width="9.65" height="2.07" fill="#2b92df"/><rect x="439.20" y="125.29" width="9.65" height="2.07" fill="#3081e9"/><rect x="448.80" y="125.29" width="9.65" height="2.07" fill="#2c8ee2"/><rect x="458.40" y="125.29" width="9.65" height="2.07" fill="#25a3d0"/><rect x="468.00" y="125.29" width="9.65" height="2.07" fill="#279fd5"/><rect x="477.60" y="125.29" width="9.65" height="2.07" fill="#26a0d4"/><rect x="487.20" y="125.29" width="9.65" height="2.07" fill="#2b90e0"/><rect x="496.80" y="125.29" width="9.65" height="2.07" fill="#2998db"/><rect x="506.40" y="125.29" width="9.65" height="2.07" fill="#299ada"/><rect x="314.40" y="127.31" width="9.65" height="2.07" fill="#23a7cb"/><rect x="324.00" y="127.31" width="9.65" height="2.07" fill="#23a7cb"/><rect x="333.60" y="127.31" width="9.65" height="2.07" fill="#289cd8"/><rect x="343.20" y="127.31" width="9.65" height="2.07" fill="#25aebf"/><rect x="352.80" y="127.31" width="9.65" height="2.07" fill="#22aac8"/><rect x="362.40" y="127.31" width="9.65" height="2.07" fill="#3478ed"/><rect x="372.00" y="127.31" width="9.65" height="2.07" fill="#26a0d3"/><rect x="381.60" y="127.31" width="9.65" height="2.07" fill="#24a4ce"/><rect x="391.20" y="127.31" width="9.65" height="2.07" fill="#2999da"/><rect x="400.80" y="127.31" width="9.65" height="2.07" fill="#2b93df"/><rect x="410.40" y="127.31" width="9.65" height="2.07" fill="#26b0bc"/><rect x="420.00" y="127.31" width="9.65" height="2.07" fill="#289ad9"/><rect x="429.60" y="127.31" width="9.65" height="2.07" fill="#22abc7"/><rect x="439.20" y="127.31" width="9.65" height="2.07" fill="#2f85e7"/><rect x="448.80" y="127.31" width="9.65" height="2.07" fill="#2d8ae4"/><rect x="458.40" y="127.31" width="9.65" height="2.07" fill="#289ad9"/><rect x="468.00" y="127.31" width="9.65" height="2.07" fill="#289bd9"/><rect x="477.60" y="127.31" width="9.65" height="2.07" fill="#2a94de"/><rect x="487.20" y="127.31" width="9.65" height="2.07" fill="#25a4cf"/><rect x="496.80" y="127.31" width="9.65" height="2.07" fill="#289cd8"/><rect x="506.40" y="127.31" width="9.65" height="2.07" fill="#2999da"/><rect x="314.40" y="129.32" width="9.65" height="2.07" fill="#26b0bc"/><rect x="324.00" y="129.32" width="9.65" height="2.07" fill="#279ed6"/><rect x="333.60" y="129.32" width="9.65" height="2.07" fill="#23a7cb"/><rect x="343.20" y="129.32" width="9.65" height="2.07" fill="#23acc4"/><rect x="352.80" y="129.32" width="9.65" height="2.07" fill="#26a2d2"/><rect x="362.40" y="129.32" width="9.65" height="2.07" fill="#2c8de2"/><rect x="372.00" y="129.32" width="9.65" height="2.07" fill="#3083e8"/><rect x="381.60" y="129.32" width="9.65" height="2.07" fill="#2e88e5"/><rect x="391.20" y="129.32" width="9.65" height="2.07" fill="#27b2b8"/><rect x="400.80" y="129.32" width="9.65" height="2.07" fill="#2d8be4"/><rect x="410.40" y="129.32" width="9.65" height="2.07" fill="#279ed5"/><rect x="420.00" y="129.32" width="9.65" height="2.07" fill="#26a0d3"/><rect x="429.60" y="129.32" width="9.65" height="2.07" fill="#24a5ce"/><rect x="439.20" y="129.32" width="9.65" height="2.07" fill="#2a96dc"/><rect x="448.80" y="129.32" width="9.65" height="2.07" fill="#23a8ca"/><rect x="458.40" y="129.32" width="9.65" height="2.07" fill="#2a95dd"/><rect x="468.00" y="129.32" width="9.65" height="2.07" fill="#24a5ce"/><rect x="477.60" y="129.32" width="9.65" height="2.07" fill="#289cd8"/><rect x="487.20" y="129.32" width="9.65" height="2.07" fill="#279ed5"/><rect x="496.80" y="129.32" width="9.65" height="2.07" fill="#289cd8"/><rect x="506.40" y="129.32" width="9.65" height="2.07" fill="#25a2d1"/><rect x="314.40" y="131.34" width="9.65" height="2.07" fill="#2b90e1"/><rect x="324.00" y="131.34" width="9.65" height="2.07" fill="#2b91e0"/><rect x="333.60" y="131.34" width="9.65" height="2.07" fill="#3081e9"/><rect x="343.20" y="131.34" width="9.65" height="2.07" fill="#2f85e7"/><rect x="352.80" y="131.34" width="9.65" height="2.07" fill="#2b91e0"/><rect x="362.40" y="131.34" width="9.65" height="2.07" fill="#2f84e8"/><rect x="372.00" y="131.34" width="9.65" height="2.07" fill="#2a94de"/><rect x="381.60" y="131.34" width="9.65" height="2.07" fill="#3082e9"/><rect x="391.20" y="131.34" width="9.65" height="2.07" fill="#2d8ce3"/><rect x="400.80" y="131.34" width="9.65" height="2.07" fill="#24a5cd"/><rect x="410.40" y="131.34" width="9.65" height="2.07" fill="#2a95dd"/><rect x="420.00" y="131.34" width="9.65" height="2.07" fill="#2999da"/><rect x="429.60" y="131.34" width="9.65" height="2.07" fill="#23a7cc"/><rect x="439.20" y="131.34" width="9.65" height="2.07" fill="#2d8ae4"/><rect x="448.80" y="131.34" width="9.65" height="2.07" fill="#3180ea"/><rect x="458.40" y="131.34" width="9.65" height="2.07" fill="#327bec"/><rect x="468.00" y="131.34" width="9.65" height="2.07" fill="#2e89e5"/><rect x="477.60" y="131.34" width="9.65" height="2.07" fill="#2b93de"/><rect x="487.20" y="131.34" width="9.65" height="2.07" fill="#2c8de3"/><rect x="496.80" y="131.34" width="9.65" height="2.07" fill="#2f84e8"/><rect x="506.40" y="131.34" width="9.65" height="2.07" fill="#2c8de3"/><rect x="314.40" y="133.36" width="9.65" height="2.07" fill="#327dec"/><rect x="324.00" y="133.36" width="9.65" height="2.07" fill="#3082e9"/><rect x="333.60" y="133.36" width="9.65" height="2.07" fill="#3180ea"/><rect x="343.20" y="133.36" width="9.65" height="2.07" fill="#327deb"/><rect x="352.80" y="133.36" width="9.65" height="2.07" fill="#327cec"/><rect x="362.40" y="133.36" width="9.65" height="2.07" fill="#396def"/><rect x="372.00" y="133.36" width="9.65" height="2.07" fill="#2e88e6"/><rect x="381.60" y="133.36" width="9.65" height="2.07" fill="#2f86e6"/><rect x="391.20" y="133.36" width="9.65" height="2.07" fill="#2d8be4"/><rect x="400.80" y="133.36" width="9.65" height="2.07" fill="#3083e8"/><rect x="410.40" y="133.36" width="9.65" height="2.07" fill="#2d8ce3"/><rect x="420.00" y="133.36" width="9.65" height="2.07" fill="#4258ed"/><rect x="429.60" y="133.36" width="9.65" height="2.07" fill="#3479ed"/><rect x="439.20" y="133.36" width="9.65" height="2.07" fill="#327cec"/><rect x="448.80" y="133.36" width="9.65" height="2.07" fill="#337aec"/><rect x="458.40" y="133.36" width="9.65" height="2.07" fill="#3771ee"/><rect x="468.00" y="133.36" width="9.65" height="2.07" fill="#2999da"/><rect x="477.60" y="133.36" width="9.65" height="2.07" fill="#337bec"/><rect x="487.20" y="133.36" width="9.65" height="2.07" fill="#337aec"/><rect x="496.80" y="133.36" width="9.65" height="2.07" fill="#3b68f0"/><rect x="506.40" y="133.36" width="9.65" height="2.07" fill="#327dec"/><rect x="314.40" y="135.38" width="9.65" height="2.07" fill="#2f85e7"/><rect x="324.00" y="135.38" width="9.65" height="2.07" fill="#289cd8"/><rect x="333.60" y="135.38" width="9.65" height="2.07" fill="#26a0d3"/><rect x="343.20" y="135.38" width="9.65" height="2.07" fill="#2a94de"/><rect x="352.80" y="135.38" width="9.65" height="2.07" fill="#22abc7"/><rect x="362.40" y="135.38" width="9.65" height="2.07" fill="#3a69ef"/><rect x="372.00" y="135.38" width="9.65" height="2.07" fill="#2f84e8"/><rect x="381.60" y="135.38" width="9.65" height="2.07" fill="#2f85e7"/><rect x="391.20" y="135.38" width="9.65" height="2.07" fill="#25a4cf"/><rect x="400.80" y="135.38" width="9.65" height="2.07" fill="#289ad9"/><rect x="410.40" y="135.38" width="9.65" height="2.07" fill="#26a2d2"/><rect x="420.00" y="135.38" width="9.65" height="2.07" fill="#2b90e0"/><rect x="429.60" y="135.38" width="9.65" height="2.07" fill="#24adc2"/><rect x="439.20" y="135.38" width="9.65" height="2.07" fill="#2998db"/><rect x="448.80" y="135.38" width="9.65" height="2.07" fill="#289dd7"/><rect x="458.40" y="135.38" width="9.65" height="2.07" fill="#2d8be4"/><rect x="468.00" y="135.38" width="9.65" height="2.07" fill="#3477ed"/><rect x="477.60" y="135.38" width="9.65" height="2.07" fill="#2e88e6"/><rect x="487.20" y="135.38" width="9.65" height="2.07" fill="#26a1d2"/><rect x="496.80" y="135.38" width="9.65" height="2.07" fill="#2d8ae4"/><rect x="506.40" y="135.38" width="9.65" height="2.07" fill="#3180ea"/><rect x="314.40" y="137.40" width="9.65" height="2.07" fill="#22a9c9"/><rect x="324.00" y="137.40" width="9.65" height="2.07" fill="#26a0d3"/><rect x="333.60" y="137.40" width="9.65" height="2.07" fill="#22a9c9"/><rect x="343.20" y="137.40" width="9.65" height="2.07" fill="#22a9c9"/><rect x="352.80" y="137.40" width="9.65" height="2.07" fill="#24adc1"/><rect x="362.40" y="137.40" width="9.65" height="2.07" fill="#289bd9"/><rect x="372.00" y="137.40" width="9.65" height="2.07" fill="#26a0d4"/><rect x="381.60" y="137.40" width="9.65" height="2.07" fill="#26a2d2"/><rect x="391.20" y="137.40" width="9.65" height="2.07" fill="#24adc3"/><rect x="400.80" y="137.40" width="9.65" height="2.07" fill="#2c8de3"/><rect x="410.40" y="137.40" width="9.65" height="2.07" fill="#23a8cb"/><rect x="420.00" y="137.40" width="9.65" height="2.07" fill="#24a4ce"/><rect x="429.60" y="137.40" width="9.65" height="2.07" fill="#2b90e0"/><rect x="439.20" y="137.40" width="9.65" height="2.07" fill="#2b91e0"/><rect x="448.80" y="137.40" width="9.65" height="2.07" fill="#2b92df"/><rect x="458.40" y="137.40" width="9.65" height="2.07" fill="#23abc6"/><rect x="468.00" y="137.40" width="9.65" height="2.07" fill="#2f85e7"/><rect x="477.60" y="137.40" width="9.65" height="2.07" fill="#23abc5"/><rect x="487.20" y="137.40" width="9.65" height="2.07" fill="#3081e9"/><rect x="496.80" y="137.40" width="9.65" height="2.07" fill="#22aac7"/><rect x="506.40" y="137.40" width="9.65" height="2.07" fill="#22a9c9"/><rect x="314.40" y="139.42" width="9.65" height="2.07" fill="#26a0d3"/><rect x="324.00" y="139.42" width="9.65" height="2.07" fill="#2997db"/><rect x="333.60" y="139.42" width="9.65" height="2.07" fill="#289dd7"/><rect x="343.20" y="139.42" width="9.65" height="2.07" fill="#2f84e7"/><rect x="352.80" y="139.42" width="9.65" height="2.07" fill="#2d8be4"/><rect x="362.40" y="139.42" width="9.65" height="2.07" fill="#26a0d4"/><rect x="372.00" y="139.42" width="9.65" height="2.07" fill="#2a94de"/><rect x="381.60" y="139.42" width="9.65" height="2.07" fill="#23a9c9"/><rect x="391.20" y="139.42" width="9.65" height="2.07" fill="#2b92df"/><rect x="400.80" y="139.42" width="9.65" height="2.07" fill="#3576ed"/><rect x="410.40" y="139.42" width="9.65" height="2.07" fill="#2e89e5"/><rect x="420.00" y="139.42" width="9.65" height="2.07" fill="#2c8de2"/><rect x="429.60" y="139.42" width="9.65" height="2.07" fill="#2f86e6"/><rect x="439.20" y="139.42" width="9.65" height="2.07" fill="#2999da"/><rect x="448.80" y="139.42" width="9.65" height="2.07" fill="#2b93df"/><rect x="458.40" y="139.42" width="9.65" height="2.07" fill="#2a94de"/><rect x="468.00" y="139.42" width="9.65" height="2.07" fill="#3180ea"/><rect x="477.60" y="139.42" width="9.65" height="2.07" fill="#317fea"/><rect x="487.20" y="139.42" width="9.65" height="2.07" fill="#279ed5"/><rect x="496.80" y="139.42" width="9.65" height="2.07" fill="#25a3d0"/><rect x="506.40" y="139.42" width="9.65" height="2.07" fill="#2c8ee2"/><rect x="314.40" y="141.44" width="9.65" height="2.07" fill="#3a6aef"/><rect x="324.00" y="141.44" width="9.65" height="2.07" fill="#3c66f0"/><rect x="333.60" y="141.44" width="9.65" height="2.07" fill="#3772ee"/><rect x="343.20" y="141.44" width="9.65" height="2.07" fill="#396cef"/><rect x="352.80" y="141.44" width="9.65" height="2.07" fill="#3d63ef"/><rect x="362.40" y="141.44" width="9.65" height="2.07" fill="#3478ed"/><rect x="372.00" y="141.44" width="9.65" height="2.07" fill="#327cec"/><rect x="381.60" y="141.44" width="9.65" height="2.07" fill="#3478ed"/><rect x="391.20" y="141.44" width="9.65" height="2.07" fill="#3477ed"/><rect x="400.80" y="141.44" width="9.65" height="2.07" fill="#3083e8"/><rect x="410.40" y="141.44" width="9.65" height="2.07" fill="#2e89e5"/><rect x="420.00" y="141.44" width="9.65" height="2.07" fill="#317eeb"/><rect x="429.60" y="141.44" width="9.65" height="2.07" fill="#2e89e5"/><rect x="439.20" y="141.44" width="9.65" height="2.07" fill="#3083e8"/><rect x="448.80" y="141.44" width="9.65" height="2.07" fill="#3478ed"/><rect x="458.40" y="141.44" width="9.65" height="2.07" fill="#454de7"/><rect x="468.00" y="141.44" width="9.65" height="2.07" fill="#317eeb"/><rect x="477.60" y="141.44" width="9.65" height="2.07" fill="#3478ed"/><rect x="487.20" y="141.44" width="9.65" height="2.07" fill="#26a1d3"/><rect x="496.80" y="141.44" width="9.65" height="2.07" fill="#327dec"/><rect x="506.40" y="141.44" width="9.65" height="2.07" fill="#3576ed"/><rect x="314.40" y="143.46" width="9.65" height="2.07" fill="#3180ea"/><rect x="324.00" y="143.46" width="9.65" height="2.07" fill="#2c8fe1"/><rect x="333.60" y="143.46" width="9.65" height="2.07" fill="#279fd5"/><rect x="343.20" y="143.46" width="9.65" height="2.07" fill="#3083e8"/><rect x="352.80" y="143.46" width="9.65" height="2.07" fill="#2998db"/><rect x="362.40" y="143.46" width="9.65" height="2.07" fill="#289cd8"/><rect x="372.00" y="143.46" width="9.65" height="2.07" fill="#2b92df"/><rect x="381.60" y="143.46" width="9.65" height="2.07" fill="#26a0d4"/><rect x="391.20" y="143.46" width="9.65" height="2.07" fill="#2a97dc"/><rect x="400.80" y="143.46" width="9.65" height="2.07" fill="#2f85e7"/><rect x="410.40" y="143.46" width="9.65" height="2.07" fill="#2d8ce3"/><rect x="420.00" y="143.46" width="9.65" height="2.07" fill="#2a96dc"/><rect x="429.60" y="143.46" width="9.65" height="2.07" fill="#2a96dd"/><rect x="439.20" y="143.46" width="9.65" height="2.07" fill="#2c8ee2"/><rect x="448.80" y="143.46" width="9.65" height="2.07" fill="#2e87e6"/><rect x="458.40" y="143.46" width="9.65" height="2.07" fill="#2d8be4"/><rect x="468.00" y="143.46" width="9.65" height="2.07" fill="#279fd5"/><rect x="477.60" y="143.46" width="9.65" height="2.07" fill="#289bd9"/><rect x="487.20" y="143.46" width="9.65" height="2.07" fill="#2a95dd"/><rect x="496.80" y="143.46" width="9.65" height="2.07" fill="#279fd5"/><rect x="506.40" y="143.46" width="9.65" height="2.07" fill="#279fd4"/><rect x="314.40" y="145.47" width="9.65" height="2.07" fill="#289cd8"/><rect x="324.00" y="145.47" width="9.65" height="2.07" fill="#289bd9"/><rect x="333.60" y="145.47" width="9.65" height="2.07" fill="#2e87e6"/><rect x="343.20" y="145.47" width="9.65" height="2.07" fill="#3083e8"/><rect x="352.80" y="145.47" width="9.65" height="2.07" fill="#3674ed"/><rect x="362.40" y="145.47" width="9.65" height="2.07" fill="#4356ec"/><rect x="372.00" y="145.47" width="9.65" height="2.07" fill="#2e87e6"/><rect x="381.60" y="145.47" width="9.65" height="2.07" fill="#2c8fe2"/><rect x="391.20" y="145.47" width="9.65" height="2.07" fill="#26a0d4"/><rect x="400.80" y="145.47" width="9.65" height="2.07" fill="#2a96dc"/><rect x="410.40" y="145.47" width="9.65" height="2.07" fill="#2b92df"/><rect x="420.00" y="145.47" width="9.65" height="2.07" fill="#24a5ce"/><rect x="429.60" y="145.47" width="9.65" height="2.07" fill="#2c8fe1"/><rect x="439.20" y="145.47" width="9.65" height="2.07" fill="#327cec"/><rect x="448.80" y="145.47" width="9.65" height="2.07" fill="#2c8fe1"/><rect x="458.40" y="145.47" width="9.65" height="2.07" fill="#2f85e7"/><rect x="468.00" y="145.47" width="9.65" height="2.07" fill="#2b91e0"/><rect x="477.60" y="145.47" width="9.65" height="2.07" fill="#2a94de"/><rect x="487.20" y="145.47" width="9.65" height="2.07" fill="#2b90e1"/><rect x="496.80" y="145.47" width="9.65" height="2.07" fill="#2c8de2"/><rect x="506.40" y="145.47" width="9.65" height="2.07" fill="#2d8ae4"/><rect x="314.40" y="147.49" width="9.65" height="2.07" fill="#3672ee"/><rect x="324.00" y="147.49" width="9.65" height="2.07" fill="#327cec"/><rect x="333.60" y="147.49" width="9.65" height="2.07" fill="#2e89e5"/><rect x="343.20" y="147.49" width="9.65" height="2.07" fill="#2a96dc"/><rect x="352.80" y="147.49" width="9.65" height="2.07" fill="#3081e9"/><rect x="362.40" y="147.49" width="9.65" height="2.07" fill="#2c8ee2"/><rect x="372.00" y="147.49" width="9.65" height="2.07" fill="#2b90e0"/><rect x="381.60" y="147.49" width="9.65" height="2.07" fill="#327bec"/><rect x="391.20" y="147.49" width="9.65" height="2.07" fill="#3477ed"/><rect x="400.80" y="147.49" width="9.65" height="2.07" fill="#2998db"/><rect x="410.40" y="147.49" width="9.65" height="2.07" fill="#2e87e6"/><rect x="420.00" y="147.49" width="9.65" height="2.07" fill="#3b68f0"/><rect x="429.60" y="147.49" width="9.65" height="2.07" fill="#3379ec"/><rect x="439.20" y="147.49" width="9.65" height="2.07" fill="#3d64f0"/><rect x="448.80" y="147.49" width="9.65" height="2.07" fill="#3083e8"/><rect x="458.40" y="147.49" width="9.65" height="2.07" fill="#2c8de3"/><rect x="468.00" y="147.49" width="9.65" height="2.07" fill="#3083e8"/><rect x="477.60" y="147.49" width="9.65" height="2.07" fill="#2f85e7"/><rect x="487.20" y="147.49" width="9.65" height="2.07" fill="#327bec"/><rect x="496.80" y="147.49" width="9.65" height="2.07" fill="#2997dc"/><rect x="506.40" y="147.49" width="9.65" height="2.07" fill="#3771ee"/><rect x="314.40" y="149.51" width="9.65" height="2.07" fill="#3a6aef"/><rect x="324.00" y="149.51" width="9.65" height="2.07" fill="#2b91e0"/><rect x="333.60" y="149.51" width="9.65" height="2.07" fill="#2e88e6"/><rect x="343.20" y="149.51" width="9.65" height="2.07" fill="#299ada"/><rect x="352.80" y="149.51" width="9.65" height="2.07" fill="#317eeb"/><rect x="362.40" y="149.51" width="9.65" height="2.07" fill="#3082e9"/><rect x="372.00" y="149.51" width="9.65" height="2.07" fill="#2d8ae4"/><rect x="381.60" y="149.51" width="9.65" height="2.07" fill="#317eeb"/><rect x="391.20" y="149.51" width="9.65" height="2.07" fill="#2c8ee2"/><rect x="400.80" y="149.51" width="9.65" height="2.07" fill="#317fea"/><rect x="410.40" y="149.51" width="9.65" height="2.07" fill="#2f86e7"/><rect x="420.00" y="149.51" width="9.65" height="2.07" fill="#2d8ae4"/><rect x="429.60" y="149.51" width="9.65" height="2.07" fill="#3478ed"/><rect x="439.20" y="149.51" width="9.65" height="2.07" fill="#3180ea"/><rect x="448.80" y="149.51" width="9.65" height="2.07" fill="#2e89e5"/><rect x="458.40" y="149.51" width="9.65" height="2.07" fill="#2b90e1"/><rect x="468.00" y="149.51" width="9.65" height="2.07" fill="#2b91e0"/><rect x="477.60" y="149.51" width="9.65" height="2.07" fill="#2f86e6"/><rect x="487.20" y="149.51" width="9.65" height="2.07" fill="#3674ed"/><rect x="496.80" y="149.51" width="9.65" height="2.07" fill="#3576ed"/><rect x="506.40" y="149.51" width="9.65" height="2.07" fill="#2c8de3"/><rect x="314.40" y="151.53" width="9.65" height="2.07" fill="#2d8be4"/><rect x="324.00" y="151.53" width="9.65" height="2.07" fill="#3771ee"/><rect x="333.60" y="151.53" width="9.65" height="2.07" fill="#2b90e0"/><rect x="343.20" y="151.53" width="9.65" height="2.07" fill="#2f85e7"/><rect x="352.80" y="151.53" width="9.65" height="2.07" fill="#3575ed"/><rect x="362.40" y="151.53" width="9.65" height="2.07" fill="#327deb"/><rect x="372.00" y="151.53" width="9.65" height="2.07" fill="#2f84e8"/><rect x="381.60" y="151.53" width="9.65" height="2.07" fill="#327cec"/><rect x="391.20" y="151.53" width="9.65" height="2.07" fill="#2e89e5"/><rect x="400.80" y="151.53" width="9.65" height="2.07" fill="#386eef"/><rect x="410.40" y="151.53" width="9.65" height="2.07" fill="#3a6bef"/><rect x="420.00" y="151.53" width="9.65" height="2.07" fill="#3180ea"/><rect x="429.60" y="151.53" width="9.65" height="2.07" fill="#3477ed"/><rect x="439.20" y="151.53" width="9.65" height="2.07" fill="#3477ed"/><rect x="448.80" y="151.53" width="9.65" height="2.07" fill="#3180ea"/><rect x="458.40" y="151.53" width="9.65" height="2.07" fill="#3d63ef"/><rect x="468.00" y="151.53" width="9.65" height="2.07" fill="#2b91e0"/><rect x="477.60" y="151.53" width="9.65" height="2.07" fill="#3082e8"/><rect x="487.20" y="151.53" width="9.65" height="2.07" fill="#3575ed"/><rect x="496.80" y="151.53" width="9.65" height="2.07" fill="#2b90e0"/><rect x="506.40" y="151.53" width="9.65" height="2.07" fill="#3772ee"/><rect x="314.40" y="153.55" width="9.65" height="2.07" fill="#3180ea"/><rect x="324.00" y="153.55" width="9.65" height="2.07" fill="#2e87e6"/><rect x="333.60" y="153.55" width="9.65" height="2.07" fill="#317eeb"/><rect x="343.20" y="153.55" width="9.65" height="2.07" fill="#3b69ef"/><rect x="352.80" y="153.55" width="9.65" height="2.07" fill="#2c8fe1"/><rect x="362.40" y="153.55" width="9.65" height="2.07" fill="#2d8ae4"/><rect x="372.00" y="153.55" width="9.65" height="2.07" fill="#2d8ae4"/><rect x="381.60" y="153.55" width="9.65" height="2.07" fill="#3180ea"/><rect x="391.20" y="153.55" width="9.65" height="2.07" fill="#317feb"/><rect x="400.80" y="153.55" width="9.65" height="2.07" fill="#2d8ae4"/><rect x="410.40" y="153.55" width="9.65" height="2.07" fill="#327bec"/><rect x="420.00" y="153.55" width="9.65" height="2.07" fill="#327dec"/><rect x="429.60" y="153.55" width="9.65" height="2.07" fill="#3b69ef"/><rect x="439.20" y="153.55" width="9.65" height="2.07" fill="#3478ed"/><rect x="448.80" y="153.55" width="9.65" height="2.07" fill="#3575ed"/><rect x="458.40" y="153.55" width="9.65" height="2.07" fill="#3b67f0"/><rect x="468.00" y="153.55" width="9.65" height="2.07" fill="#337aec"/><rect x="477.60" y="153.55" width="9.65" height="2.07" fill="#3081e9"/><rect x="487.20" y="153.55" width="9.65" height="2.07" fill="#3d64f0"/><rect x="496.80" y="153.55" width="9.65" height="2.07" fill="#3082e9"/><rect x="506.40" y="153.55" width="9.65" height="2.07" fill="#317eeb"/><rect x="314.40" y="155.57" width="9.65" height="2.07" fill="#3081e9"/><rect x="324.00" y="155.57" width="9.65" height="2.07" fill="#3478ed"/><rect x="333.60" y="155.57" width="9.65" height="2.07" fill="#2c8fe1"/><rect x="343.20" y="155.57" width="9.65" height="2.07" fill="#327dec"/><rect x="352.80" y="155.57" width="9.65" height="2.07" fill="#327cec"/><rect x="362.40" y="155.57" width="9.65" height="2.07" fill="#317fea"/><rect x="372.00" y="155.57" width="9.65" height="2.07" fill="#3379ed"/><rect x="381.60" y="155.57" width="9.65" height="2.07" fill="#396cef"/><rect x="391.20" y="155.57" width="9.65" height="2.07" fill="#3772ee"/><rect x="400.80" y="155.57" width="9.65" height="2.07" fill="#3180ea"/><rect x="410.40" y="155.57" width="9.65" height="2.07" fill="#2e88e5"/><rect x="420.00" y="155.57" width="9.65" height="2.07" fill="#3081e9"/><rect x="429.60" y="155.57" width="9.65" height="2.07" fill="#3180ea"/><rect x="439.20" y="155.57" width="9.65" height="2.07" fill="#327cec"/><rect x="448.80" y="155.57" width="9.65" height="2.07" fill="#327cec"/><rect x="458.40" y="155.57" width="9.65" height="2.07" fill="#3477ed"/><rect x="468.00" y="155.57" width="9.65" height="2.07" fill="#3081e9"/><rect x="477.60" y="155.57" width="9.65" height="2.07" fill="#2f84e7"/><rect x="487.20" y="155.57" width="9.65" height="2.07" fill="#2c8de3"/><rect x="496.80" y="155.57" width="9.65" height="2.07" fill="#317eeb"/><rect x="506.40" y="155.57" width="9.65" height="2.07" fill="#3082e9"/><rect x="314.40" y="157.59" width="9.65" height="2.07" fill="#317fea"/><rect x="324.00" y="157.59" width="9.65" height="2.07" fill="#2a95dd"/><rect x="333.60" y="157.59" width="9.65" height="2.07" fill="#2a95dd"/><rect x="343.20" y="157.59" width="9.65" height="2.07" fill="#2d8ae4"/><rect x="352.80" y="157.59" width="9.65" height="2.07" fill="#337bec"/><rect x="362.40" y="157.59" width="9.65" height="2.07" fill="#3083e8"/><rect x="372.00" y="157.59" width="9.65" height="2.07" fill="#2c90e1"/><rect x="381.60" y="157.59" width="9.65" height="2.07" fill="#2d8be4"/><rect x="391.20" y="157.59" width="9.65" height="2.07" fill="#2f84e8"/><rect x="400.80" y="157.59" width="9.65" height="2.07" fill="#2998db"/><rect x="410.40" y="157.59" width="9.65" height="2.07" fill="#327cec"/><rect x="420.00" y="157.59" width="9.65" height="2.07" fill="#2998db"/><rect x="429.60" y="157.59" width="9.65" height="2.07" fill="#2b93de"/><rect x="439.20" y="157.59" width="9.65" height="2.07" fill="#2997db"/><rect x="448.80" y="157.59" width="9.65" height="2.07" fill="#2c8fe1"/><rect x="458.40" y="157.59" width="9.65" height="2.07" fill="#2998db"/><rect x="468.00" y="157.59" width="9.65" height="2.07" fill="#2999da"/><rect x="477.60" y="157.59" width="9.65" height="2.07" fill="#337bec"/><rect x="487.20" y="157.59" width="9.65" height="2.07" fill="#2b92df"/><rect x="496.80" y="157.59" width="9.65" height="2.07" fill="#2c90e1"/><rect x="506.40" y="157.59" width="9.65" height="2.07" fill="#26a0d3"/><rect x="314.40" y="159.61" width="9.65" height="2.07" fill="#2d8ce3"/><rect x="324.00" y="159.61" width="9.65" height="2.07" fill="#3082e9"/><rect x="333.60" y="159.61" width="9.65" height="2.07" fill="#3379ec"/><rect x="343.20" y="159.61" width="9.65" height="2.07" fill="#396eef"/><rect x="352.80" y="159.61" width="9.65" height="2.07" fill="#2f86e6"/><rect x="362.40" y="159.61" width="9.65" height="2.07" fill="#2b90e1"/><rect x="372.00" y="159.61" width="9.65" height="2.07" fill="#327cec"/><rect x="381.60" y="159.61" width="9.65" height="2.07" fill="#2a93de"/><rect x="391.20" y="159.61" width="9.65" height="2.07" fill="#25a2d1"/><rect x="400.80" y="159.61" width="9.65" height="2.07" fill="#2d8ae4"/><rect x="410.40" y="159.61" width="9.65" height="2.07" fill="#2e89e5"/><rect x="420.00" y="159.61" width="9.65" height="2.07" fill="#3180ea"/><rect x="429.60" y="159.61" width="9.65" height="2.07" fill="#327cec"/><rect x="439.20" y="159.61" width="9.65" height="2.07" fill="#3180ea"/><rect x="448.80" y="159.61" width="9.65" height="2.07" fill="#3083e8"/><rect x="458.40" y="159.61" width="9.65" height="2.07" fill="#3b69ef"/><rect x="468.00" y="159.61" width="9.65" height="2.07" fill="#2b90e1"/><rect x="477.60" y="159.61" width="9.65" height="2.07" fill="#2d8ae4"/><rect x="487.20" y="159.61" width="9.65" height="2.07" fill="#2e87e6"/><rect x="496.80" y="159.61" width="9.65" height="2.07" fill="#2f84e8"/><rect x="506.40" y="159.61" width="9.65" height="2.07" fill="#2e87e6"/><rect x="314.40" y="161.62" width="9.65" height="2.07" fill="#3576ed"/><rect x="324.00" y="161.62" width="9.65" height="2.07" fill="#3379ed"/><rect x="333.60" y="161.62" width="9.65" height="2.07" fill="#327cec"/><rect x="343.20" y="161.62" width="9.65" height="2.07" fill="#396def"/><rect x="352.80" y="161.62" width="9.65" height="2.07" fill="#337aec"/><rect x="362.40" y="161.62" width="9.65" height="2.07" fill="#3576ed"/><rect x="372.00" y="161.62" width="9.65" height="2.07" fill="#3a6bef"/><rect x="381.60" y="161.62" width="9.65" height="2.07" fill="#3477ed"/><rect x="391.20" y="161.62" width="9.65" height="2.07" fill="#337aec"/><rect x="400.80" y="161.62" width="9.65" height="2.07" fill="#4453eb"/><rect x="410.40" y="161.62" width="9.65" height="2.07" fill="#317feb"/><rect x="420.00" y="161.62" width="9.65" height="2.07" fill="#327deb"/><rect x="429.60" y="161.62" width="9.65" height="2.07" fill="#3b69ef"/><rect x="439.20" y="161.62" width="9.65" height="2.07" fill="#337aec"/><rect x="448.80" y="161.62" width="9.65" height="2.07" fill="#3a6aef"/><rect x="458.40" y="161.62" width="9.65" height="2.07" fill="#2e88e6"/><rect x="468.00" y="161.62" width="9.65" height="2.07" fill="#396cef"/><rect x="477.60" y="161.62" width="9.65" height="2.07" fill="#3b69f0"/><rect x="487.20" y="161.62" width="9.65" height="2.07" fill="#3576ed"/><rect x="496.80" y="161.62" width="9.65" height="2.07" fill="#327cec"/><rect x="506.40" y="161.62" width="9.65" height="2.07" fill="#3576ed"/><rect x="314.40" y="163.64" width="9.65" height="2.07" fill="#454ce6"/><rect x="324.00" y="163.64" width="9.65" height="2.07" fill="#3c66f0"/><rect x="333.60" y="163.64" width="9.65" height="2.07" fill="#3574ed"/><rect x="343.20" y="163.64" width="9.65" height="2.07" fill="#396cef"/><rect x="352.80" y="163.64" width="9.65" height="2.07" fill="#386fee"/><rect x="362.40" y="163.64" width="9.65" height="2.07" fill="#3771ee"/><rect x="372.00" y="163.64" width="9.65" height="2.07" fill="#413acf"/><rect x="381.60" y="163.64" width="9.65" height="2.07" fill="#3576ed"/><rect x="391.20" y="163.64" width="9.65" height="2.07" fill="#2f85e7"/><rect x="400.80" y="163.64" width="9.65" height="2.07" fill="#3771ee"/><rect x="410.40" y="163.64" width="9.65" height="2.07" fill="#3478ed"/><rect x="420.00" y="163.64" width="9.65" height="2.07" fill="#2d8ce3"/><rect x="429.60" y="163.64" width="9.65" height="2.07" fill="#3d65f0"/><rect x="439.20" y="163.64" width="9.65" height="2.07" fill="#3c66f0"/><rect x="448.80" y="163.64" width="9.65" height="2.07" fill="#3674ed"/><rect x="458.40" y="163.64" width="9.65" height="2.07" fill="#3479ed"/><rect x="468.00" y="163.64" width="9.65" height="2.07" fill="#3870ee"/><rect x="477.60" y="163.64" width="9.65" height="2.07" fill="#386fee"/><rect x="487.20" y="163.64" width="9.65" height="2.07" fill="#396def"/><rect x="496.80" y="163.64" width="9.65" height="2.07" fill="#3d65f0"/><rect x="506.40" y="163.64" width="9.65" height="2.07" fill="#3575ed"/><rect x="314.40" y="165.66" width="9.65" height="2.07" fill="#3082e9"/><rect x="324.00" y="165.66" width="9.65" height="2.07" fill="#2c8de3"/><rect x="333.60" y="165.66" width="9.65" height="2.07" fill="#2a94de"/><rect x="343.20" y="165.66" width="9.65" height="2.07" fill="#2f84e8"/><rect x="352.80" y="165.66" width="9.65" height="2.07" fill="#2f85e7"/><rect x="362.40" y="165.66" width="9.65" height="2.07" fill="#2b90e0"/><rect x="372.00" y="165.66" width="9.65" height="2.07" fill="#2d8ce3"/><rect x="381.60" y="165.66" width="9.65" height="2.07" fill="#2c8de2"/><rect x="391.20" y="165.66" width="9.65" height="2.07" fill="#2e89e5"/><rect x="400.80" y="165.66" width="9.65" height="2.07" fill="#2b91e0"/><rect x="410.40" y="165.66" width="9.65" height="2.07" fill="#3674ee"/><rect x="420.00" y="165.66" width="9.65" height="2.07" fill="#22aac8"/><rect x="429.60" y="165.66" width="9.65" height="2.07" fill="#2f86e7"/><rect x="439.20" y="165.66" width="9.65" height="2.07" fill="#2d8be4"/><rect x="448.80" y="165.66" width="9.65" height="2.07" fill="#3479ed"/><rect x="458.40" y="165.66" width="9.65" height="2.07" fill="#327cec"/><rect x="468.00" y="165.66" width="9.65" height="2.07" fill="#2e89e5"/><rect x="477.60" y="165.66" width="9.65" height="2.07" fill="#279ed5"/><rect x="487.20" y="165.66" width="9.65" height="2.07" fill="#24a4cf"/><rect x="496.80" y="165.66" width="9.65" height="2.07" fill="#23a7cb"/><rect x="506.40" y="165.66" width="9.65" height="2.07" fill="#2f85e7"/><rect x="314.40" y="167.68" width="9.65" height="2.07" fill="#3673ee"/><rect x="324.00" y="167.68" width="9.65" height="2.07" fill="#2a95dd"/><rect x="333.60" y="167.68" width="9.65" height="2.07" fill="#2c8de3"/><rect x="343.20" y="167.68" width="9.65" height="2.07" fill="#2e89e5"/><rect x="352.80" y="167.68" width="9.65" height="2.07" fill="#2f86e6"/><rect x="362.40" y="167.68" width="9.65" height="2.07" fill="#26a1d3"/><rect x="372.00" y="167.68" width="9.65" height="2.07" fill="#386eef"/><rect x="381.60" y="167.68" width="9.65" height="2.07" fill="#327dec"/><rect x="391.20" y="167.68" width="9.65" height="2.07" fill="#3576ed"/><rect x="400.80" y="167.68" width="9.65" height="2.07" fill="#289bd9"/><rect x="410.40" y="167.68" width="9.65" height="2.07" fill="#2c8fe1"/><rect x="420.00" y="167.68" width="9.65" height="2.07" fill="#317eeb"/><rect x="429.60" y="167.68" width="9.65" height="2.07" fill="#2e87e6"/><rect x="439.20" y="167.68" width="9.65" height="2.07" fill="#454fe8"/><rect x="448.80" y="167.68" width="9.65" height="2.07" fill="#2f84e8"/><rect x="458.40" y="167.68" width="9.65" height="2.07" fill="#2f85e7"/><rect x="468.00" y="167.68" width="9.65" height="2.07" fill="#2c8de3"/><rect x="477.60" y="167.68" width="9.65" height="2.07" fill="#327deb"/><rect x="487.20" y="167.68" width="9.65" height="2.07" fill="#4454ec"/><rect x="496.80" y="167.68" width="9.65" height="2.07" fill="#2c8fe1"/><rect x="506.40" y="167.68" width="9.65" height="2.07" fill="#337aec"/></g>
<rect x="521.70" y="8.20" width="10.00" height="161.50" fill="url(#pg)"/>
<text transform="translate(534.90 13.37) scale(0.930 1)" font-family="Liberation Sans, sans-serif" font-size="8.8" font-weight="bold" text-anchor="start" fill="#222">35</text>
<text transform="translate(534.90 66.77) scale(0.930 1)" font-family="Liberation Sans, sans-serif" font-size="8.8" font-weight="bold" text-anchor="start" fill="#222">25</text>
<text transform="translate(534.90 120.17) scale(0.930 1)" font-family="Liberation Sans, sans-serif" font-size="8.8" font-weight="bold" text-anchor="start" fill="#222">15</text>
<text transform="translate(534.90 173.67) scale(0.930 1)" font-family="Liberation Sans, sans-serif" font-size="8.8" font-weight="bold" text-anchor="start" fill="#222">5</text>
<text transform="translate(311.20 12.37) scale(0.930 1)" font-family="Liberation Sans, sans-serif" font-size="8.8" font-weight="bold" text-anchor="end" fill="#222">0.5</text>
<text transform="translate(311.20 92.67) scale(0.930 1)" font-family="Liberation Sans, sans-serif" font-size="8.8" font-weight="bold" text-anchor="end" fill="#222">0</text>
<text transform="translate(311.20 173.57) scale(0.930 1)" font-family="Liberation Sans, sans-serif" font-size="8.8" font-weight="bold" text-anchor="end" fill="#222">-0.5</text>
<text transform="translate(319.70 182.17) scale(0.930 1)" font-family="Liberation Sans, sans-serif" font-size="8.8" font-weight="bold" text-anchor="middle" fill="#222">-0.5</text>
<text transform="translate(415.40 182.17) scale(0.930 1)" font-family="Liberation Sans, sans-serif" font-size="8.8" font-weight="bold" text-anchor="middle" fill="#222">0</text>
<text transform="translate(511.30 182.17) scale(0.930 1)" font-family="Liberation Sans, sans-serif" font-size="8.8" font-weight="bold" text-anchor="middle" fill="#222">0.5</text>
<text x="415" y="196.4" font-family="Liberation Sans, sans-serif" font-size="9.5" font-weight="bold" text-anchor="middle" fill="#222">x(m<tspan font-size="6.5" dy="-4">-1</tspan><tspan dy="4">)</tspan></text>
<text transform="translate(292.40 89.30) rotate(-90)" font-family="Liberation Sans, sans-serif" font-size="9.8" font-weight="bold" text-anchor="middle" fill="#222">y(s)</text>
<text x="408.80" y="222.30" font-family="Liberation Serif, serif" font-size="14.3" letter-spacing="0.25" text-anchor="middle" fill="#111">(<tspan font-weight="bold" font-size="16">b</tspan>)</text>
<g clip-path="url(#clipC)"><rect x="33.20" y="255.30" width="200.40" height="162.00" fill="#3b2eaa"/><g clip-path="url(#clipLit)"><rect x="30.20" y="298.00" width="206.40" height="125.00" fill="url(#litg)"/><rect x="33.20" y="350.00" width="200.40" height="55.00" fill="url(#sideg)"/><g transform="translate(133.40 380) scale(92 50)"><circle cx="0" cy="0" r="1" fill="url(#tealg)"/></g><g filter="url(#blC1)"><path d="M31.2 338.0 L32.7 338.0 L34.2 338.0 L35.7 338.0 L37.2 338.0 L38.7 338.0 L40.2 338.0 L41.7 338.0 L43.2 338.0 L44.7 338.0 L46.2 338.0 L47.7 338.0 L49.2 338.0 L50.7 338.0 L52.2 338.0 L53.7 338.0 L55.2 338.0 L56.7 338.0 L58.2 338.0 L59.7 338.0 L61.2 338.0 L62.7 338.0 L64.2 338.0 L65.7 338.0 L67.2 338.0 L68.7 338.0 L70.2 338.0 L71.7 338.0 L73.2 337.9 L74.7 337.9 L76.2 337.9 L77.7 337.9 L79.2 337.8 L80.7 337.8 L82.2 337.7 L83.7 337.6 L85.2 337.5 L86.7 337.4 L88.2 337.2 L89.7 337.1 L91.2 336.8 L92.7 336.6 L94.2 336.3 L95.7 335.9 L97.2 335.4 L98.7 334.9 L100.2 334.3 L101.7 333.6 L103.2 332.8 L104.7 331.8 L106.2 330.7 L107.7 329.4 L109.2 327.9 L110.7 326.2 L112.2 324.3 L113.7 322.0 L115.2 319.5 L116.7 316.6 L118.2 313.3 L119.7 309.6" fill="none" stroke="#2cb0e4" stroke-opacity="0.63" stroke-width="1.66"/><path d="M31.2 339.6 L32.7 339.6 L34.2 339.6 L35.7 339.6 L37.2 339.6 L38.7 339.6 L40.2 339.6 L41.7 339.6 L43.2 339.6 L44.7 339.6 L46.2 339.6 L47.7 339.6 L49.2 339.6 L50.7 339.6 L52.2 339.6 L53.7 339.6 L55.2 339.6 L56.7 339.6 L58.2 339.6 L59.7 339.6 L61.2 339.6 L62.7 339.6 L64.2 339.6 L65.7 339.6 L67.2 339.6 L68.7 339.6 L70.2 339.6 L71.7 339.6 L73.2 339.6 L74.7 339.6 L76.2 339.5 L77.7 339.5 L79.2 339.4 L80.7 339.4 L82.2 339.3 L83.7 339.2 L85.2 339.1 L86.7 339.0 L88.2 338.8 L89.7 338.6 L91.2 338.4 L92.7 338.1 L94.2 337.8 L95.7 337.4 L97.2 336.9 L98.7 336.4 L100.2 335.7 L101.7 335.0 L103.2 334.1 L104.7 333.1 L106.2 331.9 L107.7 330.6 L109.2 329.0 L110.7 327.3 L112.2 325.3 L113.7 323.0 L115.2 320.4 L116.7 317.4 L118.2 314.1 L119.7 310.3 L121.2 306.0" fill="none" stroke="#2aa8ee" stroke-opacity="0.56" stroke-width="1.93"/><path d="M31.2 342.7 L32.7 342.7 L34.2 342.7 L35.7 342.7 L37.2 342.7 L38.7 342.7 L40.2 342.7 L41.7 342.7 L43.2 342.7 L44.7 342.7 L46.2 342.7 L47.7 342.7 L49.2 342.7 L50.7 342.7 L52.2 342.7 L53.7 342.7 L55.2 342.7 L56.7 342.7 L58.2 342.7 L59.7 342.7 L61.2 342.7 L62.7 342.7 L64.2 342.7 L65.7 342.7 L67.2 342.7 L68.7 342.7 L70.2 342.6 L71.7 342.6 L73.2 342.6 L74.7 342.6 L76.2 342.5 L77.7 342.5 L79.2 342.4 L80.7 342.4 L82.2 342.3 L83.7 342.2 L85.2 342.0 L86.7 341.9 L88.2 341.7 L89.7 341.5 L91.2 341.2 L92.7 340.9 L94.2 340.5 L95.7 340.1 L97.2 339.6 L98.7 339.0 L100.2 338.3 L101.7 337.4 L103.2 336.5 L104.7 335.4 L106.2 334.2 L107.7 332.7 L109.2 331.1 L110.7 329.3 L112.2 327.1 L113.7 324.7 L115.2 322.0 L116.7 319.0 L118.2 315.5 L119.7 311.6 L121.2 307.3" fill="none" stroke="#4a68e8" stroke-opacity="0.40" stroke-width="1.31"/><path d="M31.2 344.9 L32.7 344.9 L34.2 344.9 L35.7 344.9 L37.2 344.9 L38.7 344.9 L40.2 344.9 L41.7 344.9 L43.2 344.9 L44.7 344.9 L46.2 344.9 L47.7 344.9 L49.2 344.9 L50.7 344.9 L52.2 344.9 L53.7 344.9 L55.2 344.9 L56.7 344.9 L58.2 344.9 L59.7 344.9 L61.2 344.9 L62.7 344.9 L64.2 344.9 L65.7 344.9 L67.2 344.9 L68.7 344.9 L70.2 344.8 L71.7 344.8 L73.2 344.8 L74.7 344.8 L76.2 344.7 L77.7 344.7 L79.2 344.6 L80.7 344.5 L82.2 344.4 L83.7 344.3 L85.2 344.2 L86.7 344.0 L88.2 343.8 L89.7 343.5 L91.2 343.3 L92.7 342.9 L94.2 342.5 L95.7 342.0 L97.2 341.5 L98.7 340.8 L100.2 340.1 L101.7 339.2 L103.2 338.2 L104.7 337.1 L106.2 335.8 L107.7 334.3 L109.2 332.6 L110.7 330.7 L112.2 328.5 L113.7 326.0 L115.2 323.2 L116.7 320.1 L118.2 316.6 L119.7 312.6 L121.2 308.2" fill="none" stroke="#4a68e8" stroke-opacity="0.40" stroke-width="1.02"/><path d="M31.2 347.2 L32.7 347.2 L34.2 347.2 L35.7 347.2 L37.2 347.2 L38.7 347.2 L40.2 347.2 L41.7 347.2 L43.2 347.2 L44.7 347.2 L46.2 347.2 L47.7 347.2 L49.2 347.1 L50.7 347.1 L52.2 347.1 L53.7 347.1 L55.2 347.1 L56.7 347.1 L58.2 347.1 L59.7 347.1 L61.2 347.1 L62.7 347.1 L64.2 347.1 L65.7 347.1 L67.2 347.1 L68.7 347.1 L70.2 347.1 L71.7 347.1 L73.2 347.0 L74.7 347.0 L76.2 346.9 L77.7 346.9 L79.2 346.8 L80.7 346.7 L82.2 346.6 L83.7 346.5 L85.2 346.3 L86.7 346.1 L88.2 345.9 L89.7 345.6 L91.2 345.3 L92.7 345.0 L94.2 344.5 L95.7 344.0 L97.2 343.4 L98.7 342.7 L100.2 341.9 L101.7 341.0 L103.2 340.0 L104.7 338.8 L106.2 337.4 L107.7 335.9 L109.2 334.1 L110.7 332.1 L112.2 329.8 L113.7 327.3 L115.2 324.4 L116.7 321.2 L118.2 317.7 L119.7 313.6 L121.2 309.2" fill="none" stroke="#3a8cf4" stroke-opacity="0.43" stroke-width="1.83"/><path d="M31.2 349.0 L32.7 349.0 L34.2 349.0 L35.7 349.0 L37.2 349.0 L38.7 349.0 L40.2 349.0 L41.7 349.0 L43.2 349.0 L44.7 349.0 L46.2 349.0 L47.7 349.0 L49.2 349.0 L50.7 349.0 L52.2 349.0 L53.7 349.0 L55.2 349.0 L56.7 349.0 L58.2 349.0 L59.7 349.0 L61.2 349.0 L62.7 349.0 L64.2 349.0 L65.7 349.0 L67.2 349.0 L68.7 348.9 L70.2 348.9 L71.7 348.9 L73.2 348.9 L74.7 348.8 L76.2 348.8 L77.7 348.7 L79.2 348.6 L80.7 348.5 L82.2 348.4 L83.7 348.3 L85.2 348.1 L86.7 347.9 L88.2 347.6 L89.7 347.4 L91.2 347.0 L92.7 346.6 L94.2 346.1 L95.7 345.6 L97.2 345.0 L98.7 344.3 L100.2 343.4 L101.7 342.5 L103.2 341.4 L104.7 340.1 L106.2 338.7 L107.7 337.1 L109.2 335.3 L110.7 333.3 L112.2 330.9 L113.7 328.4 L115.2 325.4 L116.7 322.2 L118.2 318.6 L119.7 314.5 L121.2 310.0" fill="none" stroke="#5070ea" stroke-opacity="0.71" stroke-width="0.88"/><path d="M31.2 350.8 L32.7 350.8 L34.2 350.8 L35.7 350.8 L37.2 350.8 L38.7 350.8 L40.2 350.8 L41.7 350.8 L43.2 350.8 L44.7 350.8 L46.2 350.8 L47.7 350.8 L49.2 350.8 L50.7 350.8 L52.2 350.8 L53.7 350.8 L55.2 350.8 L56.7 350.8 L58.2 350.8 L59.7 350.8 L61.2 350.8 L62.7 350.8 L64.2 350.8 L65.7 350.8 L67.2 350.8 L68.7 350.7 L70.2 350.7 L71.7 350.7 L73.2 350.6 L74.7 350.6 L76.2 350.5 L77.7 350.5 L79.2 350.4 L80.7 350.3 L82.2 350.1 L83.7 350.0 L85.2 349.8 L86.7 349.6 L88.2 349.3 L89.7 349.0 L91.2 348.6 L92.7 348.2 L94.2 347.7 L95.7 347.2 L97.2 346.5 L98.7 345.7 L100.2 344.9 L101.7 343.9 L103.2 342.7 L104.7 341.4 L106.2 340.0 L107.7 338.3 L109.2 336.5 L110.7 334.4 L112.2 332.0 L113.7 329.4 L115.2 326.4 L116.7 323.1 L118.2 319.4 L119.7 315.4 L121.2 310.8" fill="none" stroke="#4a68e8" stroke-opacity="0.35" stroke-width="1.83"/><path d="M31.2 353.6 L32.7 353.6 L34.2 353.6 L35.7 353.6 L37.2 353.6 L38.7 353.6 L40.2 353.6 L41.7 353.6 L43.2 353.6 L44.7 353.6 L46.2 353.6 L47.7 353.6 L49.2 353.6 L50.7 353.6 L52.2 353.6 L53.7 353.6 L55.2 353.6 L56.7 353.6 L58.2 353.6 L59.7 353.6 L61.2 353.6 L62.7 353.6 L64.2 353.6 L65.7 353.6 L67.2 353.6 L68.7 353.6 L70.2 353.5 L71.7 353.5 L73.2 353.4 L74.7 353.4 L76.2 353.3 L77.7 353.2 L79.2 353.1 L80.7 353.0 L82.2 352.9 L83.7 352.7 L85.2 352.5 L86.7 352.2 L88.2 351.9 L89.7 351.6 L91.2 351.2 L92.7 350.7 L94.2 350.2 L95.7 349.5 L97.2 348.8 L98.7 348.0 L100.2 347.1 L101.7 346.0 L103.2 344.8 L104.7 343.5 L106.2 341.9 L107.7 340.2 L109.2 338.3 L110.7 336.1 L112.2 333.7 L113.7 330.9 L115.2 327.9 L116.7 324.6 L118.2 320.8 L119.7 316.7 L121.2 312.1 L122.7 309.9" fill="none" stroke="#3a7cf0" stroke-opacity="0.78" stroke-width="0.92"/><path d="M31.2 355.7 L32.7 355.7 L34.2 355.7 L35.7 355.7 L37.2 355.7 L38.7 355.7 L40.2 355.7 L41.7 355.7 L43.2 355.7 L44.7 355.7 L46.2 355.7 L47.7 355.7 L49.2 355.7 L50.7 355.7 L52.2 355.7 L53.7 355.7 L55.2 355.7 L56.7 355.7 L58.2 355.7 L59.7 355.7 L61.2 355.7 L62.7 355.7 L64.2 355.7 L65.7 355.6 L67.2 355.6 L68.7 355.6 L70.2 355.6 L71.7 355.5 L73.2 355.5 L74.7 355.4 L76.2 355.3 L77.7 355.2 L79.2 355.1 L80.7 355.0 L82.2 354.8 L83.7 354.6 L85.2 354.4 L86.7 354.1 L88.2 353.8 L89.7 353.4 L91.2 353.0 L92.7 352.5 L94.2 351.9 L95.7 351.3 L97.2 350.5 L98.7 349.6 L100.2 348.7 L101.7 347.6 L103.2 346.3 L104.7 344.9 L106.2 343.3 L107.7 341.5 L109.2 339.5 L110.7 337.3 L112.2 334.8 L113.7 332.1 L115.2 329.0 L116.7 325.6 L118.2 321.8 L119.7 317.7 L121.2 313.1 L122.7 309.9" fill="none" stroke="#4a68e8" stroke-opacity="0.78" stroke-width="1.40"/><path d="M31.2 357.6 L32.7 357.6 L34.2 357.6 L35.7 357.6 L37.2 357.6 L38.7 357.6 L40.2 357.6 L41.7 357.6 L43.2 357.6 L44.7 357.6 L46.2 357.6 L47.7 357.6 L49.2 357.6 L50.7 357.6 L52.2 357.6 L53.7 357.6 L55.2 357.6 L56.7 357.6 L58.2 357.6 L59.7 357.6 L61.2 357.6 L62.7 357.6 L64.2 357.5 L65.7 357.5 L67.2 357.5 L68.7 357.5 L70.2 357.4 L71.7 357.4 L73.2 357.3 L74.7 357.3 L76.2 357.2 L77.7 357.1 L79.2 356.9 L80.7 356.8 L82.2 356.6 L83.7 356.4 L85.2 356.1 L86.7 355.8 L88.2 355.5 L89.7 355.1 L91.2 354.6 L92.7 354.1 L94.2 353.5 L95.7 352.8 L97.2 352.0 L98.7 351.1 L100.2 350.1 L101.7 348.9 L103.2 347.6 L104.7 346.2 L106.2 344.5 L107.7 342.7 L109.2 340.7 L110.7 338.4 L112.2 335.9 L113.7 333.1 L115.2 330.0 L116.7 326.5 L118.2 322.7 L119.7 318.6 L121.2 314.0 L122.7 309.9" fill="none" stroke="#3a8cf4" stroke-opacity="0.79" stroke-width="0.96"/><path d="M31.2 359.7 L32.7 359.7 L34.2 359.7 L35.7 359.7 L37.2 359.7 L38.7 359.7 L40.2 359.7 L41.7 359.7 L43.2 359.7 L44.7 359.7 L46.2 359.7 L47.7 359.7 L49.2 359.7 L50.7 359.7 L52.2 359.7 L53.7 359.7 L55.2 359.7 L56.7 359.7 L58.2 359.7 L59.7 359.7 L61.2 359.6 L62.7 359.6 L64.2 359.6 L65.7 359.6 L67.2 359.6 L68.7 359.5 L70.2 359.5 L71.7 359.4 L73.2 359.4 L74.7 359.3 L76.2 359.2 L77.7 359.1 L79.2 358.9 L80.7 358.8 L82.2 358.6 L83.7 358.3 L85.2 358.0 L86.7 357.7 L88.2 357.4 L89.7 356.9 L91.2 356.4 L92.7 355.9 L94.2 355.2 L95.7 354.5 L97.2 353.6 L98.7 352.7 L100.2 351.6 L101.7 350.4 L103.2 349.1 L104.7 347.6 L106.2 345.9 L107.7 344.0 L109.2 341.9 L110.7 339.6 L112.2 337.0 L113.7 334.1 L115.2 331.0 L116.7 327.5 L118.2 323.7 L119.7 319.5 L121.2 315.0 L122.7 309.9" fill="none" stroke="#3a7cf0" stroke-opacity="0.51" stroke-width="0.92"/><path d="M31.2 361.7 L32.7 361.7 L34.2 361.7 L35.7 361.7 L37.2 361.7 L38.7 361.7 L40.2 361.7 L41.7 361.7 L43.2 361.7 L44.7 361.7 L46.2 361.7 L47.7 361.7 L49.2 361.7 L50.7 361.7 L52.2 361.7 L53.7 361.7 L55.2 361.7 L56.7 361.7 L58.2 361.7 L59.7 361.7 L61.2 361.7 L62.7 361.6 L64.2 361.6 L65.7 361.6 L67.2 361.6 L68.7 361.5 L70.2 361.5 L71.7 361.4 L73.2 361.3 L74.7 361.2 L76.2 361.1 L77.7 361.0 L79.2 360.8 L80.7 360.7 L82.2 360.4 L83.7 360.2 L85.2 359.9 L86.7 359.5 L88.2 359.1 L89.7 358.7 L91.2 358.1 L92.7 357.5 L94.2 356.9 L95.7 356.1 L97.2 355.2 L98.7 354.2 L100.2 353.1 L101.7 351.8 L103.2 350.4 L104.7 348.9 L106.2 347.1 L107.7 345.2 L109.2 343.1 L110.7 340.7 L112.2 338.1 L113.7 335.2 L115.2 332.0 L116.7 328.5 L118.2 324.7 L119.7 320.5 L121.2 315.9 L122.7 310.9" fill="none" stroke="#2aa8ee" stroke-opacity="0.50" stroke-width="1.76"/><path d="M31.2 364.3 L32.7 364.3 L34.2 364.3 L35.7 364.3 L37.2 364.3 L38.7 364.3 L40.2 364.3 L41.7 364.3 L43.2 364.3 L44.7 364.3 L46.2 364.3 L47.7 364.3 L49.2 364.3 L50.7 364.2 L52.2 364.2 L53.7 364.2 L55.2 364.2 L56.7 364.2 L58.2 364.2 L59.7 364.2 L61.2 364.2 L62.7 364.2 L64.2 364.2 L65.7 364.1 L67.2 364.1 L68.7 364.0 L70.2 364.0 L71.7 363.9 L73.2 363.8 L74.7 363.7 L76.2 363.6 L77.7 363.4 L79.2 363.2 L80.7 363.0 L82.2 362.8 L83.7 362.5 L85.2 362.2 L86.7 361.8 L88.2 361.3 L89.7 360.8 L91.2 360.3 L92.7 359.6 L94.2 358.9 L95.7 358.1 L97.2 357.1 L98.7 356.1 L100.2 354.9 L101.7 353.6 L103.2 352.1 L104.7 350.5 L106.2 348.7 L107.7 346.7 L109.2 344.5 L110.7 342.0 L112.2 339.4 L113.7 336.4 L115.2 333.2 L116.7 329.7 L118.2 325.8 L119.7 321.6 L121.2 317.1 L122.7 312.1 L124.2 314.7" fill="none" stroke="#30b8d8" stroke-opacity="0.67" stroke-width="0.79"/><path d="M31.2 367.2 L32.7 367.2 L34.2 367.2 L35.7 367.2 L37.2 367.2 L38.7 367.2 L40.2 367.2 L41.7 367.2 L43.2 367.2 L44.7 367.2 L46.2 367.2 L47.7 367.2 L49.2 367.2 L50.7 367.2 L52.2 367.2 L53.7 367.2 L55.2 367.1 L56.7 367.1 L58.2 367.1 L59.7 367.1 L61.2 367.1 L62.7 367.1 L64.2 367.0 L65.7 367.0 L67.2 366.9 L68.7 366.9 L70.2 366.8 L71.7 366.7 L73.2 366.6 L74.7 366.5 L76.2 366.3 L77.7 366.2 L79.2 366.0 L80.7 365.7 L82.2 365.4 L83.7 365.1 L85.2 364.7 L86.7 364.3 L88.2 363.8 L89.7 363.3 L91.2 362.6 L92.7 361.9 L94.2 361.1 L95.7 360.2 L97.2 359.2 L98.7 358.1 L100.2 356.9 L101.7 355.5 L103.2 353.9 L104.7 352.2 L106.2 350.4 L107.7 348.3 L109.2 346.0 L110.7 343.5 L112.2 340.8 L113.7 337.8 L115.2 334.5 L116.7 331.0 L118.2 327.1 L119.7 322.9 L121.2 318.4 L122.7 313.4 L124.2 314.7" fill="none" stroke="#5070ea" stroke-opacity="0.57" stroke-width="1.11"/><path d="M31.2 369.5 L32.7 369.5 L34.2 369.5 L35.7 369.5 L37.2 369.5 L38.7 369.5 L40.2 369.5 L41.7 369.5 L43.2 369.5 L44.7 369.5 L46.2 369.5 L47.7 369.5 L49.2 369.5 L50.7 369.5 L52.2 369.5 L53.7 369.5 L55.2 369.5 L56.7 369.5 L58.2 369.5 L59.7 369.5 L61.2 369.4 L62.7 369.4 L64.2 369.4 L65.7 369.3 L67.2 369.3 L68.7 369.2 L70.2 369.1 L71.7 369.0 L73.2 368.9 L74.7 368.7 L76.2 368.6 L77.7 368.4 L79.2 368.1 L80.7 367.8 L82.2 367.5 L83.7 367.2 L85.2 366.8 L86.7 366.3 L88.2 365.8 L89.7 365.2 L91.2 364.5 L92.7 363.7 L94.2 362.9 L95.7 361.9 L97.2 360.9 L98.7 359.7 L100.2 358.4 L101.7 356.9 L103.2 355.3 L104.7 353.6 L106.2 351.6 L107.7 349.5 L109.2 347.2 L110.7 344.7 L112.2 341.9 L113.7 338.9 L115.2 335.6 L116.7 332.0 L118.2 328.1 L119.7 323.9 L121.2 319.4 L122.7 314.5 L124.2 314.7" fill="none" stroke="#2aa8ee" stroke-opacity="0.43" stroke-width="1.03"/><path d="M31.2 372.6 L32.7 372.6 L34.2 372.6 L35.7 372.6 L37.2 372.6 L38.7 372.6 L40.2 372.6 L41.7 372.6 L43.2 372.6 L44.7 372.6 L46.2 372.6 L47.7 372.6 L49.2 372.6 L50.7 372.6 L52.2 372.6 L53.7 372.6 L55.2 372.6 L56.7 372.6 L58.2 372.6 L59.7 372.5 L61.2 372.5 L62.7 372.5 L64.2 372.4 L65.7 372.4 L67.2 372.3 L68.7 372.2 L70.2 372.1 L71.7 372.0 L73.2 371.8 L74.7 371.6 L76.2 371.4 L77.7 371.2 L79.2 370.9 L80.7 370.6 L82.2 370.3 L83.7 369.9 L85.2 369.4 L86.7 368.9 L88.2 368.3 L89.7 367.6 L91.2 366.9 L92.7 366.0 L94.2 365.1 L95.7 364.1 L97.2 362.9 L98.7 361.7 L100.2 360.3 L101.7 358.8 L103.2 357.1 L104.7 355.3 L106.2 353.2 L107.7 351.0 L109.2 348.7 L110.7 346.1 L112.2 343.2 L113.7 340.2 L115.2 336.8 L116.7 333.3 L118.2 329.4 L119.7 325.2 L121.2 320.7 L122.7 315.9 L124.2 314.7" fill="none" stroke="#2cb0e4" stroke-opacity="0.51" stroke-width="1.23"/><path d="M31.2 375.5 L32.7 375.5 L34.2 375.5 L35.7 375.5 L37.2 375.5 L38.7 375.5 L40.2 375.5 L41.7 375.5 L43.2 375.5 L44.7 375.5 L46.2 375.5 L47.7 375.5 L49.2 375.5 L50.7 375.5 L52.2 375.5 L53.7 375.5 L55.2 375.4 L56.7 375.4 L58.2 375.4 L59.7 375.4 L61.2 375.3 L62.7 375.3 L64.2 375.2 L65.7 375.1 L67.2 375.1 L68.7 374.9 L70.2 374.8 L71.7 374.7 L73.2 374.5 L74.7 374.3 L76.2 374.1 L77.7 373.8 L79.2 373.5 L80.7 373.1 L82.2 372.7 L83.7 372.2 L85.2 371.7 L86.7 371.1 L88.2 370.5 L89.7 369.8 L91.2 369.0 L92.7 368.0 L94.2 367.1 L95.7 366.0 L97.2 364.7 L98.7 363.4 L100.2 361.9 L101.7 360.3 L103.2 358.6 L104.7 356.7 L106.2 354.6 L107.7 352.3 L109.2 349.9 L110.7 347.2 L112.2 344.4 L113.7 341.3 L115.2 337.9 L116.7 334.3 L118.2 330.5 L119.7 326.3 L121.2 321.8 L122.7 317.1 L124.2 314.7 L125.7 319.7" fill="none" stroke="#2aa8ee" stroke-opacity="0.51" stroke-width="1.45"/><path d="M31.2 377.8 L32.7 377.8 L34.2 377.8 L35.7 377.8 L37.2 377.8 L38.7 377.8 L40.2 377.8 L41.7 377.8 L43.2 377.8 L44.7 377.8 L46.2 377.8 L47.7 377.8 L49.2 377.8 L50.7 377.8 L52.2 377.8 L53.7 377.8 L55.2 377.8 L56.7 377.7 L58.2 377.7 L59.7 377.7 L61.2 377.6 L62.7 377.6 L64.2 377.5 L65.7 377.4 L67.2 377.3 L68.7 377.2 L70.2 377.0 L71.7 376.8 L73.2 376.6 L74.7 376.4 L76.2 376.1 L77.7 375.8 L79.2 375.5 L80.7 375.1 L82.2 374.6 L83.7 374.1 L85.2 373.6 L86.7 372.9 L88.2 372.2 L89.7 371.4 L91.2 370.6 L92.7 369.6 L94.2 368.5 L95.7 367.4 L97.2 366.1 L98.7 364.7 L100.2 363.2 L101.7 361.5 L103.2 359.7 L104.7 357.7 L106.2 355.6 L107.7 353.3 L109.2 350.8 L110.7 348.1 L112.2 345.2 L113.7 342.1 L115.2 338.7 L116.7 335.1 L118.2 331.3 L119.7 327.1 L121.2 322.7 L122.7 318.0 L124.2 314.7 L125.7 319.7" fill="none" stroke="#4a68e8" stroke-opacity="0.67" stroke-width="1.51"/><path d="M31.2 379.6 L32.7 379.6 L34.2 379.6 L35.7 379.6 L37.2 379.6 L38.7 379.6 L40.2 379.6 L41.7 379.6 L43.2 379.6 L44.7 379.6 L46.2 379.6 L47.7 379.6 L49.2 379.6 L50.7 379.6 L52.2 379.6 L53.7 379.6 L55.2 379.5 L56.7 379.5 L58.2 379.5 L59.7 379.4 L61.2 379.4 L62.7 379.3 L64.2 379.2 L65.7 379.1 L67.2 379.0 L68.7 378.8 L70.2 378.7 L71.7 378.5 L73.2 378.3 L74.7 378.0 L76.2 377.7 L77.7 377.4 L79.2 377.0 L80.7 376.6 L82.2 376.1 L83.7 375.5 L85.2 374.9 L86.7 374.2 L88.2 373.5 L89.7 372.7 L91.2 371.8 L92.7 370.7 L94.2 369.6 L95.7 368.4 L97.2 367.1 L98.7 365.7 L100.2 364.1 L101.7 362.4 L103.2 360.5 L104.7 358.5 L106.2 356.3 L107.7 354.0 L109.2 351.5 L110.7 348.7 L112.2 345.8 L113.7 342.7 L115.2 339.3 L116.7 335.7 L118.2 331.9 L119.7 327.7 L121.2 323.4 L122.7 318.7 L124.2 314.7 L125.7 319.7" fill="none" stroke="#5070ea" stroke-opacity="0.46" stroke-width="1.77"/><path d="M31.2 381.8 L32.7 381.8 L34.2 381.8 L35.7 381.8 L37.2 381.8 L38.7 381.8 L40.2 381.8 L41.7 381.8 L43.2 381.8 L44.7 381.8 L46.2 381.8 L47.7 381.7 L49.2 381.7 L50.7 381.7 L52.2 381.7 L53.7 381.7 L55.2 381.7 L56.7 381.6 L58.2 381.6 L59.7 381.5 L61.2 381.4 L62.7 381.4 L64.2 381.3 L65.7 381.1 L67.2 381.0 L68.7 380.8 L70.2 380.6 L71.7 380.4 L73.2 380.2 L74.7 379.9 L76.2 379.5 L77.7 379.2 L79.2 378.8 L80.7 378.3 L82.2 377.8 L83.7 377.2 L85.2 376.5 L86.7 375.8 L88.2 375.0 L89.7 374.1 L91.2 373.1 L92.7 372.1 L94.2 370.9 L95.7 369.6 L97.2 368.2 L98.7 366.7 L100.2 365.1 L101.7 363.3 L103.2 361.4 L104.7 359.4 L106.2 357.1 L107.7 354.7 L109.2 352.2 L110.7 349.4 L112.2 346.5 L113.7 343.3 L115.2 339.9 L116.7 336.3 L118.2 332.5 L119.7 328.4 L121.2 324.1 L122.7 319.5 L124.2 314.7 L125.7 319.7" fill="none" stroke="#5070ea" stroke-opacity="0.51" stroke-width="1.38"/><path d="M31.2 383.5 L32.7 383.5 L34.2 383.5 L35.7 383.5 L37.2 383.5 L38.7 383.5 L40.2 383.5 L41.7 383.5 L43.2 383.5 L44.7 383.5 L46.2 383.5 L47.7 383.5 L49.2 383.5 L50.7 383.5 L52.2 383.5 L53.7 383.4 L55.2 383.4 L56.7 383.4 L58.2 383.3 L59.7 383.2 L61.2 383.2 L62.7 383.1 L64.2 382.9 L65.7 382.8 L67.2 382.7 L68.7 382.5 L70.2 382.2 L71.7 382.0 L73.2 381.7 L74.7 381.4 L76.2 381.0 L77.7 380.6 L79.2 380.2 L80.7 379.7 L82.2 379.1 L83.7 378.5 L85.2 377.8 L86.7 377.0 L88.2 376.1 L89.7 375.2 L91.2 374.2 L92.7 373.1 L94.2 371.8 L95.7 370.5 L97.2 369.1 L98.7 367.5 L100.2 365.9 L101.7 364.0 L103.2 362.1 L104.7 360.0 L106.2 357.7 L107.7 355.3 L109.2 352.7 L110.7 349.9 L112.2 347.0 L113.7 343.8 L115.2 340.4 L116.7 336.8 L118.2 333.0 L119.7 329.0 L121.2 324.7 L122.7 320.1 L124.2 315.3 L125.7 319.7" fill="none" stroke="#2f9cf0" stroke-opacity="0.69" stroke-width="1.74"/><path d="M31.2 385.2 L32.7 385.2 L34.2 385.2 L35.7 385.2 L37.2 385.2 L38.7 385.2 L40.2 385.2 L41.7 385.2 L43.2 385.2 L44.7 385.2 L46.2 385.2 L47.7 385.2 L49.2 385.2 L50.7 385.1 L52.2 385.1 L53.7 385.1 L55.2 385.0 L56.7 385.0 L58.2 384.9 L59.7 384.8 L61.2 384.7 L62.7 384.6 L64.2 384.5 L65.7 384.4 L67.2 384.2 L68.7 384.0 L70.2 383.7 L71.7 383.5 L73.2 383.1 L74.7 382.8 L76.2 382.4 L77.7 382.0 L79.2 381.5 L80.7 380.9 L82.2 380.3 L83.7 379.6 L85.2 378.9 L86.7 378.1 L88.2 377.2 L89.7 376.2 L91.2 375.1 L92.7 374.0 L94.2 372.7 L95.7 371.3 L97.2 369.8 L98.7 368.2 L100.2 366.5 L101.7 364.7 L103.2 362.7 L104.7 360.5 L106.2 358.2 L107.7 355.8 L109.2 353.1 L110.7 350.3 L112.2 347.4 L113.7 344.2 L115.2 340.8 L116.7 337.2 L118.2 333.4 L119.7 329.4 L121.2 325.2 L122.7 320.6 L124.2 315.9 L125.7 319.7" fill="none" stroke="#30b8d8" stroke-opacity="0.78" stroke-width="0.82"/><path d="M31.2 387.6 L32.7 387.6 L34.2 387.6 L35.7 387.6 L37.2 387.6 L38.7 387.6 L40.2 387.6 L41.7 387.6 L43.2 387.6 L44.7 387.6 L46.2 387.6 L47.7 387.6 L49.2 387.6 L50.7 387.5 L52.2 387.5 L53.7 387.5 L55.2 387.4 L56.7 387.3 L58.2 387.3 L59.7 387.2 L61.2 387.0 L62.7 386.9 L64.2 386.8 L65.7 386.6 L67.2 386.4 L68.7 386.1 L70.2 385.8 L71.7 385.5 L73.2 385.2 L74.7 384.8 L76.2 384.3 L77.7 383.8 L79.2 383.3 L80.7 382.7 L82.2 382.0 L83.7 381.2 L85.2 380.4 L86.7 379.5 L88.2 378.6 L89.7 377.5 L91.2 376.4 L92.7 375.2 L94.2 373.8 L95.7 372.4 L97.2 370.8 L98.7 369.1 L100.2 367.4 L101.7 365.4 L103.2 363.4 L104.7 361.2 L106.2 358.8 L107.7 356.3 L109.2 353.7 L110.7 350.9 L112.2 347.9 L113.7 344.7 L115.2 341.3 L116.7 337.8 L118.2 334.0 L119.7 330.0 L121.2 325.8 L122.7 321.4 L124.2 316.7 L125.7 319.7 L127.2 325.1" fill="none" stroke="#2f9cf0" stroke-opacity="0.51" stroke-width="0.89"/><path d="M31.2 390.7 L32.7 390.7 L34.2 390.7 L35.7 390.7 L37.2 390.7 L38.7 390.7 L40.2 390.7 L41.7 390.7 L43.2 390.7 L44.7 390.7 L46.2 390.7 L47.7 390.6 L49.2 390.6 L50.7 390.6 L52.2 390.5 L53.7 390.5 L55.2 390.4 L56.7 390.3 L58.2 390.2 L59.7 390.1 L61.2 389.9 L62.7 389.7 L64.2 389.5 L65.7 389.3 L67.2 389.0 L68.7 388.7 L70.2 388.4 L71.7 388.0 L73.2 387.6 L74.7 387.1 L76.2 386.6 L77.7 386.0 L79.2 385.4 L80.7 384.7 L82.2 384.0 L83.7 383.1 L85.2 382.2 L86.7 381.2 L88.2 380.2 L89.7 379.0 L91.2 377.8 L92.7 376.5 L94.2 375.0 L95.7 373.5 L97.2 371.9 L98.7 370.1 L100.2 368.2 L101.7 366.2 L103.2 364.1 L104.7 361.8 L106.2 359.4 L107.7 356.9 L109.2 354.2 L110.7 351.4 L112.2 348.3 L113.7 345.2 L115.2 341.8 L116.7 338.3 L118.2 334.6 L119.7 330.6 L121.2 326.5 L122.7 322.2 L124.2 317.7 L125.7 319.7 L127.2 325.1" fill="none" stroke="#30b8d8" stroke-opacity="0.60" stroke-width="1.11"/><path d="M31.2 392.8 L32.7 392.8 L34.2 392.8 L35.7 392.8 L37.2 392.8 L38.7 392.8 L40.2 392.8 L41.7 392.8 L43.2 392.8 L44.7 392.7 L46.2 392.7 L47.7 392.7 L49.2 392.7 L50.7 392.6 L52.2 392.6 L53.7 392.5 L55.2 392.4 L56.7 392.3 L58.2 392.1 L59.7 392.0 L61.2 391.8 L62.7 391.6 L64.2 391.4 L65.7 391.1 L67.2 390.8 L68.7 390.5 L70.2 390.1 L71.7 389.7 L73.2 389.2 L74.7 388.7 L76.2 388.1 L77.7 387.4 L79.2 386.7 L80.7 386.0 L82.2 385.2 L83.7 384.3 L85.2 383.3 L86.7 382.3 L88.2 381.1 L89.7 379.9 L91.2 378.6 L92.7 377.2 L94.2 375.7 L95.7 374.1 L97.2 372.4 L98.7 370.6 L100.2 368.7 L101.7 366.6 L103.2 364.4 L104.7 362.1 L106.2 359.7 L107.7 357.1 L109.2 354.4 L110.7 351.6 L112.2 348.5 L113.7 345.4 L115.2 342.0 L116.7 338.5 L118.2 334.8 L119.7 331.0 L121.2 327.0 L122.7 322.7 L124.2 318.3 L125.7 319.7 L127.2 325.1" fill="none" stroke="#2f9cf0" stroke-opacity="0.71" stroke-width="1.51"/><path d="M31.2 396.0 L32.7 396.0 L34.2 396.0 L35.7 396.0 L37.2 396.0 L38.7 396.0 L40.2 396.0 L41.7 396.0 L43.2 395.9 L44.7 395.9 L46.2 395.9 L47.7 395.8 L49.2 395.8 L50.7 395.7 L52.2 395.6 L53.7 395.5 L55.2 395.4 L56.7 395.2 L58.2 395.1 L59.7 394.9 L61.2 394.6 L62.7 394.4 L64.2 394.1 L65.7 393.7 L67.2 393.4 L68.7 392.9 L70.2 392.5 L71.7 392.0 L73.2 391.4 L74.7 390.8 L76.2 390.1 L77.7 389.4 L79.2 388.6 L80.7 387.7 L82.2 386.8 L83.7 385.8 L85.2 384.7 L86.7 383.6 L88.2 382.3 L89.7 381.0 L91.2 379.6 L92.7 378.1 L94.2 376.5 L95.7 374.8 L97.2 373.0 L98.7 371.1 L100.2 369.1 L101.7 367.0 L103.2 364.7 L104.7 362.4 L106.2 359.9 L107.7 357.3 L109.2 354.5 L110.7 351.7 L112.2 348.7 L113.7 345.5 L115.2 342.2 L116.7 338.7 L118.2 335.1 L119.7 331.4 L121.2 327.4 L122.7 323.4 L124.2 319.1 L125.7 319.7 L127.2 325.1" fill="none" stroke="#2cb0e4" stroke-opacity="0.42" stroke-width="0.76"/><path d="M31.2 399.1 L32.7 399.1 L34.2 399.1 L35.7 399.1 L37.2 399.1 L38.7 399.0 L40.2 399.0 L41.7 399.0 L43.2 399.0 L44.7 398.9 L46.2 398.9 L47.7 398.8 L49.2 398.7 L50.7 398.6 L52.2 398.5 L53.7 398.4 L55.2 398.2 L56.7 398.0 L58.2 397.8 L59.7 397.5 L61.2 397.2 L62.7 396.9 L64.2 396.5 L65.7 396.1 L67.2 395.6 L68.7 395.1 L70.2 394.6 L71.7 394.0 L73.2 393.3 L74.7 392.6 L76.2 391.8 L77.7 391.0 L79.2 390.1 L80.7 389.1 L82.2 388.0 L83.7 386.9 L85.2 385.7 L86.7 384.5 L88.2 383.1 L89.7 381.7 L91.2 380.2 L92.7 378.6 L94.2 376.9 L95.7 375.1 L97.2 373.2 L98.7 371.3 L100.2 369.2 L101.7 367.0 L103.2 364.7 L104.7 362.3 L106.2 359.8 L107.7 357.1 L109.2 354.4 L110.7 351.5 L112.2 348.5 L113.7 345.4 L115.2 342.1 L116.7 338.7 L118.2 335.2 L119.7 331.6 L121.2 327.8 L122.7 323.8 L124.2 319.7 L125.7 319.7 L127.2 325.1 L128.7 330.2" fill="none" stroke="#30b8d8" stroke-opacity="0.36" stroke-width="1.66"/><path d="M31.2 402.0 L32.7 402.0 L34.2 402.0 L35.7 402.0 L37.2 402.0 L38.7 402.0 L40.2 401.9 L41.7 401.9 L43.2 401.9 L44.7 401.8 L46.2 401.7 L47.7 401.6 L49.2 401.5 L50.7 401.4 L52.2 401.2 L53.7 401.0 L55.2 400.8 L56.7 400.5 L58.2 400.2 L59.7 399.9 L61.2 399.5 L62.7 399.1 L64.2 398.6 L65.7 398.1 L67.2 397.5 L68.7 396.9 L70.2 396.3 L71.7 395.6 L73.2 394.8 L74.7 394.0 L76.2 393.1 L77.7 392.1 L79.2 391.1 L80.7 390.0 L82.2 388.9 L83.7 387.7 L85.2 386.4 L86.7 385.0 L88.2 383.5 L89.7 382.0 L91.2 380.4 L92.7 378.7 L94.2 376.9 L95.7 375.1 L97.2 373.1 L98.7 371.1 L100.2 368.9 L101.7 366.7 L103.2 364.3 L104.7 361.9 L106.2 359.4 L107.7 356.7 L109.2 354.0 L110.7 351.1 L112.2 348.1 L113.7 345.0 L115.2 341.9 L116.7 338.5 L118.2 335.1 L119.7 331.6 L121.2 327.9 L122.7 324.1 L124.2 320.2 L125.7 319.7 L127.2 325.1 L128.7 330.2" fill="none" stroke="#2aa8ee" stroke-opacity="0.56" stroke-width="1.25"/><path d="M235.6 338.0 L234.1 338.0 L232.6 338.0 L231.1 338.0 L229.6 338.0 L228.1 338.0 L226.6 338.0 L225.1 338.0 L223.6 338.0 L222.1 338.0 L220.6 338.0 L219.1 338.0 L217.6 338.0 L216.1 338.0 L214.6 338.0 L213.1 338.0 L211.6 338.0 L210.1 338.0 L208.6 338.0 L207.1 338.0 L205.6 338.0 L204.1 338.0 L202.6 338.0 L201.1 338.0 L199.6 338.0 L198.1 338.0 L196.6 338.0 L195.1 338.0 L193.6 337.9 L192.1 337.9 L190.6 337.9 L189.1 337.9 L187.6 337.8 L186.1 337.8 L184.6 337.7 L183.1 337.6 L181.6 337.5 L180.1 337.4 L178.6 337.2 L177.1 337.1 L175.6 336.8 L174.1 336.6 L172.6 336.3 L171.1 335.9 L169.6 335.4 L168.1 334.9 L166.6 334.3 L165.1 333.6 L163.6 332.8 L162.1 331.8 L160.6 330.7 L159.1 329.4 L157.6 327.9 L156.1 326.2 L154.6 324.3 L153.1 322.0 L151.6 319.5 L150.1 316.6 L148.6 313.3 L147.1 309.6" fill="none" stroke="#30b8d8" stroke-opacity="0.64" stroke-width="1.74"/><path d="M235.6 340.9 L234.1 340.9 L232.6 340.9 L231.1 340.9 L229.6 340.9 L228.1 340.9 L226.6 340.9 L225.1 340.9 L223.6 340.9 L222.1 340.9 L220.6 340.9 L219.1 340.9 L217.6 340.9 L216.1 340.9 L214.6 340.9 L213.1 340.9 L211.6 340.9 L210.1 340.9 L208.6 340.9 L207.1 340.9 L205.6 340.9 L204.1 340.9 L202.6 340.9 L201.1 340.9 L199.6 340.9 L198.1 340.9 L196.6 340.9 L195.1 340.9 L193.6 340.9 L192.1 340.8 L190.6 340.8 L189.1 340.8 L187.6 340.7 L186.1 340.7 L184.6 340.6 L183.1 340.5 L181.6 340.4 L180.1 340.2 L178.6 340.0 L177.1 339.8 L175.6 339.6 L174.1 339.3 L172.6 338.9 L171.1 338.5 L169.6 338.0 L168.1 337.5 L166.6 336.8 L165.1 336.0 L163.6 335.1 L162.1 334.1 L160.6 332.9 L159.1 331.5 L157.6 329.9 L156.1 328.1 L154.6 326.1 L153.1 323.7 L151.6 321.1 L150.1 318.1 L148.6 314.7 L147.1 310.8 L145.6 306.5" fill="none" stroke="#3a7cf0" stroke-opacity="0.41" stroke-width="1.65"/><path d="M235.6 343.6 L234.1 343.6 L232.6 343.6 L231.1 343.6 L229.6 343.6 L228.1 343.6 L226.6 343.6 L225.1 343.6 L223.6 343.6 L222.1 343.6 L220.6 343.6 L219.1 343.6 L217.6 343.6 L216.1 343.5 L214.6 343.5 L213.1 343.5 L211.6 343.5 L210.1 343.5 L208.6 343.5 L207.1 343.5 L205.6 343.5 L204.1 343.5 L202.6 343.5 L201.1 343.5 L199.6 343.5 L198.1 343.5 L196.6 343.5 L195.1 343.5 L193.6 343.5 L192.1 343.4 L190.6 343.4 L189.1 343.3 L187.6 343.3 L186.1 343.2 L184.6 343.1 L183.1 343.0 L181.6 342.9 L180.1 342.7 L178.6 342.5 L177.1 342.3 L175.6 342.0 L174.1 341.7 L172.6 341.3 L171.1 340.8 L169.6 340.3 L168.1 339.7 L166.6 339.0 L165.1 338.1 L163.6 337.2 L162.1 336.1 L160.6 334.8 L159.1 333.4 L157.6 331.7 L156.1 329.8 L154.6 327.7 L153.1 325.2 L151.6 322.5 L150.1 319.4 L148.6 315.9 L147.1 312.0 L145.6 307.6" fill="none" stroke="#3a8cf4" stroke-opacity="0.70" stroke-width="0.84"/><path d="M235.6 345.7 L234.1 345.7 L232.6 345.7 L231.1 345.7 L229.6 345.7 L228.1 345.7 L226.6 345.7 L225.1 345.7 L223.6 345.7 L222.1 345.7 L220.6 345.7 L219.1 345.7 L217.6 345.7 L216.1 345.7 L214.6 345.7 L213.1 345.7 L211.6 345.7 L210.1 345.7 L208.6 345.7 L207.1 345.7 L205.6 345.7 L204.1 345.7 L202.6 345.7 L201.1 345.7 L199.6 345.7 L198.1 345.7 L196.6 345.7 L195.1 345.7 L193.6 345.6 L192.1 345.6 L190.6 345.6 L189.1 345.5 L187.6 345.4 L186.1 345.4 L184.6 345.3 L183.1 345.1 L181.6 345.0 L180.1 344.8 L178.6 344.6 L177.1 344.3 L175.6 344.0 L174.1 343.7 L172.6 343.3 L171.1 342.8 L169.6 342.2 L168.1 341.6 L166.6 340.8 L165.1 339.9 L163.6 338.9 L162.1 337.7 L160.6 336.4 L159.1 334.9 L157.6 333.2 L156.1 331.2 L154.6 329.0 L153.1 326.5 L151.6 323.7 L150.1 320.5 L148.6 317.0 L147.1 313.0 L145.6 308.6" fill="none" stroke="#3a7cf0" stroke-opacity="0.38" stroke-width="1.25"/><path d="M235.6 348.1 L234.1 348.1 L232.6 348.1 L231.1 348.1 L229.6 348.1 L228.1 348.1 L226.6 348.1 L225.1 348.1 L223.6 348.1 L222.1 348.1 L220.6 348.1 L219.1 348.1 L217.6 348.1 L216.1 348.1 L214.6 348.1 L213.1 348.1 L211.6 348.1 L210.1 348.1 L208.6 348.1 L207.1 348.1 L205.6 348.1 L204.1 348.1 L202.6 348.1 L201.1 348.0 L199.6 348.0 L198.1 348.0 L196.6 348.0 L195.1 348.0 L193.6 347.9 L192.1 347.9 L190.6 347.9 L189.1 347.8 L187.6 347.7 L186.1 347.6 L184.6 347.5 L183.1 347.4 L181.6 347.2 L180.1 347.0 L178.6 346.8 L177.1 346.5 L175.6 346.2 L174.1 345.8 L172.6 345.3 L171.1 344.8 L169.6 344.2 L168.1 343.5 L166.6 342.7 L165.1 341.7 L163.6 340.7 L162.1 339.5 L160.6 338.1 L159.1 336.5 L157.6 334.7 L156.1 332.7 L154.6 330.4 L153.1 327.8 L151.6 324.9 L150.1 321.7 L148.6 318.1 L147.1 314.1 L145.6 309.6" fill="none" stroke="#2cb0e4" stroke-opacity="0.80" stroke-width="1.81"/><path d="M235.6 350.4 L234.1 350.4 L232.6 350.4 L231.1 350.4 L229.6 350.4 L228.1 350.4 L226.6 350.4 L225.1 350.4 L223.6 350.4 L222.1 350.4 L220.6 350.4 L219.1 350.4 L217.6 350.4 L216.1 350.4 L214.6 350.4 L213.1 350.4 L211.6 350.4 L210.1 350.4 L208.6 350.4 L207.1 350.4 L205.6 350.4 L204.1 350.4 L202.6 350.4 L201.1 350.4 L199.6 350.3 L198.1 350.3 L196.6 350.3 L195.1 350.3 L193.6 350.2 L192.1 350.2 L190.6 350.1 L189.1 350.1 L187.6 350.0 L186.1 349.9 L184.6 349.7 L183.1 349.6 L181.6 349.4 L180.1 349.2 L178.6 348.9 L177.1 348.6 L175.6 348.3 L174.1 347.9 L172.6 347.4 L171.1 346.8 L169.6 346.2 L168.1 345.4 L166.6 344.5 L165.1 343.6 L163.6 342.4 L162.1 341.2 L160.6 339.7 L159.1 338.1 L157.6 336.2 L156.1 334.1 L154.6 331.8 L153.1 329.1 L151.6 326.2 L150.1 322.9 L148.6 319.2 L147.1 315.2 L145.6 310.6" fill="none" stroke="#5070ea" stroke-opacity="0.57" stroke-width="1.65"/><path d="M235.6 352.4 L234.1 352.4 L232.6 352.4 L231.1 352.4 L229.6 352.4 L228.1 352.4 L226.6 352.4 L225.1 352.4 L223.6 352.4 L222.1 352.4 L220.6 352.4 L219.1 352.4 L217.6 352.4 L216.1 352.4 L214.6 352.4 L213.1 352.4 L211.6 352.4 L210.1 352.4 L208.6 352.4 L207.1 352.4 L205.6 352.4 L204.1 352.4 L202.6 352.4 L201.1 352.4 L199.6 352.4 L198.1 352.4 L196.6 352.3 L195.1 352.3 L193.6 352.3 L192.1 352.2 L190.6 352.1 L189.1 352.1 L187.6 352.0 L186.1 351.8 L184.6 351.7 L183.1 351.5 L181.6 351.3 L180.1 351.1 L178.6 350.8 L177.1 350.5 L175.6 350.1 L174.1 349.7 L172.6 349.1 L171.1 348.5 L169.6 347.8 L168.1 347.1 L166.6 346.1 L165.1 345.1 L163.6 343.9 L162.1 342.6 L160.6 341.1 L159.1 339.4 L157.6 337.5 L156.1 335.4 L154.6 333.0 L153.1 330.3 L151.6 327.3 L150.1 323.9 L148.6 320.2 L147.1 316.1 L145.6 311.6 L144.1 309.9" fill="none" stroke="#38b4f0" stroke-opacity="0.56" stroke-width="1.87"/><path d="M235.6 354.6 L234.1 354.6 L232.6 354.6 L231.1 354.6 L229.6 354.6 L228.1 354.6 L226.6 354.6 L225.1 354.6 L223.6 354.6 L222.1 354.6 L220.6 354.6 L219.1 354.6 L217.6 354.6 L216.1 354.6 L214.6 354.6 L213.1 354.6 L211.6 354.6 L210.1 354.6 L208.6 354.6 L207.1 354.6 L205.6 354.6 L204.1 354.6 L202.6 354.6 L201.1 354.6 L199.6 354.6 L198.1 354.5 L196.6 354.5 L195.1 354.5 L193.6 354.4 L192.1 354.4 L190.6 354.3 L189.1 354.2 L187.6 354.1 L186.1 354.0 L184.6 353.8 L183.1 353.6 L181.6 353.4 L180.1 353.1 L178.6 352.8 L177.1 352.5 L175.6 352.1 L174.1 351.6 L172.6 351.0 L171.1 350.4 L169.6 349.6 L168.1 348.8 L166.6 347.9 L165.1 346.8 L163.6 345.5 L162.1 344.2 L160.6 342.6 L159.1 340.8 L157.6 338.9 L156.1 336.7 L154.6 334.2 L153.1 331.5 L151.6 328.4 L150.1 325.1 L148.6 321.3 L147.1 317.2 L145.6 312.6 L144.1 309.9" fill="none" stroke="#5070ea" stroke-opacity="0.79" stroke-width="1.95"/><path d="M235.6 357.6 L234.1 357.6 L232.6 357.6 L231.1 357.6 L229.6 357.6 L228.1 357.6 L226.6 357.6 L225.1 357.6 L223.6 357.6 L222.1 357.6 L220.6 357.6 L219.1 357.6 L217.6 357.6 L216.1 357.6 L214.6 357.6 L213.1 357.6 L211.6 357.6 L210.1 357.6 L208.6 357.6 L207.1 357.6 L205.6 357.6 L204.1 357.6 L202.6 357.6 L201.1 357.6 L199.6 357.5 L198.1 357.5 L196.6 357.5 L195.1 357.4 L193.6 357.4 L192.1 357.3 L190.6 357.2 L189.1 357.1 L187.6 357.0 L186.1 356.8 L184.6 356.6 L183.1 356.4 L181.6 356.2 L180.1 355.9 L178.6 355.5 L177.1 355.1 L175.6 354.7 L174.1 354.1 L172.6 353.5 L171.1 352.8 L169.6 352.0 L168.1 351.1 L166.6 350.1 L165.1 349.0 L163.6 347.7 L162.1 346.2 L160.6 344.6 L159.1 342.7 L157.6 340.7 L156.1 338.4 L154.6 335.9 L153.1 333.1 L151.6 330.0 L150.1 326.5 L148.6 322.8 L147.1 318.6 L145.6 314.0 L144.1 309.9" fill="none" stroke="#2cb0e4" stroke-opacity="0.43" stroke-width="1.34"/><path d="M235.6 360.5 L234.1 360.5 L232.6 360.5 L231.1 360.5 L229.6 360.5 L228.1 360.5 L226.6 360.5 L225.1 360.5 L223.6 360.5 L222.1 360.5 L220.6 360.5 L219.1 360.5 L217.6 360.5 L216.1 360.5 L214.6 360.5 L213.1 360.5 L211.6 360.5 L210.1 360.5 L208.6 360.5 L207.1 360.5 L205.6 360.4 L204.1 360.4 L202.6 360.4 L201.1 360.4 L199.6 360.4 L198.1 360.3 L196.6 360.3 L195.1 360.2 L193.6 360.1 L192.1 360.1 L190.6 360.0 L189.1 359.8 L187.6 359.7 L186.1 359.5 L184.6 359.3 L183.1 359.1 L181.6 358.8 L180.1 358.4 L178.6 358.1 L177.1 357.6 L175.6 357.1 L174.1 356.5 L172.6 355.9 L171.1 355.1 L169.6 354.3 L168.1 353.3 L166.6 352.2 L165.1 351.0 L163.6 349.6 L162.1 348.1 L160.6 346.4 L159.1 344.5 L157.6 342.4 L156.1 340.0 L154.6 337.4 L153.1 334.6 L151.6 331.4 L150.1 327.9 L148.6 324.1 L147.1 319.9 L145.6 315.3 L144.1 310.3" fill="none" stroke="#30b8d8" stroke-opacity="0.74" stroke-width="1.17"/><path d="M235.6 363.2 L234.1 363.2 L232.6 363.2 L231.1 363.2 L229.6 363.2 L228.1 363.2 L226.6 363.2 L225.1 363.2 L223.6 363.2 L222.1 363.2 L220.6 363.2 L219.1 363.2 L217.6 363.2 L216.1 363.2 L214.6 363.2 L213.1 363.2 L211.6 363.2 L210.1 363.2 L208.6 363.2 L207.1 363.2 L205.6 363.1 L204.1 363.1 L202.6 363.1 L201.1 363.1 L199.6 363.0 L198.1 363.0 L196.6 362.9 L195.1 362.9 L193.6 362.8 L192.1 362.7 L190.6 362.6 L189.1 362.4 L187.6 362.2 L186.1 362.0 L184.6 361.8 L183.1 361.5 L181.6 361.2 L180.1 360.9 L178.6 360.4 L177.1 359.9 L175.6 359.4 L174.1 358.8 L172.6 358.0 L171.1 357.2 L169.6 356.3 L168.1 355.3 L166.6 354.1 L165.1 352.9 L163.6 351.4 L162.1 349.8 L160.6 348.0 L159.1 346.1 L157.6 343.9 L156.1 341.5 L154.6 338.8 L153.1 335.9 L151.6 332.7 L150.1 329.2 L148.6 325.4 L147.1 321.2 L145.6 316.6 L144.1 311.6 L142.6 314.7" fill="none" stroke="#30b8d8" stroke-opacity="0.65" stroke-width="1.69"/><path d="M235.6 365.7 L234.1 365.7 L232.6 365.7 L231.1 365.7 L229.6 365.7 L228.1 365.7 L226.6 365.7 L225.1 365.7 L223.6 365.7 L222.1 365.7 L220.6 365.7 L219.1 365.7 L217.6 365.7 L216.1 365.7 L214.6 365.7 L213.1 365.7 L211.6 365.7 L210.1 365.7 L208.6 365.7 L207.1 365.6 L205.6 365.6 L204.1 365.6 L202.6 365.6 L201.1 365.5 L199.6 365.5 L198.1 365.4 L196.6 365.4 L195.1 365.3 L193.6 365.2 L192.1 365.1 L190.6 364.9 L189.1 364.8 L187.6 364.6 L186.1 364.4 L184.6 364.1 L183.1 363.8 L181.6 363.4 L180.1 363.0 L178.6 362.6 L177.1 362.0 L175.6 361.4 L174.1 360.8 L172.6 360.0 L171.1 359.1 L169.6 358.2 L168.1 357.1 L166.6 355.9 L165.1 354.5 L163.6 353.0 L162.1 351.4 L160.6 349.5 L159.1 347.5 L157.6 345.2 L156.1 342.8 L154.6 340.1 L153.1 337.1 L151.6 333.9 L150.1 330.3 L148.6 326.5 L147.1 322.3 L145.6 317.7 L144.1 312.8 L142.6 314.7" fill="none" stroke="#2f9cf0" stroke-opacity="0.65" stroke-width="1.79"/><path d="M235.6 368.5 L234.1 368.5 L232.6 368.5 L231.1 368.5 L229.6 368.5 L228.1 368.5 L226.6 368.5 L225.1 368.5 L223.6 368.5 L222.1 368.5 L220.6 368.5 L219.1 368.5 L217.6 368.5 L216.1 368.5 L214.6 368.5 L213.1 368.5 L211.6 368.5 L210.1 368.5 L208.6 368.5 L207.1 368.5 L205.6 368.4 L204.1 368.4 L202.6 368.4 L201.1 368.3 L199.6 368.3 L198.1 368.2 L196.6 368.1 L195.1 368.0 L193.6 367.9 L192.1 367.8 L190.6 367.6 L189.1 367.4 L187.6 367.2 L186.1 366.9 L184.6 366.6 L183.1 366.3 L181.6 365.9 L180.1 365.5 L178.6 364.9 L177.1 364.4 L175.6 363.7 L174.1 363.0 L172.6 362.1 L171.1 361.2 L169.6 360.2 L168.1 359.0 L166.6 357.7 L165.1 356.3 L163.6 354.7 L162.1 353.0 L160.6 351.1 L159.1 349.0 L157.6 346.7 L156.1 344.2 L154.6 341.4 L153.1 338.4 L151.6 335.1 L150.1 331.6 L148.6 327.7 L147.1 323.5 L145.6 319.0 L144.1 314.0 L142.6 314.7" fill="none" stroke="#30b8d8" stroke-opacity="0.66" stroke-width="1.08"/><path d="M235.6 371.2 L234.1 371.2 L232.6 371.2 L231.1 371.2 L229.6 371.2 L228.1 371.2 L226.6 371.2 L225.1 371.2 L223.6 371.2 L222.1 371.2 L220.6 371.2 L219.1 371.2 L217.6 371.2 L216.1 371.1 L214.6 371.1 L213.1 371.1 L211.6 371.1 L210.1 371.1 L208.6 371.1 L207.1 371.1 L205.6 371.0 L204.1 371.0 L202.6 371.0 L201.1 370.9 L199.6 370.9 L198.1 370.8 L196.6 370.7 L195.1 370.6 L193.6 370.4 L192.1 370.3 L190.6 370.1 L189.1 369.9 L187.6 369.6 L186.1 369.3 L184.6 369.0 L183.1 368.6 L181.6 368.2 L180.1 367.7 L178.6 367.1 L177.1 366.5 L175.6 365.8 L174.1 365.0 L172.6 364.1 L171.1 363.1 L169.6 362.0 L168.1 360.8 L166.6 359.4 L165.1 357.9 L163.6 356.3 L162.1 354.5 L160.6 352.5 L159.1 350.3 L157.6 348.0 L156.1 345.4 L154.6 342.6 L153.1 339.6 L151.6 336.2 L150.1 332.7 L148.6 328.8 L147.1 324.6 L145.6 320.1 L144.1 315.2 L142.6 314.7" fill="none" stroke="#2cb0e4" stroke-opacity="0.61" stroke-width="0.72"/><path d="M235.6 374.0 L234.1 374.0 L232.6 374.0 L231.1 374.0 L229.6 374.0 L228.1 374.0 L226.6 374.0 L225.1 374.0 L223.6 374.0 L222.1 374.0 L220.6 374.0 L219.1 374.0 L217.6 374.0 L216.1 374.0 L214.6 374.0 L213.1 374.0 L211.6 374.0 L210.1 373.9 L208.6 373.9 L207.1 373.9 L205.6 373.9 L204.1 373.8 L202.6 373.8 L201.1 373.7 L199.6 373.6 L198.1 373.5 L196.6 373.4 L195.1 373.3 L193.6 373.1 L192.1 372.9 L190.6 372.7 L189.1 372.4 L187.6 372.1 L186.1 371.8 L184.6 371.4 L183.1 371.0 L181.6 370.5 L180.1 370.0 L178.6 369.3 L177.1 368.6 L175.6 367.9 L174.1 367.0 L172.6 366.0 L171.1 365.0 L169.6 363.8 L168.1 362.5 L166.6 361.1 L165.1 359.5 L163.6 357.8 L162.1 355.9 L160.6 353.9 L159.1 351.7 L157.6 349.3 L156.1 346.6 L154.6 343.8 L153.1 340.7 L151.6 337.4 L150.1 333.8 L148.6 329.9 L147.1 325.7 L145.6 321.2 L144.1 316.4 L142.6 314.7" fill="none" stroke="#2f9cf0" stroke-opacity="0.50" stroke-width="1.06"/><path d="M235.6 376.9 L234.1 376.9 L232.6 376.9 L231.1 376.9 L229.6 376.9 L228.1 376.9 L226.6 376.9 L225.1 376.9 L223.6 376.9 L222.1 376.9 L220.6 376.9 L219.1 376.9 L217.6 376.9 L216.1 376.9 L214.6 376.9 L213.1 376.9 L211.6 376.8 L210.1 376.8 L208.6 376.8 L207.1 376.8 L205.6 376.7 L204.1 376.7 L202.6 376.6 L201.1 376.5 L199.6 376.4 L198.1 376.3 L196.6 376.1 L195.1 376.0 L193.6 375.8 L192.1 375.6 L190.6 375.3 L189.1 375.0 L187.6 374.7 L186.1 374.3 L184.6 373.9 L183.1 373.4 L181.6 372.8 L180.1 372.2 L178.6 371.5 L177.1 370.8 L175.6 369.9 L174.1 369.0 L172.6 368.0 L171.1 366.8 L169.6 365.6 L168.1 364.2 L166.6 362.7 L165.1 361.1 L163.6 359.3 L162.1 357.3 L160.6 355.2 L159.1 352.9 L157.6 350.5 L156.1 347.8 L154.6 344.9 L153.1 341.8 L151.6 338.4 L150.1 334.8 L148.6 331.0 L147.1 326.8 L145.6 322.4 L144.1 317.6 L142.6 314.7 L141.1 319.7" fill="none" stroke="#30b8d8" stroke-opacity="0.64" stroke-width="1.74"/><path d="M235.6 378.9 L234.1 378.9 L232.6 378.9 L231.1 378.9 L229.6 378.9 L228.1 378.9 L226.6 378.9 L225.1 378.9 L223.6 378.9 L222.1 378.9 L220.6 378.9 L219.1 378.9 L217.6 378.9 L216.1 378.9 L214.6 378.9 L213.1 378.9 L211.6 378.9 L210.1 378.8 L208.6 378.8 L207.1 378.8 L205.6 378.7 L204.1 378.6 L202.6 378.6 L201.1 378.5 L199.6 378.3 L198.1 378.2 L196.6 378.0 L195.1 377.9 L193.6 377.6 L192.1 377.4 L190.6 377.1 L189.1 376.8 L187.6 376.4 L186.1 376.0 L184.6 375.5 L183.1 375.0 L181.6 374.4 L180.1 373.8 L178.6 373.0 L177.1 372.2 L175.6 371.3 L174.1 370.3 L172.6 369.2 L171.1 368.0 L169.6 366.7 L168.1 365.3 L166.6 363.8 L165.1 362.1 L163.6 360.2 L162.1 358.2 L160.6 356.1 L159.1 353.7 L157.6 351.2 L156.1 348.5 L154.6 345.6 L153.1 342.5 L151.6 339.1 L150.1 335.5 L148.6 331.6 L147.1 327.5 L145.6 323.1 L144.1 318.4 L142.6 314.7 L141.1 319.7" fill="none" stroke="#3a8cf4" stroke-opacity="0.51" stroke-width="1.92"/><path d="M235.6 381.1 L234.1 381.1 L232.6 381.1 L231.1 381.1 L229.6 381.1 L228.1 381.1 L226.6 381.1 L225.1 381.1 L223.6 381.1 L222.1 381.1 L220.6 381.1 L219.1 381.1 L217.6 381.1 L216.1 381.1 L214.6 381.1 L213.1 381.0 L211.6 381.0 L210.1 381.0 L208.6 380.9 L207.1 380.9 L205.6 380.8 L204.1 380.7 L202.6 380.6 L201.1 380.5 L199.6 380.4 L198.1 380.2 L196.6 380.0 L195.1 379.8 L193.6 379.6 L192.1 379.3 L190.6 379.0 L189.1 378.6 L187.6 378.2 L186.1 377.8 L184.6 377.2 L183.1 376.7 L181.6 376.0 L180.1 375.3 L178.6 374.5 L177.1 373.7 L175.6 372.7 L174.1 371.7 L172.6 370.5 L171.1 369.3 L169.6 367.9 L168.1 366.4 L166.6 364.8 L165.1 363.0 L163.6 361.1 L162.1 359.1 L160.6 356.9 L159.1 354.5 L157.6 352.0 L156.1 349.2 L154.6 346.3 L153.1 343.1 L151.6 339.8 L150.1 336.2 L148.6 332.3 L147.1 328.2 L145.6 323.9 L144.1 319.2 L142.6 314.7 L141.1 319.7" fill="none" stroke="#5070ea" stroke-opacity="0.73" stroke-width="1.83"/><path d="M235.6 384.3 L234.1 384.3 L232.6 384.3 L231.1 384.3 L229.6 384.3 L228.1 384.3 L226.6 384.3 L225.1 384.3 L223.6 384.3 L222.1 384.3 L220.6 384.2 L219.1 384.2 L217.6 384.2 L216.1 384.2 L214.6 384.2 L213.1 384.2 L211.6 384.1 L210.1 384.1 L208.6 384.0 L207.1 383.9 L205.6 383.9 L204.1 383.8 L202.6 383.6 L201.1 383.5 L199.6 383.3 L198.1 383.1 L196.6 382.9 L195.1 382.6 L193.6 382.3 L192.1 382.0 L190.6 381.6 L189.1 381.2 L187.6 380.7 L186.1 380.2 L184.6 379.6 L183.1 379.0 L181.6 378.3 L180.1 377.5 L178.6 376.6 L177.1 375.6 L175.6 374.6 L174.1 373.5 L172.6 372.2 L171.1 370.9 L169.6 369.4 L168.1 367.8 L166.6 366.1 L165.1 364.3 L163.6 362.3 L162.1 360.2 L160.6 357.9 L159.1 355.5 L157.6 352.9 L156.1 350.1 L154.6 347.1 L153.1 344.0 L151.6 340.6 L150.1 337.0 L148.6 333.2 L147.1 329.2 L145.6 324.9 L144.1 320.3 L142.6 315.5 L141.1 319.7" fill="none" stroke="#2cb0e4" stroke-opacity="0.78" stroke-width="1.37"/><path d="M235.6 387.4 L234.1 387.4 L232.6 387.4 L231.1 387.4 L229.6 387.4 L228.1 387.4 L226.6 387.4 L225.1 387.4 L223.6 387.4 L222.1 387.4 L220.6 387.4 L219.1 387.4 L217.6 387.4 L216.1 387.3 L214.6 387.3 L213.1 387.3 L211.6 387.2 L210.1 387.2 L208.6 387.1 L207.1 387.0 L205.6 386.9 L204.1 386.7 L202.6 386.6 L201.1 386.4 L199.6 386.2 L198.1 385.9 L196.6 385.7 L195.1 385.4 L193.6 385.0 L192.1 384.6 L190.6 384.2 L189.1 383.7 L187.6 383.1 L186.1 382.5 L184.6 381.9 L183.1 381.1 L181.6 380.3 L180.1 379.4 L178.6 378.5 L177.1 377.4 L175.6 376.3 L174.1 375.1 L172.6 373.7 L171.1 372.3 L169.6 370.7 L168.1 369.1 L166.6 367.3 L165.1 365.4 L163.6 363.3 L162.1 361.1 L160.6 358.8 L159.1 356.3 L157.6 353.7 L156.1 350.8 L154.6 347.8 L153.1 344.7 L151.6 341.3 L150.1 337.7 L148.6 333.9 L147.1 330.0 L145.6 325.8 L144.1 321.3 L142.6 316.7 L141.1 319.7 L139.6 325.1" fill="none" stroke="#5070ea" stroke-opacity="0.44" stroke-width="1.17"/><path d="M235.6 389.5 L234.1 389.5 L232.6 389.5 L231.1 389.5 L229.6 389.5 L228.1 389.5 L226.6 389.5 L225.1 389.5 L223.6 389.5 L222.1 389.5 L220.6 389.4 L219.1 389.4 L217.6 389.4 L216.1 389.4 L214.6 389.3 L213.1 389.3 L211.6 389.2 L210.1 389.1 L208.6 389.0 L207.1 388.9 L205.6 388.8 L204.1 388.6 L202.6 388.4 L201.1 388.2 L199.6 388.0 L198.1 387.7 L196.6 387.4 L195.1 387.1 L193.6 386.7 L192.1 386.2 L190.6 385.7 L189.1 385.2 L187.6 384.6 L186.1 383.9 L184.6 383.2 L183.1 382.4 L181.6 381.5 L180.1 380.6 L178.6 379.6 L177.1 378.5 L175.6 377.3 L174.1 376.0 L172.6 374.6 L171.1 373.1 L169.6 371.5 L168.1 369.8 L166.6 367.9 L165.1 365.9 L163.6 363.8 L162.1 361.6 L160.6 359.2 L159.1 356.7 L157.6 354.0 L156.1 351.2 L154.6 348.2 L153.1 345.0 L151.6 341.6 L150.1 338.1 L148.6 334.4 L147.1 330.4 L145.6 326.3 L144.1 321.9 L142.6 317.3 L141.1 319.7 L139.6 325.1" fill="none" stroke="#3a8cf4" stroke-opacity="0.39" stroke-width="1.57"/><path d="M235.6 391.4 L234.1 391.4 L232.6 391.4 L231.1 391.4 L229.6 391.4 L228.1 391.4 L226.6 391.4 L225.1 391.3 L223.6 391.3 L222.1 391.3 L220.6 391.3 L219.1 391.3 L217.6 391.3 L216.1 391.2 L214.6 391.2 L213.1 391.1 L211.6 391.0 L210.1 390.9 L208.6 390.8 L207.1 390.7 L205.6 390.5 L204.1 390.3 L202.6 390.1 L201.1 389.9 L199.6 389.6 L198.1 389.3 L196.6 388.9 L195.1 388.6 L193.6 388.1 L192.1 387.6 L190.6 387.1 L189.1 386.5 L187.6 385.8 L186.1 385.1 L184.6 384.4 L183.1 383.5 L181.6 382.6 L180.1 381.6 L178.6 380.5 L177.1 379.3 L175.6 378.1 L174.1 376.7 L172.6 375.3 L171.1 373.7 L169.6 372.0 L168.1 370.3 L166.6 368.4 L165.1 366.4 L163.6 364.2 L162.1 362.0 L160.6 359.5 L159.1 357.0 L157.6 354.3 L156.1 351.4 L154.6 348.4 L153.1 345.2 L151.6 341.9 L150.1 338.4 L148.6 334.7 L147.1 330.8 L145.6 326.7 L144.1 322.4 L142.6 317.9 L141.1 319.7 L139.6 325.1" fill="none" stroke="#3a8cf4" stroke-opacity="0.70" stroke-width="1.46"/><path d="M235.6 393.4 L234.1 393.4 L232.6 393.4 L231.1 393.4 L229.6 393.4 L228.1 393.4 L226.6 393.4 L225.1 393.4 L223.6 393.4 L222.1 393.4 L220.6 393.4 L219.1 393.3 L217.6 393.3 L216.1 393.3 L214.6 393.2 L213.1 393.1 L211.6 393.0 L210.1 392.9 L208.6 392.8 L207.1 392.6 L205.6 392.4 L204.1 392.2 L202.6 391.9 L201.1 391.7 L199.6 391.3 L198.1 391.0 L196.6 390.6 L195.1 390.1 L193.6 389.7 L192.1 389.1 L190.6 388.5 L189.1 387.9 L187.6 387.1 L186.1 386.4 L184.6 385.5 L183.1 384.6 L181.6 383.6 L180.1 382.6 L178.6 381.4 L177.1 380.2 L175.6 378.8 L174.1 377.4 L172.6 375.9 L171.1 374.3 L169.6 372.6 L168.1 370.7 L166.6 368.8 L165.1 366.7 L163.6 364.5 L162.1 362.2 L160.6 359.8 L159.1 357.2 L157.6 354.5 L156.1 351.6 L154.6 348.6 L153.1 345.4 L151.6 342.1 L150.1 338.6 L148.6 334.9 L147.1 331.1 L145.6 327.1 L144.1 322.9 L142.6 318.5 L141.1 319.7 L139.6 325.1" fill="none" stroke="#2f9cf0" stroke-opacity="0.60" stroke-width="1.83"/><path d="M235.6 396.2 L234.1 396.2 L232.6 396.2 L231.1 396.2 L229.6 396.2 L228.1 396.2 L226.6 396.2 L225.1 396.2 L223.6 396.2 L222.1 396.1 L220.6 396.1 L219.1 396.0 L217.6 396.0 L216.1 395.9 L214.6 395.8 L213.1 395.7 L211.6 395.6 L210.1 395.4 L208.6 395.3 L207.1 395.1 L205.6 394.8 L204.1 394.5 L202.6 394.2 L201.1 393.9 L199.6 393.5 L198.1 393.1 L196.6 392.6 L195.1 392.1 L193.6 391.5 L192.1 390.9 L190.6 390.2 L189.1 389.5 L187.6 388.7 L186.1 387.8 L184.6 386.9 L183.1 385.9 L181.6 384.8 L180.1 383.6 L178.6 382.4 L177.1 381.1 L175.6 379.6 L174.1 378.1 L172.6 376.5 L171.1 374.8 L169.6 373.0 L168.1 371.1 L166.6 369.1 L165.1 367.0 L163.6 364.7 L162.1 362.4 L160.6 359.9 L159.1 357.3 L157.6 354.5 L156.1 351.7 L154.6 348.7 L153.1 345.5 L151.6 342.2 L150.1 338.8 L148.6 335.2 L147.1 331.4 L145.6 327.5 L144.1 323.4 L142.6 319.1 L141.1 319.7 L139.6 325.1" fill="none" stroke="#5070ea" stroke-opacity="0.36" stroke-width="0.91"/><path d="M235.6 398.8 L234.1 398.8 L232.6 398.8 L231.1 398.8 L229.6 398.8 L228.1 398.8 L226.6 398.8 L225.1 398.8 L223.6 398.7 L222.1 398.7 L220.6 398.6 L219.1 398.6 L217.6 398.5 L216.1 398.4 L214.6 398.3 L213.1 398.1 L211.6 398.0 L210.1 397.8 L208.6 397.5 L207.1 397.3 L205.6 397.0 L204.1 396.7 L202.6 396.3 L201.1 395.9 L199.6 395.4 L198.1 394.9 L196.6 394.4 L195.1 393.8 L193.6 393.1 L192.1 392.4 L190.6 391.7 L189.1 390.8 L187.6 389.9 L186.1 389.0 L184.6 387.9 L183.1 386.8 L181.6 385.7 L180.1 384.4 L178.6 383.1 L177.1 381.7 L175.6 380.2 L174.1 378.6 L172.6 376.9 L171.1 375.1 L169.6 373.2 L168.1 371.3 L166.6 369.2 L165.1 367.0 L163.6 364.7 L162.1 362.3 L160.6 359.8 L159.1 357.2 L157.6 354.4 L156.1 351.5 L154.6 348.5 L153.1 345.4 L151.6 342.2 L150.1 338.8 L148.6 335.2 L147.1 331.6 L145.6 327.7 L144.1 323.8 L142.6 319.7 L141.1 319.7 L139.6 325.1 L138.1 330.2" fill="none" stroke="#3a7cf0" stroke-opacity="0.43" stroke-width="1.69"/><path d="M235.6 401.4 L234.1 401.4 L232.6 401.4 L231.1 401.4 L229.6 401.4 L228.1 401.4 L226.6 401.4 L225.1 401.3 L223.6 401.3 L222.1 401.2 L220.6 401.2 L219.1 401.1 L217.6 401.0 L216.1 400.8 L214.6 400.7 L213.1 400.5 L211.6 400.3 L210.1 400.0 L208.6 399.7 L207.1 399.4 L205.6 399.0 L204.1 398.6 L202.6 398.2 L201.1 397.7 L199.6 397.2 L198.1 396.6 L196.6 396.0 L195.1 395.3 L193.6 394.5 L192.1 393.7 L190.6 392.9 L189.1 391.9 L187.6 390.9 L186.1 389.9 L184.6 388.7 L183.1 387.5 L181.6 386.3 L180.1 384.9 L178.6 383.5 L177.1 382.0 L175.6 380.4 L174.1 378.7 L172.6 377.0 L171.1 375.1 L169.6 373.2 L168.1 371.1 L166.6 369.0 L165.1 366.8 L163.6 364.4 L162.1 362.0 L160.6 359.5 L159.1 356.8 L157.6 354.1 L156.1 351.2 L154.6 348.2 L153.1 345.1 L151.6 341.9 L150.1 338.6 L148.6 335.1 L147.1 331.6 L145.6 327.9 L144.1 324.0 L142.6 320.1 L141.1 319.7 L139.6 325.1 L138.1 330.2" fill="none" stroke="#4a68e8" stroke-opacity="0.37" stroke-width="1.31"/><path d="M235.6 403.3 L234.1 403.3 L232.6 403.3 L231.1 403.3 L229.6 403.3 L228.1 403.2 L226.6 403.2 L225.1 403.2 L223.6 403.1 L222.1 403.0 L220.6 402.9 L219.1 402.8 L217.6 402.7 L216.1 402.5 L214.6 402.3 L213.1 402.1 L211.6 401.8 L210.1 401.5 L208.6 401.2 L207.1 400.8 L205.6 400.4 L204.1 399.9 L202.6 399.4 L201.1 398.9 L199.6 398.3 L198.1 397.6 L196.6 396.9 L195.1 396.2 L193.6 395.3 L192.1 394.5 L190.6 393.5 L189.1 392.5 L187.6 391.5 L186.1 390.3 L184.6 389.1 L183.1 387.8 L181.6 386.5 L180.1 385.1 L178.6 383.6 L177.1 382.0 L175.6 380.4 L174.1 378.6 L172.6 376.8 L171.1 374.9 L169.6 372.9 L168.1 370.8 L166.6 368.7 L165.1 366.4 L163.6 364.1 L162.1 361.6 L160.6 359.1 L159.1 356.4 L157.6 353.7 L156.1 350.8 L154.6 347.9 L153.1 344.8 L151.6 341.7 L150.1 338.4 L148.6 335.0 L147.1 331.5 L145.6 327.9 L144.1 324.1 L142.6 320.3 L141.1 319.7 L139.6 325.1 L138.1 330.2" fill="none" stroke="#3a7cf0" stroke-opacity="0.75" stroke-width="0.84"/></g><g transform="translate(133.40 390) scale(46 40)"><circle cx="0" cy="0" r="1" fill="url(#greeng)"/></g><path d="M130.40 334.00 L129.80 350.00 L128.40 362.00 L125.40 372.00 L119.40 382.00 L112.40 390.00 L105.40 396.00 L102.40 401.00 L104.40 405.00 L115.40 408.00 L133.40 410.00 L133.40 410.00 L151.40 408.00 L162.40 405.00 L164.40 401.00 L161.40 396.00 L154.40 390.00 L147.40 382.00 L141.40 372.00 L138.40 362.00 L137.00 350.00 L136.40 334.00 Z" fill="#74d078" fill-opacity="0.92" filter="url(#blC3)"/><path d="M131.00 336.00 L130.60 360.00 L129.20 374.00 L125.90 384.00 L120.40 392.00 L115.40 398.00 L114.40 403.00 L119.40 407.00 L133.40 409.50 L133.40 409.50 L147.40 407.00 L152.40 403.00 L151.40 398.00 L146.40 392.00 L140.90 384.00 L137.60 374.00 L136.20 360.00 L135.80 336.00 Z" fill="#b0d84a" fill-opacity="0.95" filter="url(#blC2)"/><path d="M131.40 338.00 L131.00 365.00 L129.80 380.00 L126.90 390.00 L122.40 396.00 L119.40 400.00 L118.90 404.00 L123.40 407.00 L133.40 409.00 L133.40 409.00 L143.40 407.00 L147.90 404.00 L147.40 400.00 L144.40 396.00 L139.90 390.00 L137.00 380.00 L135.80 365.00 L135.40 338.00 Z" fill="#dcd83a" filter="url(#blC1)"/><ellipse cx="133.40" cy="414.3" rx="48" ry="2.6" fill="#4a74e6" fill-opacity="0.9" filter="url(#blC2)"/><path d="M131.60 336 L135.20 336 L136.40 400 L130.40 400 Z" fill="url(#colg)" filter="url(#blC1)"/><g filter="url(#blC05)"><path d="M131.72 340 C131.72 375 126.13 392 120.54 409" fill="none" stroke="#f2e858" stroke-width="0.6" stroke-opacity="0.7"/><path d="M132.00 340 C132.00 375 127.27 392 122.53 409" fill="none" stroke="#f2e858" stroke-width="0.6" stroke-opacity="0.7"/><path d="M132.28 340 C132.28 375 128.63 392 124.97 409" fill="none" stroke="#f2e858" stroke-width="0.6" stroke-opacity="0.7"/><path d="M132.56 340 C132.56 375 129.61 392 126.67 409" fill="none" stroke="#f0e450" stroke-width="0.6" stroke-opacity="0.7"/><path d="M132.84 340 C132.84 375 131.22 392 129.61 409" fill="none" stroke="#b4d44c" stroke-width="0.6" stroke-opacity="0.7"/><path d="M133.12 340 C133.12 375 132.09 392 131.06 409" fill="none" stroke="#c0d848" stroke-width="0.6" stroke-opacity="0.7"/><path d="M133.40 340 C133.40 375 133.25 392 133.09 409" fill="none" stroke="#b4d44c" stroke-width="0.6" stroke-opacity="0.7"/><path d="M133.68 340 C133.68 375 134.61 392 135.54 409" fill="none" stroke="#f2e858" stroke-width="0.6" stroke-opacity="0.7"/><path d="M133.96 340 C133.96 375 135.77 392 137.58 409" fill="none" stroke="#c0d848" stroke-width="0.6" stroke-opacity="0.7"/><path d="M134.24 340 C134.24 375 136.84 392 139.43 409" fill="none" stroke="#c0d848" stroke-width="0.6" stroke-opacity="0.7"/><path d="M134.52 340 C134.52 375 138.34 392 142.17 409" fill="none" stroke="#f2e858" stroke-width="0.6" stroke-opacity="0.7"/><path d="M134.80 340 C134.80 375 139.29 392 143.79 409" fill="none" stroke="#f0e450" stroke-width="0.6" stroke-opacity="0.7"/><path d="M135.08 340 C135.08 375 140.63 392 146.17 409" fill="none" stroke="#f0e450" stroke-width="0.6" stroke-opacity="0.7"/></g></g><path d="M33.20 335.80 L33.70 335.79 L34.20 335.79 L34.70 335.78 L35.20 335.78 L35.70 335.77 L36.20 335.77 L36.70 335.76 L37.20 335.75 L37.70 335.75 L38.20 335.74 L38.70 335.74 L39.20 335.73 L39.70 335.73 L40.20 335.72 L40.70 335.72 L41.20 335.71 L41.70 335.70 L42.20 335.70 L42.70 335.69 L43.20 335.69 L43.70 335.68 L44.20 335.68 L44.70 335.67 L45.20 335.67 L45.70 335.66 L46.20 335.65 L46.70 335.65 L47.20 335.64 L47.70 335.64 L48.20 335.63 L48.70 335.63 L49.20 335.62 L49.70 335.61 L50.20 335.61 L50.70 335.60 L51.20 335.60 L51.70 335.59 L52.20 335.59 L52.70 335.58 L53.20 335.58 L53.70 335.57 L54.20 335.56 L54.70 335.56 L55.20 335.55 L55.70 335.55 L56.20 335.54 L56.70 335.54 L57.20 335.53 L57.70 335.53 L58.20 335.52 L58.70 335.51 L59.20 335.51 L59.70 335.50 L60.20 335.49 L60.70 335.47 L61.20 335.45 L61.70 335.42 L62.20 335.40 L62.70 335.38 L63.20 335.36 L63.70 335.33 L64.20 335.31 L64.70 335.29 L65.20 335.27 L65.70 335.24 L66.20 335.22 L66.70 335.20 L67.20 335.18 L67.70 335.15 L68.20 335.13 L68.70 335.11 L69.20 335.09 L69.70 335.06 L70.20 335.04 L70.70 335.02 L71.20 335.00 L71.70 334.97 L72.20 334.95 L72.70 334.93 L73.20 334.91 L73.70 334.88 L74.20 334.86 L74.70 334.84 L75.20 334.82 L75.70 334.79 L76.20 334.77 L76.70 334.75 L77.20 334.73 L77.70 334.70 L78.20 334.68 L78.70 334.66 L79.20 334.64 L79.70 334.61 L80.20 334.57 L80.70 334.50 L81.20 334.42 L81.70 334.35 L82.20 334.27 L82.70 334.19 L83.20 334.12 L83.70 334.05 L84.20 333.97 L84.70 333.90 L85.20 333.82 L85.70 333.75 L86.20 333.67 L86.70 333.60 L87.20 333.52 L87.70 333.44 L88.20 333.37 L88.70 333.30 L89.20 333.22 L89.70 333.15 L90.20 333.07 L90.70 333.00 L91.20 332.92 L91.70 332.85 L92.20 332.74 L92.70 332.59 L93.20 332.44 L93.70 332.29 L94.20 332.14 L94.70 331.99 L95.20 331.84 L95.70 331.69 L96.20 331.54 L96.70 331.39 L97.20 331.24 L97.70 331.09 L98.20 330.94 L98.70 330.79 L99.20 330.64 L99.70 330.49 L100.20 330.30 L100.70 330.06 L101.20 329.82 L101.70 329.58 L102.20 329.34 L102.70 329.09 L103.20 328.85 L103.70 328.61 L104.20 328.37 L104.70 328.13 L105.20 327.89 L105.70 327.64 L106.20 327.32 L106.70 326.89 L107.20 326.45 L107.70 326.01 L108.20 325.57 L108.70 325.14 L109.20 324.70 L109.70 324.26 L110.20 323.75 L110.70 323.12 L111.20 322.50 L111.70 321.88 L112.20 321.25 L112.70 320.62 L113.20 320.00 L113.70 319.38 L114.20 318.66 L114.70 317.81 L115.20 316.96 L115.70 316.11 L116.20 315.26 L116.70 314.41 L117.20 313.43 L117.70 312.25 L118.20 311.07 L118.70 309.89 L119.20 308.71 L119.70 307.39 L120.20 305.85 L120.70 304.31 L121.20 304.60 L121.70 306.10 L122.20 307.60 L122.70 309.13 L123.20 310.71 L123.70 312.29 L124.20 313.87 L124.70 315.45 L125.20 317.12 L125.70 318.92 L126.20 320.72 L126.70 322.52 L127.20 324.32 L127.70 326.12 L128.20 327.92 L128.70 329.44 L129.20 330.54 L129.70 331.64 L130.20 332.74 L130.70 333.84 L131.20 334.63 L131.70 334.95 L132.20 335.27 L132.70 335.59 L133.20 335.90 L133.70 335.84 L134.20 335.52 L134.70 335.20 L135.20 334.88 L135.70 334.56 L136.20 333.62 L136.70 332.52 L137.20 331.42 L137.70 330.32 L138.20 329.22 L138.70 327.56 L139.20 325.76 L139.70 323.96 L140.20 322.16 L140.70 320.36 L141.20 318.56 L141.70 316.76 L142.20 315.14 L142.70 313.56 L143.20 311.98 L143.70 310.40 L144.20 308.82 L144.70 307.30 L145.20 305.80 L145.70 304.30 L146.20 304.62 L146.70 306.16 L147.20 307.69 L147.70 308.94 L148.20 310.12 L148.70 311.30 L149.20 312.48 L149.70 313.66 L150.20 314.58 L150.70 315.43 L151.20 316.28 L151.70 317.13 L152.20 317.98 L152.70 318.83 L153.20 319.50 L153.70 320.12 L154.20 320.75 L154.70 321.38 L155.20 322.00 L155.70 322.62 L156.20 323.25 L156.70 323.88 L157.20 324.35 L157.70 324.79 L158.20 325.22 L158.70 325.66 L159.20 326.10 L159.70 326.54 L160.20 326.97 L160.70 327.41 L161.20 327.69 L161.70 327.94 L162.20 328.18 L162.70 328.42 L163.20 328.66 L163.70 328.90 L164.20 329.14 L164.70 329.38 L165.20 329.63 L165.70 329.87 L166.20 330.11 L166.70 330.35 L167.20 330.52 L167.70 330.67 L168.20 330.82 L168.70 330.97 L169.20 331.12 L169.70 331.27 L170.20 331.42 L170.70 331.57 L171.20 331.72 L171.70 331.87 L172.20 332.02 L172.70 332.17 L173.20 332.32 L173.70 332.47 L174.20 332.62 L174.70 332.77 L175.20 332.86 L175.70 332.94 L176.20 333.01 L176.70 333.09 L177.20 333.16 L177.70 333.24 L178.20 333.31 L178.70 333.38 L179.20 333.46 L179.70 333.54 L180.20 333.61 L180.70 333.69 L181.20 333.76 L181.70 333.84 L182.20 333.91 L182.70 333.99 L183.20 334.06 L183.70 334.13 L184.20 334.21 L184.70 334.29 L185.20 334.36 L185.70 334.44 L186.20 334.51 L186.70 334.59 L187.20 334.62 L187.70 334.64 L188.20 334.66 L188.70 334.69 L189.20 334.71 L189.70 334.73 L190.20 334.75 L190.70 334.78 L191.20 334.80 L191.70 334.82 L192.20 334.84 L192.70 334.87 L193.20 334.89 L193.70 334.91 L194.20 334.93 L194.70 334.96 L195.20 334.98 L195.70 335.00 L196.20 335.02 L196.70 335.05 L197.20 335.07 L197.70 335.09 L198.20 335.11 L198.70 335.14 L199.20 335.16 L199.70 335.18 L200.20 335.20 L200.70 335.23 L201.20 335.25 L201.70 335.27 L202.20 335.29 L202.70 335.32 L203.20 335.34 L203.70 335.36 L204.20 335.38 L204.70 335.41 L205.20 335.43 L205.70 335.45 L206.20 335.47 L206.70 335.50 L207.20 335.50 L207.70 335.51 L208.20 335.52 L208.70 335.52 L209.20 335.53 L209.70 335.53 L210.20 335.54 L210.70 335.54 L211.20 335.55 L211.70 335.55 L212.20 335.56 L212.70 335.57 L213.20 335.57 L213.70 335.58 L214.20 335.58 L214.70 335.59 L215.20 335.59 L215.70 335.60 L216.20 335.60 L216.70 335.61 L217.20 335.62 L217.70 335.62 L218.20 335.63 L218.70 335.63 L219.20 335.64 L219.70 335.64 L220.20 335.65 L220.70 335.66 L221.20 335.66 L221.70 335.67 L222.20 335.67 L222.70 335.68 L223.20 335.68 L223.70 335.69 L224.20 335.69 L224.70 335.70 L225.20 335.71 L225.70 335.71 L226.20 335.72 L226.70 335.72 L227.20 335.73 L227.70 335.73 L228.20 335.74 L228.70 335.74 L229.20 335.75 L229.70 335.76 L230.20 335.76 L230.70 335.77 L231.20 335.77 L231.70 335.78 L232.20 335.78 L232.70 335.79 L233.20 335.79" fill="none" stroke="#5b90f4" stroke-width="1.1" stroke-opacity="0.85"/></g>
<rect x="241.10" y="255.30" width="10.50" height="162.00" fill="url(#pg)"/>
<text transform="translate(254.70 258.97) scale(0.930 1)" font-family="Liberation Sans, sans-serif" font-size="8.8" font-weight="bold" text-anchor="start" fill="#222">35</text>
<text transform="translate(254.70 313.17) scale(0.930 1)" font-family="Liberation Sans, sans-serif" font-size="8.8" font-weight="bold" text-anchor="start" fill="#222">25</text>
<text transform="translate(254.70 367.37) scale(0.930 1)" font-family="Liberation Sans, sans-serif" font-size="8.8" font-weight="bold" text-anchor="start" fill="#222">15</text>
<text transform="translate(254.70 421.57) scale(0.930 1)" font-family="Liberation Sans, sans-serif" font-size="8.8" font-weight="bold" text-anchor="start" fill="#222">5</text>
<text transform="translate(30.20 259.27) scale(0.930 1)" font-family="Liberation Sans, sans-serif" font-size="8.8" font-weight="bold" text-anchor="end" fill="#222">1.0</text>
<text transform="translate(30.20 291.67) scale(0.930 1)" font-family="Liberation Sans, sans-serif" font-size="8.8" font-weight="bold" text-anchor="end" fill="#222">0.8</text>
<text transform="translate(30.20 324.07) scale(0.930 1)" font-family="Liberation Sans, sans-serif" font-size="8.8" font-weight="bold" text-anchor="end" fill="#222">0.6</text>
<text transform="translate(30.20 356.47) scale(0.930 1)" font-family="Liberation Sans, sans-serif" font-size="8.8" font-weight="bold" text-anchor="end" fill="#222">0.4</text>
<text transform="translate(30.20 388.87) scale(0.930 1)" font-family="Liberation Sans, sans-serif" font-size="8.8" font-weight="bold" text-anchor="end" fill="#222">0.2</text>
<text transform="translate(30.20 421.27) scale(0.930 1)" font-family="Liberation Sans, sans-serif" font-size="8.8" font-weight="bold" text-anchor="end" fill="#222">0</text>
<text transform="translate(32.80 430.17) scale(0.930 1)" font-family="Liberation Sans, sans-serif" font-size="8.8" font-weight="bold" text-anchor="middle" fill="#222">-1</text>
<text transform="translate(82.90 430.17) scale(0.930 1)" font-family="Liberation Sans, sans-serif" font-size="8.8" font-weight="bold" text-anchor="middle" fill="#222">-0.5</text>
<text transform="translate(133.40 430.17) scale(0.930 1)" font-family="Liberation Sans, sans-serif" font-size="8.8" font-weight="bold" text-anchor="middle" fill="#222">0</text>
<text transform="translate(183.50 430.17) scale(0.930 1)" font-family="Liberation Sans, sans-serif" font-size="8.8" font-weight="bold" text-anchor="middle" fill="#222">0.5</text>
<text transform="translate(233.60 430.17) scale(0.930 1)" font-family="Liberation Sans, sans-serif" font-size="8.8" font-weight="bold" text-anchor="middle" fill="#222">1</text>
<text x="133.40" y="442.20" font-family="Liberation Serif, serif" font-size="10" font-style="italic" font-weight="bold" text-anchor="middle" fill="#222">&#951;</text>
<text x="234.80" y="443.80" font-family="Liberation Sans, sans-serif" font-size="9.8" font-weight="normal" text-anchor="end" fill="#222" stroke="#222" stroke-width="0.15">&#215;10<tspan font-size="7" dy="-4.2">4</tspan></text>
<text transform="translate(13.80 337.50) rotate(-90)" font-family="Liberation Sans, sans-serif" font-size="9.8" font-weight="bold" text-anchor="middle" fill="#222">K</text>
<text x="130.80" y="468.30" font-family="Liberation Serif, serif" font-size="14.3" letter-spacing="0.25" text-anchor="middle" fill="#111">(<tspan font-weight="bold" font-size="16">c</tspan>)</text>
<rect x="311.30" y="255.30" width="230.30" height="162.00" fill="#fff" stroke="#b4b4b4" stroke-width="0.8"/>
<path d="M311.30 417.30 v-2.2 M311.30 255.30 v2.2 M368.88 417.30 v-2.2 M368.88 255.30 v2.2 M426.45 417.30 v-2.2 M426.45 255.30 v2.2 M484.03 417.30 v-2.2 M484.03 255.30 v2.2 M541.60 417.30 v-2.2 M541.60 255.30 v2.2 M311.30 255.30 h2.2 M541.60 255.30 h-2.2 M311.30 309.30 h2.2 M541.60 309.30 h-2.2 M311.30 363.30 h2.2 M541.60 363.30 h-2.2 M311.30 417.30 h2.2 M541.60 417.30 h-2.2" stroke="#b4b4b4" stroke-width="0.7" fill="none"/>
<path d="M337.30 417.30 L345.00 412.00 L355.00 405.00 L369.00 395.40 L376.00 389.00 L383.00 381.80 L388.00 378.30 L394.30 374.00 L398.90 368.10 L401.50 364.00 L403.60 361.10 L405.00 360.30 L406.60 360.10 L408.00 357.00 L410.20 351.10 L412.50 345.60 L413.70 344.60 L414.90 344.40 L415.80 340.00 L416.80 336.00 L417.70 327.00 L418.60 323.50 L419.60 321.70 L420.60 314.00 L421.90 304.70 L423.00 297.00 L424.30 287.70 L424.80 279.00 L425.20 284.00 L425.50 271.00 L425.90 277.00 L426.20 263.00 L426.60 255.30 L427.00 267.00 L427.30 260.00 L427.70 274.00 L428.00 267.00 L428.40 281.00 L428.70 276.00 L429.40 287.70 L430.60 300.00 L431.90 312.30 L432.80 322.00 L433.80 330.00 L434.80 334.00 L435.70 337.90 L436.60 339.50 L437.50 341.70 L439.50 345.00 L441.30 348.30 L442.60 352.00 L443.30 356.00 L444.20 357.20 L445.80 358.40 L447.00 359.80 L448.20 360.60 L451.70 365.30 L454.50 369.10 L457.40 373.80 L460.90 378.50 L463.00 379.80 L468.50 383.30 L476.00 388.80 L485.00 395.50 L494.00 402.20 L505.00 409.00 L519.40 417.30" fill="none" stroke="#3b58c6" stroke-width="1.35" stroke-linejoin="round" stroke-linecap="round"/>
<path d="M425.0 286 L425.4 275 L425.9 281 L426.3 268 L426.8 278 L427.2 270 L427.6 283 L428.1 274 L428.5 286" fill="none" stroke="#3b58c6" stroke-width="1.0" stroke-linejoin="round"/>
<rect x="458.60" y="259.00" width="78.80" height="59.30" fill="#fff" stroke="#b4b4b4" stroke-width="0.8"/>
<path d="M471.40 318.40 L472.00 315.00 L473.00 311.00 L474.00 309.00 L475.00 308.40 L476.00 308.80 L477.00 309.40 L478.00 310.40 L478.60 310.60 L479.40 307.40 L480.00 305.00 L480.60 301.40 L481.20 300.40 L482.00 301.00 L482.80 302.40 L483.60 303.60 L484.60 300.00 L486.00 295.00 L487.60 289.00 L489.00 284.00 L490.00 282.40 L491.00 281.40 L492.00 280.80 L492.80 280.60 L493.60 282.60 L494.40 288.00 L495.40 294.40 L496.00 290.00 L497.00 283.00 L498.00 273.00 L499.00 265.00 L499.80 261.00 L500.60 259.40 L501.20 261.40 L501.80 266.00 L502.60 274.00 L503.40 281.00 L504.00 285.00 L504.40 286.60 L505.00 285.00 L505.60 283.40 L506.20 284.00 L506.60 282.60 L507.20 283.40 L507.80 282.00 L508.40 278.00 L509.20 274.00 L510.00 271.40 L510.80 271.80 L511.40 274.00 L512.00 278.00 L512.80 283.00 L513.60 287.00 L514.40 290.00 L515.60 294.00 L516.80 298.00 L518.00 301.40 L519.20 304.00 L520.40 306.00 L521.60 307.60 L522.80 308.80 L524.00 309.80 L525.00 310.80 L525.80 312.60 L526.60 315.00 L527.60 318.40" fill="none" stroke="#3b58c6" stroke-width="1.1" stroke-linejoin="round" stroke-linecap="round"/>
<text transform="translate(455.30 262.17) scale(0.930 1)" font-family="Liberation Sans, sans-serif" font-size="8.8" font-weight="bold" text-anchor="end" fill="#222">1</text>
<text transform="translate(455.30 291.82) scale(0.930 1)" font-family="Liberation Sans, sans-serif" font-size="8.8" font-weight="bold" text-anchor="end" fill="#222">0.9</text>
<text transform="translate(455.30 321.47) scale(0.930 1)" font-family="Liberation Sans, sans-serif" font-size="8.8" font-weight="bold" text-anchor="end" fill="#222">0.8</text>
<text transform="translate(307.80 259.27) scale(0.930 1)" font-family="Liberation Sans, sans-serif" font-size="8.8" font-weight="bold" text-anchor="end" fill="#222">1.0</text>
<text transform="translate(307.80 313.27) scale(0.930 1)" font-family="Liberation Sans, sans-serif" font-size="8.8" font-weight="bold" text-anchor="end" fill="#222">0.8</text>
<text transform="translate(307.80 367.27) scale(0.930 1)" font-family="Liberation Sans, sans-serif" font-size="8.8" font-weight="bold" text-anchor="end" fill="#222">0.6</text>
<text transform="translate(307.80 421.27) scale(0.930 1)" font-family="Liberation Sans, sans-serif" font-size="8.8" font-weight="bold" text-anchor="end" fill="#222">0.4</text>
<text transform="translate(310.90 430.17) scale(0.930 1)" font-family="Liberation Sans, sans-serif" font-size="8.8" font-weight="bold" text-anchor="middle" fill="#222">-1</text>
<text transform="translate(368.48 430.17) scale(0.930 1)" font-family="Liberation Sans, sans-serif" font-size="8.8" font-weight="bold" text-anchor="middle" fill="#222">-0.5</text>
<text transform="translate(426.45 430.17) scale(0.930 1)" font-family="Liberation Sans, sans-serif" font-size="8.8" font-weight="bold" text-anchor="middle" fill="#222">0</text>
<text transform="translate(484.03 430.17) scale(0.930 1)" font-family="Liberation Sans, sans-serif" font-size="8.8" font-weight="bold" text-anchor="middle" fill="#222">0.5</text>
<text transform="translate(541.60 430.17) scale(0.930 1)" font-family="Liberation Sans, sans-serif" font-size="8.8" font-weight="bold" text-anchor="middle" fill="#222">1</text>
<text x="426.45" y="442.20" font-family="Liberation Serif, serif" font-size="10" font-style="italic" font-weight="bold" text-anchor="middle" fill="#222">&#951;</text>
<text x="542.40" y="443.80" font-family="Liberation Sans, sans-serif" font-size="9.8" font-weight="normal" text-anchor="end" fill="#222" stroke="#222" stroke-width="0.15">&#215;10<tspan font-size="7" dy="-4.2">4</tspan></text>
<text transform="translate(291.40 337.00) rotate(-90)" font-family="Liberation Sans, sans-serif" font-size="8.6" font-weight="bold" text-anchor="middle" fill="#222">Normalized energy</text>
<text x="409.00" y="468.30" font-family="Liberation Serif, serif" font-size="14.3" letter-spacing="0.25" text-anchor="middle" fill="#111">(<tspan font-weight="bold" font-size="16">d</tspan>)</text>
</svg>
</body></html>
